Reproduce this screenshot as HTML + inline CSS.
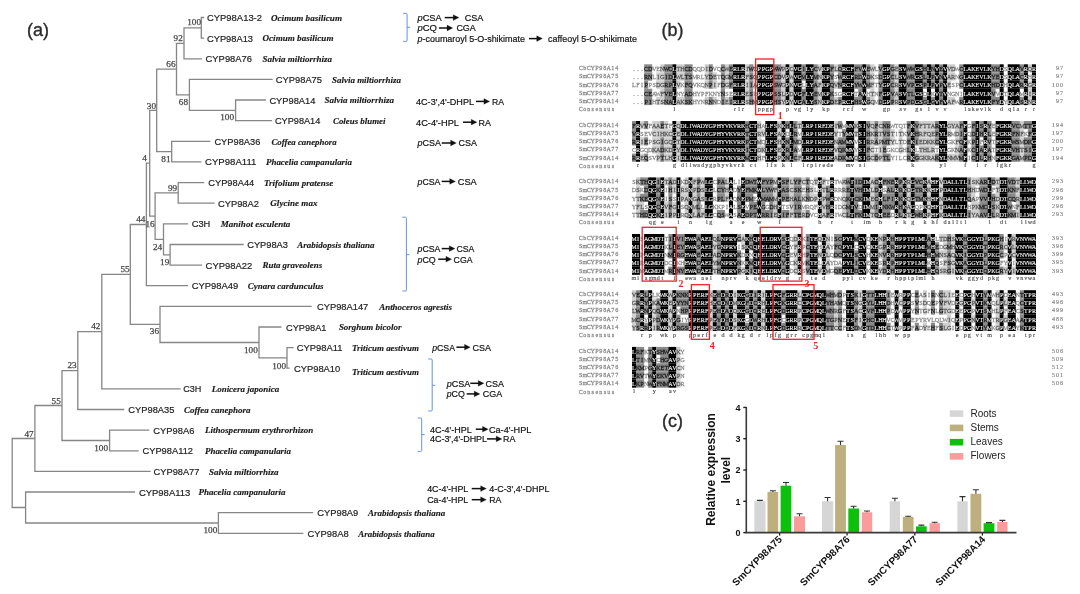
<!DOCTYPE html>
<html><head><meta charset="utf-8"><title>Figure</title>
<style>html,body{margin:0;padding:0;background:#fff;width:1080px;height:594px;overflow:hidden}
svg{display:block;font-family:"Liberation Sans",sans-serif;filter:blur(0.45px)}</style></head>
<body>
<svg width="1080" height="594" viewBox="0 0 1080 594"><g stroke="#868686" stroke-width="1.3" fill="none" stroke-linecap="square">
<path d="M201.3 17.5V38.1 M201.3 17.5H203.5 M201.3 38.1H203.5 M184.0 27.8V58.8 M184.0 27.8H201.3 M184.0 58.8H201.4 M235.6 100.0V120.7 M235.6 100.0H265.3 M235.6 120.7H271.4 M189.4 79.4V110.3 M189.4 79.4H272.0 M189.4 110.3H235.6 M176.5 43.3V94.9 M176.5 43.3H184.0 M176.5 94.9H189.4 M171.7 141.3V161.9 M171.7 141.3H209.7 M171.7 161.9H200.8 M156.7 69.1V151.6 M156.7 69.1H176.5 M156.7 151.6H171.7 M178.2 182.6V203.2 M178.2 182.6H203.6 M178.2 203.2H213.9 M170.1 244.5V265.1 M170.1 244.5H243.0 M170.1 265.1H201.4 M163.5 223.8V254.8 M163.5 223.8H187.5 M163.5 254.8H170.1 M155.1 192.9V239.3 M155.1 192.9H178.2 M155.1 239.3H163.5 M149.7 110.3V216.1 M149.7 110.3H156.7 M149.7 216.1H155.1 M146.4 163.2V285.7 M146.4 163.2H149.7 M146.4 285.7H187.5 M287.0 347.6V368.2 M287.0 347.6H293.0 M287.0 368.2H289.0 M259.0 327.0V357.9 M259.0 327.0H280.8 M259.0 357.9H287.0 M160.0 306.3V342.5 M160.0 306.3H311.0 M160.0 342.5H259.0 M130.3 224.5V324.4 M130.3 224.5H146.4 M130.3 324.4H160.0 M101.8 274.4V388.9 M101.8 274.4H130.3 M101.8 388.9H180.0 M77.8 331.7V409.5 M77.8 331.7H101.8 M77.8 409.5H123.6 M109.6 430.1V450.8 M109.6 430.1H148.6 M109.6 450.8H138.0 M62.0 370.6V440.5 M62.0 370.6H77.8 M62.0 440.5H109.6 M34.9 405.5V471.4 M34.9 405.5H62.0 M34.9 471.4H150.0 M218.4 512.7V533.3 M218.4 512.7H312.5 M218.4 533.3H302.8 M25.6 492.0V523.0 M25.6 492.0H134.4 M25.6 523.0H218.4 M12.2 438.5V507.5 M12.2 438.5H34.9 M12.2 507.5H25.6"/>
</g>
<g font-family="Liberation Serif" font-size="9.2" fill="#444" stroke="#444" stroke-width="0.25" text-anchor="end">
<text x="201.0" y="25.2">100</text>
<text x="182.8" y="40.7">92</text>
<text x="175.5" y="67.2">66</text>
<text x="188.0" y="105.0">68</text>
<text x="156.0" y="108.7">30</text>
<text x="170.5" y="161.6">81</text>
<text x="146.8" y="161.2">4</text>
<text x="177.2" y="190.7">99</text>
<text x="154.6" y="226.5">16</text>
<text x="145.4" y="222.2">44</text>
<text x="162.2" y="249.7">24</text>
<text x="169.3" y="264.8">19</text>
<text x="129.7" y="272.2">55</text>
<text x="159.0" y="334.4">36</text>
<text x="100.4" y="329.2">42</text>
<text x="76.6" y="368.2">23</text>
<text x="60.8" y="403.7">55</text>
<text x="108.0" y="450.9">100</text>
<text x="33.7" y="436.7">47</text>
<text x="217.3" y="533.2">100</text>
<text x="234.0" y="120.2">100</text>
<text x="257.8" y="353.2">100</text>
<text x="286.0" y="368.5">100</text>
</g>
<g font-family="Liberation Sans" font-size="9.9" fill="#222" stroke="#222" stroke-width="0.2">
<text x="207.0" y="21.0" textLength="55.0" lengthAdjust="spacingAndGlyphs">CYP98A13-2</text>
<text x="207.0" y="41.6" textLength="46.0" lengthAdjust="spacingAndGlyphs">CYP98A13</text>
<text x="205.6" y="62.3" textLength="46.4" lengthAdjust="spacingAndGlyphs">CYP98A76</text>
<text x="275.8" y="82.9" textLength="46.2" lengthAdjust="spacingAndGlyphs">CYP98A75</text>
<text x="269.4" y="103.5" textLength="46.0" lengthAdjust="spacingAndGlyphs">CYP98A14</text>
<text x="275.0" y="124.2" textLength="45.3" lengthAdjust="spacingAndGlyphs">CYP98A14</text>
<text x="214.4" y="144.8" textLength="45.9" lengthAdjust="spacingAndGlyphs">CYP98A36</text>
<text x="205.0" y="165.4" textLength="51.4" lengthAdjust="spacingAndGlyphs">CYP98A111</text>
<text x="208.3" y="186.1" textLength="45.9" lengthAdjust="spacingAndGlyphs">CYP98A44</text>
<text x="218.0" y="206.7" textLength="40.9" lengthAdjust="spacingAndGlyphs">CYP98A2</text>
<text x="191.7" y="227.3" textLength="18.6" lengthAdjust="spacingAndGlyphs">C3H</text>
<text x="247.2" y="248.0" textLength="40.8" lengthAdjust="spacingAndGlyphs">CYP98A3</text>
<text x="205.6" y="268.6" textLength="46.6" lengthAdjust="spacingAndGlyphs">CYP98A22</text>
<text x="191.7" y="289.2" textLength="46.6" lengthAdjust="spacingAndGlyphs">CYP98A49</text>
<text x="317.0" y="309.8" textLength="51.3" lengthAdjust="spacingAndGlyphs">CYP98A147</text>
<text x="286.0" y="330.5" textLength="40.4" lengthAdjust="spacingAndGlyphs">CYP98A1</text>
<text x="296.7" y="351.1" textLength="45.8" lengthAdjust="spacingAndGlyphs">CYP98A11</text>
<text x="293.9" y="371.7" textLength="46.4" lengthAdjust="spacingAndGlyphs">CYP98A10</text>
<text x="183.3" y="392.4" textLength="18.1" lengthAdjust="spacingAndGlyphs">C3H</text>
<text x="128.3" y="413.0" textLength="46.1" lengthAdjust="spacingAndGlyphs">CYP98A35</text>
<text x="153.3" y="433.6" textLength="41.1" lengthAdjust="spacingAndGlyphs">CYP98A6</text>
<text x="142.5" y="454.3" textLength="50.5" lengthAdjust="spacingAndGlyphs">CYP98A112</text>
<text x="153.6" y="474.9" textLength="45.8" lengthAdjust="spacingAndGlyphs">CYP98A77</text>
<text x="138.9" y="495.5" textLength="51.4" lengthAdjust="spacingAndGlyphs">CYP98A113</text>
<text x="317.2" y="516.2" textLength="41.1" lengthAdjust="spacingAndGlyphs">CYP98A9</text>
<text x="307.5" y="536.8" textLength="41.1" lengthAdjust="spacingAndGlyphs">CYP98A8</text>
</g>
<g font-family="Liberation Serif" font-size="9.2" font-weight="bold" font-style="italic" fill="#1a1a1a" stroke="#1a1a1a" stroke-width="0.15">
<text x="271.0" y="20.7" textLength="71.0" lengthAdjust="spacingAndGlyphs">Ocimum basilicum</text>
<text x="262.5" y="41.3" textLength="71.0" lengthAdjust="spacingAndGlyphs">Ocimum basilicum</text>
<text x="262.5" y="62.0" textLength="69.5" lengthAdjust="spacingAndGlyphs">Salvia miltiorrhiza</text>
<text x="332.0" y="82.6" textLength="69.0" lengthAdjust="spacingAndGlyphs">Salvia miltiorrhiza</text>
<text x="324.4" y="103.2" textLength="69.6" lengthAdjust="spacingAndGlyphs">Salvia miltiorrhiza</text>
<text x="333.0" y="123.9" textLength="52.5" lengthAdjust="spacingAndGlyphs">Coleus blumei</text>
<text x="271.4" y="144.5" textLength="65.3" lengthAdjust="spacingAndGlyphs">Coffea canephora</text>
<text x="266.0" y="165.1" textLength="86.0" lengthAdjust="spacingAndGlyphs">Phacelia campanularia</text>
<text x="263.9" y="185.8" textLength="69.4" lengthAdjust="spacingAndGlyphs">Trifolium pratense</text>
<text x="270.3" y="206.4" textLength="47.2" lengthAdjust="spacingAndGlyphs">Glycine max</text>
<text x="220.8" y="227.0" textLength="69.5" lengthAdjust="spacingAndGlyphs">Manihot esculenta</text>
<text x="297.2" y="247.7" textLength="77.2" lengthAdjust="spacingAndGlyphs">Arabidopsis thaliana</text>
<text x="262.5" y="268.3" textLength="59.7" lengthAdjust="spacingAndGlyphs">Ruta graveolens</text>
<text x="247.8" y="288.9" textLength="75.8" lengthAdjust="spacingAndGlyphs">Cynara cardunculus</text>
<text x="379.2" y="309.5" textLength="72.8" lengthAdjust="spacingAndGlyphs">Anthoceros agrestis</text>
<text x="338.9" y="330.2" textLength="62.5" lengthAdjust="spacingAndGlyphs">Sorghum bicolor</text>
<text x="352.0" y="350.8" textLength="66.9" lengthAdjust="spacingAndGlyphs">Triticum aestivum</text>
<text x="352.0" y="374.7" textLength="66.9" lengthAdjust="spacingAndGlyphs">Triticum aestivum</text>
<text x="211.7" y="392.1" textLength="67.5" lengthAdjust="spacingAndGlyphs">Lonicera japonica</text>
<text x="183.9" y="412.7" textLength="66.7" lengthAdjust="spacingAndGlyphs">Coffea canephora</text>
<text x="205.0" y="433.3" textLength="108.3" lengthAdjust="spacingAndGlyphs">Lithospermum erythrorhizon</text>
<text x="205.0" y="454.0" textLength="86.0" lengthAdjust="spacingAndGlyphs">Phacelia campanularia</text>
<text x="208.9" y="474.6" textLength="69.7" lengthAdjust="spacingAndGlyphs">Salvia miltiorrhiza</text>
<text x="198.4" y="495.2" textLength="87.2" lengthAdjust="spacingAndGlyphs">Phacelia campanularia</text>
<text x="368.0" y="515.9" textLength="77.3" lengthAdjust="spacingAndGlyphs">Arabidopsis thaliana</text>
<text x="358.3" y="536.5" textLength="76.4" lengthAdjust="spacingAndGlyphs">Arabidopsis thaliana</text>
</g>
<g font-family="Liberation Sans" font-size="9.7" fill="#151515" stroke="#151515" stroke-width="0.22">
<path d="M403.1 13.3H406.1Q407.1 13.3 407.1 14.3V40.4Q407.1 41.4 406.1 41.4H403.1M407.1 27.3H410.1" stroke="#6693da" stroke-width="1.0" fill="none"/>
<text x="417.5" y="20.8" textLength="24.2" lengthAdjust="spacingAndGlyphs"><tspan font-style="italic">p</tspan>CSA</text>
<path d="M444.7 17.6H455.0" stroke="#111" stroke-width="1.5"/>
<path d="M453.2 14.7L459.0 17.6L453.2 20.5Z" fill="#111"/>
<text x="464.7" y="20.8" textLength="18.6" lengthAdjust="spacingAndGlyphs">CSA</text>
<text x="417.5" y="31.4" textLength="19.5" lengthAdjust="spacingAndGlyphs"><tspan font-style="italic">p</tspan>CQ</text>
<path d="M439.0 28.0H448.8" stroke="#111" stroke-width="1.5"/>
<path d="M447.0 25.1L452.8 28.0L447.0 30.9Z" fill="#111"/>
<text x="456.4" y="31.4" textLength="19.4" lengthAdjust="spacingAndGlyphs">CGA</text>
<text x="417.5" y="42.0" textLength="107.5" lengthAdjust="spacingAndGlyphs"><tspan font-style="italic">p</tspan>-coumaroyl 5-O-shikimate</text>
<path d="M529.0 38.6H538.5" stroke="#111" stroke-width="1.5"/>
<path d="M536.7 35.7L542.5 38.6L536.7 41.5Z" fill="#111"/>
<text x="548.0" y="42.0" textLength="89.0" lengthAdjust="spacingAndGlyphs">caffeoyl 5-O-shikimate</text>
<text x="416.0" y="104.8" textLength="58.0" lengthAdjust="spacingAndGlyphs">4C-3',4'-DHPL</text>
<path d="M476.0 101.4H485.7" stroke="#111" stroke-width="1.5"/>
<path d="M483.9 98.5L489.7 101.4L483.9 104.3Z" fill="#111"/>
<text x="492.0" y="104.8" textLength="12.0" lengthAdjust="spacingAndGlyphs">RA</text>
<text x="416.0" y="125.6" textLength="43.0" lengthAdjust="spacingAndGlyphs">4C-4'-HPL</text>
<path d="M463.0 122.2H473.0" stroke="#111" stroke-width="1.5"/>
<path d="M471.2 119.3L477.0 122.2L471.2 125.1Z" fill="#111"/>
<text x="478.6" y="125.6" textLength="12.4" lengthAdjust="spacingAndGlyphs">RA</text>
<text x="417.5" y="146.4" textLength="23.5" lengthAdjust="spacingAndGlyphs"><tspan font-style="italic">p</tspan>CSA</text>
<path d="M441.7 143.0H452.4" stroke="#111" stroke-width="1.5"/>
<path d="M450.6 140.1L456.4 143.0L450.6 145.9Z" fill="#111"/>
<text x="458.6" y="146.4" textLength="18.4" lengthAdjust="spacingAndGlyphs">CSA</text>
<text x="417.5" y="184.8" textLength="23.0" lengthAdjust="spacingAndGlyphs"><tspan font-style="italic">p</tspan>CSA</text>
<path d="M441.7 181.4H451.5" stroke="#111" stroke-width="1.5"/>
<path d="M449.7 178.5L455.5 181.4L449.7 184.3Z" fill="#111"/>
<text x="457.8" y="184.8" textLength="18.9" lengthAdjust="spacingAndGlyphs">CSA</text>
<path d="M402.4 217.2H405.4Q406.4 217.2 406.4 218.2V290.0Q406.4 291.0 405.4 291.0H402.4M406.4 254.7H409.4" stroke="#6693da" stroke-width="1.0" fill="none"/>
<text x="417.5" y="252.0" textLength="23.0" lengthAdjust="spacingAndGlyphs"><tspan font-style="italic">p</tspan>CSA</text>
<path d="M441.7 248.6H451.0" stroke="#111" stroke-width="1.5"/>
<path d="M449.2 245.7L455.0 248.6L449.2 251.5Z" fill="#111"/>
<text x="456.4" y="252.0" textLength="18.0" lengthAdjust="spacingAndGlyphs">CSA</text>
<text x="417.5" y="262.6" textLength="18.1" lengthAdjust="spacingAndGlyphs"><tspan font-style="italic">p</tspan>CQ</text>
<path d="M438.3 259.2H447.7" stroke="#111" stroke-width="1.5"/>
<path d="M445.9 256.3L451.7 259.2L445.9 262.1Z" fill="#111"/>
<text x="453.6" y="262.6" textLength="18.9" lengthAdjust="spacingAndGlyphs">CGA</text>
<text x="432.2" y="350.6" textLength="22.8" lengthAdjust="spacingAndGlyphs"><tspan font-style="italic">p</tspan>CSA</text>
<path d="M456.4 347.2H466.3" stroke="#111" stroke-width="1.5"/>
<path d="M464.5 344.3L470.3 347.2L464.5 350.1Z" fill="#111"/>
<text x="472.5" y="350.6" textLength="18.5" lengthAdjust="spacingAndGlyphs">CSA</text>
<path d="M428.2 359.0H431.2Q432.2 359.0 432.2 360.0V410.0Q432.2 411.0 431.2 411.0H428.2M432.2 385.3H435.2" stroke="#6693da" stroke-width="1.0" fill="none"/>
<text x="446.7" y="386.7" textLength="23.6" lengthAdjust="spacingAndGlyphs"><tspan font-style="italic">p</tspan>CSA</text>
<path d="M470.3 383.3H480.0" stroke="#111" stroke-width="1.5"/>
<path d="M478.2 380.4L484.0 383.3L478.2 386.2Z" fill="#111"/>
<text x="485.6" y="386.7" textLength="18.4" lengthAdjust="spacingAndGlyphs">CSA</text>
<text x="446.7" y="397.3" textLength="18.0" lengthAdjust="spacingAndGlyphs"><tspan font-style="italic">p</tspan>CQ</text>
<path d="M466.7 393.9H476.0" stroke="#111" stroke-width="1.5"/>
<path d="M474.2 391.0L480.0 393.9L474.2 396.8Z" fill="#111"/>
<text x="482.8" y="397.3" textLength="19.4" lengthAdjust="spacingAndGlyphs">CGA</text>
<path d="M417.7 418.0H420.7Q421.7 418.0 421.7 419.0V450.4Q421.7 451.4 420.7 451.4H417.7M421.7 434.7H424.7" stroke="#6693da" stroke-width="1.0" fill="none"/>
<text x="430.0" y="432.6" textLength="41.7" lengthAdjust="spacingAndGlyphs">4C-4'-HPL</text>
<path d="M475.8 429.2H484.3" stroke="#111" stroke-width="1.5"/>
<path d="M482.5 426.3L488.3 429.2L482.5 432.1Z" fill="#111"/>
<text x="488.9" y="432.6" textLength="42.5" lengthAdjust="spacingAndGlyphs">Ca-4'-HPL</text>
<text x="430.0" y="442.3" textLength="57.0" lengthAdjust="spacingAndGlyphs">4C-3',4'-DHPL</text>
<path d="M487.0 438.9H498.0" stroke="#111" stroke-width="1.5"/>
<path d="M496.2 436.0L502.0 438.9L496.2 441.8Z" fill="#111"/>
<text x="503.0" y="442.3" textLength="12.3" lengthAdjust="spacingAndGlyphs">RA</text>
<text x="427.2" y="492.0" textLength="41.1" lengthAdjust="spacingAndGlyphs">4C-4'-HPL</text>
<path d="M471.7 488.6H482.4" stroke="#111" stroke-width="1.5"/>
<path d="M480.6 485.7L486.4 488.6L480.6 491.5Z" fill="#111"/>
<text x="489.2" y="492.0" textLength="60.2" lengthAdjust="spacingAndGlyphs">4-C-3',4'-DHPL</text>
<text x="427.2" y="503.1" textLength="41.1" lengthAdjust="spacingAndGlyphs">Ca-4'-HPL</text>
<path d="M471.7 499.7H482.4" stroke="#111" stroke-width="1.5"/>
<path d="M480.6 496.8L486.4 499.7L480.6 502.6Z" fill="#111"/>
<text x="489.2" y="503.1" textLength="12.2" lengthAdjust="spacingAndGlyphs">RA</text>
</g>
<g font-family="Liberation Sans" font-size="18" fill="#2a2a2a" stroke="#2a2a2a" stroke-width="0.35">
<text x="27" y="35.8">(a)</text>
<text x="661.5" y="35.9">(b)</text>
<text x="662" y="426.6">(c)</text>
</g>
<g font-family="Liberation Serif" font-size="7.1" text-anchor="middle">
<rect x="644.12" y="64.30" width="8.08" height="8.20" fill="#8a8a8a"/>
<rect x="660.28" y="64.30" width="4.04" height="8.20" fill="#cfcfcf"/>
<rect x="664.32" y="64.30" width="8.08" height="8.20" fill="#8a8a8a"/>
<rect x="672.40" y="64.30" width="4.04" height="8.20" fill="#000000"/>
<rect x="676.44" y="64.30" width="8.08" height="8.20" fill="#cfcfcf"/>
<rect x="684.52" y="64.30" width="8.08" height="8.20" fill="#8a8a8a"/>
<rect x="704.72" y="64.30" width="4.04" height="8.20" fill="#cfcfcf"/>
<rect x="708.76" y="64.30" width="4.04" height="8.20" fill="#8a8a8a"/>
<rect x="720.88" y="64.30" width="4.04" height="8.20" fill="#8a8a8a"/>
<rect x="724.92" y="64.30" width="4.04" height="8.20" fill="#cfcfcf"/>
<rect x="728.96" y="64.30" width="4.04" height="8.20" fill="#8a8a8a"/>
<rect x="733.00" y="64.30" width="12.12" height="8.20" fill="#000000"/>
<rect x="745.12" y="64.30" width="4.04" height="8.20" fill="#cfcfcf"/>
<rect x="749.16" y="64.30" width="4.04" height="8.20" fill="#8a8a8a"/>
<rect x="753.20" y="64.30" width="4.04" height="8.20" fill="#cfcfcf"/>
<rect x="757.24" y="64.30" width="16.16" height="8.20" fill="#000000"/>
<rect x="773.40" y="64.30" width="8.08" height="8.20" fill="#8a8a8a"/>
<rect x="781.48" y="64.30" width="4.04" height="8.20" fill="#cfcfcf"/>
<rect x="785.52" y="64.30" width="4.04" height="8.20" fill="#000000"/>
<rect x="789.56" y="64.30" width="4.04" height="8.20" fill="#cfcfcf"/>
<rect x="793.60" y="64.30" width="8.08" height="8.20" fill="#000000"/>
<rect x="801.68" y="64.30" width="4.04" height="8.20" fill="#8a8a8a"/>
<rect x="805.72" y="64.30" width="8.08" height="8.20" fill="#000000"/>
<rect x="813.80" y="64.30" width="4.04" height="8.20" fill="#8a8a8a"/>
<rect x="817.84" y="64.30" width="4.04" height="8.20" fill="#cfcfcf"/>
<rect x="821.88" y="64.30" width="8.08" height="8.20" fill="#000000"/>
<rect x="829.96" y="64.30" width="4.04" height="8.20" fill="#8a8a8a"/>
<rect x="834.00" y="64.30" width="4.04" height="8.20" fill="#cfcfcf"/>
<rect x="838.04" y="64.30" width="4.04" height="8.20" fill="#8a8a8a"/>
<rect x="842.08" y="64.30" width="12.12" height="8.20" fill="#000000"/>
<rect x="854.20" y="64.30" width="8.08" height="8.20" fill="#8a8a8a"/>
<rect x="862.28" y="64.30" width="4.04" height="8.20" fill="#000000"/>
<rect x="866.32" y="64.30" width="4.04" height="8.20" fill="#8a8a8a"/>
<rect x="870.36" y="64.30" width="4.04" height="8.20" fill="#cfcfcf"/>
<rect x="878.44" y="64.30" width="4.04" height="8.20" fill="#8a8a8a"/>
<rect x="882.48" y="64.30" width="8.08" height="8.20" fill="#000000"/>
<rect x="890.56" y="64.30" width="4.04" height="8.20" fill="#8a8a8a"/>
<rect x="894.60" y="64.30" width="4.04" height="8.20" fill="#cfcfcf"/>
<rect x="898.64" y="64.30" width="8.08" height="8.20" fill="#000000"/>
<rect x="906.72" y="64.30" width="8.08" height="8.20" fill="#8a8a8a"/>
<rect x="914.80" y="64.30" width="8.08" height="8.20" fill="#000000"/>
<rect x="922.88" y="64.30" width="4.04" height="8.20" fill="#8a8a8a"/>
<rect x="926.92" y="64.30" width="4.04" height="8.20" fill="#000000"/>
<rect x="930.96" y="64.30" width="4.04" height="8.20" fill="#8a8a8a"/>
<rect x="935.00" y="64.30" width="4.04" height="8.20" fill="#000000"/>
<rect x="939.04" y="64.30" width="4.04" height="8.20" fill="#8a8a8a"/>
<rect x="943.08" y="64.30" width="4.04" height="8.20" fill="#000000"/>
<rect x="947.12" y="64.30" width="8.08" height="8.20" fill="#cfcfcf"/>
<rect x="959.24" y="64.30" width="4.04" height="8.20" fill="#8a8a8a"/>
<rect x="963.28" y="64.30" width="28.28" height="8.20" fill="#000000"/>
<rect x="991.56" y="64.30" width="8.08" height="8.20" fill="#8a8a8a"/>
<rect x="999.64" y="64.30" width="4.04" height="8.20" fill="#000000"/>
<rect x="1007.72" y="64.30" width="12.12" height="8.20" fill="#000000"/>
<rect x="1019.84" y="64.30" width="4.04" height="8.20" fill="#8a8a8a"/>
<rect x="1023.88" y="64.30" width="4.04" height="8.20" fill="#000000"/>
<rect x="1027.92" y="64.30" width="4.04" height="8.20" fill="#cfcfcf"/>
<rect x="1031.96" y="64.30" width="4.04" height="8.20" fill="#000000"/>
<rect x="644.12" y="72.45" width="8.08" height="8.20" fill="#8a8a8a"/>
<rect x="656.24" y="72.45" width="8.08" height="8.20" fill="#cfcfcf"/>
<rect x="664.32" y="72.45" width="8.08" height="8.20" fill="#8a8a8a"/>
<rect x="672.40" y="72.45" width="4.04" height="8.20" fill="#000000"/>
<rect x="676.44" y="72.45" width="8.08" height="8.20" fill="#cfcfcf"/>
<rect x="684.52" y="72.45" width="8.08" height="8.20" fill="#8a8a8a"/>
<rect x="704.72" y="72.45" width="4.04" height="8.20" fill="#cfcfcf"/>
<rect x="708.76" y="72.45" width="4.04" height="8.20" fill="#8a8a8a"/>
<rect x="712.80" y="72.45" width="4.04" height="8.20" fill="#cfcfcf"/>
<rect x="720.88" y="72.45" width="4.04" height="8.20" fill="#8a8a8a"/>
<rect x="724.92" y="72.45" width="4.04" height="8.20" fill="#cfcfcf"/>
<rect x="728.96" y="72.45" width="4.04" height="8.20" fill="#8a8a8a"/>
<rect x="733.00" y="72.45" width="12.12" height="8.20" fill="#000000"/>
<rect x="745.12" y="72.45" width="4.04" height="8.20" fill="#cfcfcf"/>
<rect x="749.16" y="72.45" width="4.04" height="8.20" fill="#8a8a8a"/>
<rect x="753.20" y="72.45" width="4.04" height="8.20" fill="#cfcfcf"/>
<rect x="757.24" y="72.45" width="16.16" height="8.20" fill="#000000"/>
<rect x="773.40" y="72.45" width="8.08" height="8.20" fill="#8a8a8a"/>
<rect x="781.48" y="72.45" width="4.04" height="8.20" fill="#cfcfcf"/>
<rect x="785.52" y="72.45" width="4.04" height="8.20" fill="#000000"/>
<rect x="789.56" y="72.45" width="4.04" height="8.20" fill="#cfcfcf"/>
<rect x="793.60" y="72.45" width="8.08" height="8.20" fill="#000000"/>
<rect x="801.68" y="72.45" width="4.04" height="8.20" fill="#8a8a8a"/>
<rect x="805.72" y="72.45" width="8.08" height="8.20" fill="#000000"/>
<rect x="813.80" y="72.45" width="4.04" height="8.20" fill="#8a8a8a"/>
<rect x="817.84" y="72.45" width="4.04" height="8.20" fill="#cfcfcf"/>
<rect x="821.88" y="72.45" width="8.08" height="8.20" fill="#000000"/>
<rect x="829.96" y="72.45" width="4.04" height="8.20" fill="#8a8a8a"/>
<rect x="838.04" y="72.45" width="4.04" height="8.20" fill="#8a8a8a"/>
<rect x="842.08" y="72.45" width="12.12" height="8.20" fill="#000000"/>
<rect x="854.20" y="72.45" width="8.08" height="8.20" fill="#8a8a8a"/>
<rect x="862.28" y="72.45" width="4.04" height="8.20" fill="#000000"/>
<rect x="866.32" y="72.45" width="4.04" height="8.20" fill="#8a8a8a"/>
<rect x="870.36" y="72.45" width="4.04" height="8.20" fill="#cfcfcf"/>
<rect x="878.44" y="72.45" width="4.04" height="8.20" fill="#8a8a8a"/>
<rect x="882.48" y="72.45" width="8.08" height="8.20" fill="#000000"/>
<rect x="890.56" y="72.45" width="4.04" height="8.20" fill="#8a8a8a"/>
<rect x="894.60" y="72.45" width="4.04" height="8.20" fill="#cfcfcf"/>
<rect x="898.64" y="72.45" width="8.08" height="8.20" fill="#000000"/>
<rect x="906.72" y="72.45" width="8.08" height="8.20" fill="#8a8a8a"/>
<rect x="914.80" y="72.45" width="8.08" height="8.20" fill="#000000"/>
<rect x="922.88" y="72.45" width="4.04" height="8.20" fill="#8a8a8a"/>
<rect x="926.92" y="72.45" width="4.04" height="8.20" fill="#000000"/>
<rect x="930.96" y="72.45" width="4.04" height="8.20" fill="#8a8a8a"/>
<rect x="935.00" y="72.45" width="4.04" height="8.20" fill="#000000"/>
<rect x="939.04" y="72.45" width="4.04" height="8.20" fill="#8a8a8a"/>
<rect x="943.08" y="72.45" width="4.04" height="8.20" fill="#000000"/>
<rect x="947.12" y="72.45" width="8.08" height="8.20" fill="#cfcfcf"/>
<rect x="959.24" y="72.45" width="4.04" height="8.20" fill="#8a8a8a"/>
<rect x="963.28" y="72.45" width="28.28" height="8.20" fill="#000000"/>
<rect x="991.56" y="72.45" width="8.08" height="8.20" fill="#8a8a8a"/>
<rect x="999.64" y="72.45" width="4.04" height="8.20" fill="#000000"/>
<rect x="1007.72" y="72.45" width="12.12" height="8.20" fill="#000000"/>
<rect x="1019.84" y="72.45" width="4.04" height="8.20" fill="#8a8a8a"/>
<rect x="1023.88" y="72.45" width="4.04" height="8.20" fill="#000000"/>
<rect x="1031.96" y="72.45" width="4.04" height="8.20" fill="#000000"/>
<rect x="644.12" y="80.60" width="4.04" height="8.20" fill="#8a8a8a"/>
<rect x="656.24" y="80.60" width="8.08" height="8.20" fill="#cfcfcf"/>
<rect x="664.32" y="80.60" width="8.08" height="8.20" fill="#8a8a8a"/>
<rect x="672.40" y="80.60" width="4.04" height="8.20" fill="#000000"/>
<rect x="676.44" y="80.60" width="4.04" height="8.20" fill="#cfcfcf"/>
<rect x="684.52" y="80.60" width="8.08" height="8.20" fill="#8a8a8a"/>
<rect x="704.72" y="80.60" width="4.04" height="8.20" fill="#cfcfcf"/>
<rect x="708.76" y="80.60" width="4.04" height="8.20" fill="#8a8a8a"/>
<rect x="712.80" y="80.60" width="4.04" height="8.20" fill="#cfcfcf"/>
<rect x="720.88" y="80.60" width="4.04" height="8.20" fill="#8a8a8a"/>
<rect x="724.92" y="80.60" width="4.04" height="8.20" fill="#cfcfcf"/>
<rect x="728.96" y="80.60" width="4.04" height="8.20" fill="#8a8a8a"/>
<rect x="733.00" y="80.60" width="12.12" height="8.20" fill="#000000"/>
<rect x="745.12" y="80.60" width="4.04" height="8.20" fill="#cfcfcf"/>
<rect x="749.16" y="80.60" width="4.04" height="8.20" fill="#8a8a8a"/>
<rect x="753.20" y="80.60" width="4.04" height="8.20" fill="#cfcfcf"/>
<rect x="757.24" y="80.60" width="16.16" height="8.20" fill="#000000"/>
<rect x="773.40" y="80.60" width="8.08" height="8.20" fill="#8a8a8a"/>
<rect x="781.48" y="80.60" width="4.04" height="8.20" fill="#cfcfcf"/>
<rect x="785.52" y="80.60" width="4.04" height="8.20" fill="#000000"/>
<rect x="789.56" y="80.60" width="4.04" height="8.20" fill="#cfcfcf"/>
<rect x="793.60" y="80.60" width="8.08" height="8.20" fill="#000000"/>
<rect x="805.72" y="80.60" width="8.08" height="8.20" fill="#000000"/>
<rect x="813.80" y="80.60" width="4.04" height="8.20" fill="#8a8a8a"/>
<rect x="817.84" y="80.60" width="4.04" height="8.20" fill="#cfcfcf"/>
<rect x="821.88" y="80.60" width="8.08" height="8.20" fill="#000000"/>
<rect x="829.96" y="80.60" width="4.04" height="8.20" fill="#8a8a8a"/>
<rect x="834.00" y="80.60" width="4.04" height="8.20" fill="#cfcfcf"/>
<rect x="838.04" y="80.60" width="4.04" height="8.20" fill="#8a8a8a"/>
<rect x="842.08" y="80.60" width="12.12" height="8.20" fill="#000000"/>
<rect x="854.20" y="80.60" width="8.08" height="8.20" fill="#8a8a8a"/>
<rect x="862.28" y="80.60" width="4.04" height="8.20" fill="#000000"/>
<rect x="866.32" y="80.60" width="4.04" height="8.20" fill="#8a8a8a"/>
<rect x="870.36" y="80.60" width="4.04" height="8.20" fill="#cfcfcf"/>
<rect x="878.44" y="80.60" width="4.04" height="8.20" fill="#8a8a8a"/>
<rect x="882.48" y="80.60" width="8.08" height="8.20" fill="#000000"/>
<rect x="890.56" y="80.60" width="4.04" height="8.20" fill="#8a8a8a"/>
<rect x="894.60" y="80.60" width="4.04" height="8.20" fill="#cfcfcf"/>
<rect x="898.64" y="80.60" width="8.08" height="8.20" fill="#000000"/>
<rect x="906.72" y="80.60" width="8.08" height="8.20" fill="#8a8a8a"/>
<rect x="914.80" y="80.60" width="8.08" height="8.20" fill="#000000"/>
<rect x="922.88" y="80.60" width="4.04" height="8.20" fill="#8a8a8a"/>
<rect x="926.92" y="80.60" width="4.04" height="8.20" fill="#000000"/>
<rect x="930.96" y="80.60" width="4.04" height="8.20" fill="#8a8a8a"/>
<rect x="935.00" y="80.60" width="4.04" height="8.20" fill="#000000"/>
<rect x="939.04" y="80.60" width="4.04" height="8.20" fill="#8a8a8a"/>
<rect x="943.08" y="80.60" width="4.04" height="8.20" fill="#000000"/>
<rect x="947.12" y="80.60" width="4.04" height="8.20" fill="#cfcfcf"/>
<rect x="959.24" y="80.60" width="4.04" height="8.20" fill="#8a8a8a"/>
<rect x="963.28" y="80.60" width="28.28" height="8.20" fill="#000000"/>
<rect x="991.56" y="80.60" width="8.08" height="8.20" fill="#8a8a8a"/>
<rect x="999.64" y="80.60" width="4.04" height="8.20" fill="#000000"/>
<rect x="1007.72" y="80.60" width="12.12" height="8.20" fill="#000000"/>
<rect x="1019.84" y="80.60" width="4.04" height="8.20" fill="#8a8a8a"/>
<rect x="1023.88" y="80.60" width="4.04" height="8.20" fill="#000000"/>
<rect x="1027.92" y="80.60" width="4.04" height="8.20" fill="#cfcfcf"/>
<rect x="1031.96" y="80.60" width="4.04" height="8.20" fill="#000000"/>
<rect x="644.12" y="88.75" width="8.08" height="8.20" fill="#8a8a8a"/>
<rect x="660.28" y="88.75" width="4.04" height="8.20" fill="#cfcfcf"/>
<rect x="664.32" y="88.75" width="8.08" height="8.20" fill="#8a8a8a"/>
<rect x="672.40" y="88.75" width="4.04" height="8.20" fill="#000000"/>
<rect x="684.52" y="88.75" width="8.08" height="8.20" fill="#8a8a8a"/>
<rect x="720.88" y="88.75" width="4.04" height="8.20" fill="#8a8a8a"/>
<rect x="733.00" y="88.75" width="12.12" height="8.20" fill="#000000"/>
<rect x="745.12" y="88.75" width="4.04" height="8.20" fill="#cfcfcf"/>
<rect x="749.16" y="88.75" width="4.04" height="8.20" fill="#8a8a8a"/>
<rect x="757.24" y="88.75" width="16.16" height="8.20" fill="#000000"/>
<rect x="773.40" y="88.75" width="8.08" height="8.20" fill="#8a8a8a"/>
<rect x="781.48" y="88.75" width="4.04" height="8.20" fill="#cfcfcf"/>
<rect x="785.52" y="88.75" width="4.04" height="8.20" fill="#000000"/>
<rect x="789.56" y="88.75" width="4.04" height="8.20" fill="#cfcfcf"/>
<rect x="793.60" y="88.75" width="8.08" height="8.20" fill="#000000"/>
<rect x="801.68" y="88.75" width="4.04" height="8.20" fill="#8a8a8a"/>
<rect x="805.72" y="88.75" width="8.08" height="8.20" fill="#000000"/>
<rect x="813.80" y="88.75" width="4.04" height="8.20" fill="#8a8a8a"/>
<rect x="817.84" y="88.75" width="4.04" height="8.20" fill="#cfcfcf"/>
<rect x="821.88" y="88.75" width="8.08" height="8.20" fill="#000000"/>
<rect x="829.96" y="88.75" width="4.04" height="8.20" fill="#8a8a8a"/>
<rect x="842.08" y="88.75" width="12.12" height="8.20" fill="#000000"/>
<rect x="858.24" y="88.75" width="4.04" height="8.20" fill="#8a8a8a"/>
<rect x="862.28" y="88.75" width="4.04" height="8.20" fill="#000000"/>
<rect x="870.36" y="88.75" width="4.04" height="8.20" fill="#cfcfcf"/>
<rect x="878.44" y="88.75" width="4.04" height="8.20" fill="#8a8a8a"/>
<rect x="882.48" y="88.75" width="8.08" height="8.20" fill="#000000"/>
<rect x="890.56" y="88.75" width="4.04" height="8.20" fill="#8a8a8a"/>
<rect x="894.60" y="88.75" width="4.04" height="8.20" fill="#cfcfcf"/>
<rect x="898.64" y="88.75" width="8.08" height="8.20" fill="#000000"/>
<rect x="906.72" y="88.75" width="8.08" height="8.20" fill="#8a8a8a"/>
<rect x="914.80" y="88.75" width="8.08" height="8.20" fill="#000000"/>
<rect x="926.92" y="88.75" width="4.04" height="8.20" fill="#000000"/>
<rect x="935.00" y="88.75" width="4.04" height="8.20" fill="#000000"/>
<rect x="939.04" y="88.75" width="4.04" height="8.20" fill="#8a8a8a"/>
<rect x="943.08" y="88.75" width="4.04" height="8.20" fill="#000000"/>
<rect x="963.28" y="88.75" width="28.28" height="8.20" fill="#000000"/>
<rect x="991.56" y="88.75" width="4.04" height="8.20" fill="#8a8a8a"/>
<rect x="999.64" y="88.75" width="4.04" height="8.20" fill="#000000"/>
<rect x="1007.72" y="88.75" width="12.12" height="8.20" fill="#000000"/>
<rect x="1023.88" y="88.75" width="4.04" height="8.20" fill="#000000"/>
<rect x="1027.92" y="88.75" width="4.04" height="8.20" fill="#cfcfcf"/>
<rect x="1031.96" y="88.75" width="4.04" height="8.20" fill="#000000"/>
<rect x="644.12" y="96.90" width="8.08" height="8.20" fill="#8a8a8a"/>
<rect x="656.24" y="96.90" width="8.08" height="8.20" fill="#cfcfcf"/>
<rect x="664.32" y="96.90" width="8.08" height="8.20" fill="#8a8a8a"/>
<rect x="672.40" y="96.90" width="4.04" height="8.20" fill="#000000"/>
<rect x="676.44" y="96.90" width="8.08" height="8.20" fill="#cfcfcf"/>
<rect x="684.52" y="96.90" width="8.08" height="8.20" fill="#8a8a8a"/>
<rect x="704.72" y="96.90" width="4.04" height="8.20" fill="#cfcfcf"/>
<rect x="708.76" y="96.90" width="4.04" height="8.20" fill="#8a8a8a"/>
<rect x="712.80" y="96.90" width="4.04" height="8.20" fill="#cfcfcf"/>
<rect x="720.88" y="96.90" width="4.04" height="8.20" fill="#8a8a8a"/>
<rect x="724.92" y="96.90" width="4.04" height="8.20" fill="#cfcfcf"/>
<rect x="728.96" y="96.90" width="4.04" height="8.20" fill="#8a8a8a"/>
<rect x="733.00" y="96.90" width="12.12" height="8.20" fill="#000000"/>
<rect x="745.12" y="96.90" width="4.04" height="8.20" fill="#cfcfcf"/>
<rect x="749.16" y="96.90" width="4.04" height="8.20" fill="#8a8a8a"/>
<rect x="753.20" y="96.90" width="4.04" height="8.20" fill="#cfcfcf"/>
<rect x="757.24" y="96.90" width="16.16" height="8.20" fill="#000000"/>
<rect x="773.40" y="96.90" width="8.08" height="8.20" fill="#8a8a8a"/>
<rect x="781.48" y="96.90" width="4.04" height="8.20" fill="#cfcfcf"/>
<rect x="785.52" y="96.90" width="4.04" height="8.20" fill="#000000"/>
<rect x="789.56" y="96.90" width="4.04" height="8.20" fill="#cfcfcf"/>
<rect x="793.60" y="96.90" width="8.08" height="8.20" fill="#000000"/>
<rect x="801.68" y="96.90" width="4.04" height="8.20" fill="#8a8a8a"/>
<rect x="805.72" y="96.90" width="8.08" height="8.20" fill="#000000"/>
<rect x="813.80" y="96.90" width="4.04" height="8.20" fill="#8a8a8a"/>
<rect x="817.84" y="96.90" width="4.04" height="8.20" fill="#cfcfcf"/>
<rect x="821.88" y="96.90" width="8.08" height="8.20" fill="#000000"/>
<rect x="829.96" y="96.90" width="4.04" height="8.20" fill="#8a8a8a"/>
<rect x="834.00" y="96.90" width="4.04" height="8.20" fill="#cfcfcf"/>
<rect x="838.04" y="96.90" width="4.04" height="8.20" fill="#8a8a8a"/>
<rect x="842.08" y="96.90" width="12.12" height="8.20" fill="#000000"/>
<rect x="854.20" y="96.90" width="8.08" height="8.20" fill="#8a8a8a"/>
<rect x="862.28" y="96.90" width="4.04" height="8.20" fill="#000000"/>
<rect x="866.32" y="96.90" width="4.04" height="8.20" fill="#8a8a8a"/>
<rect x="870.36" y="96.90" width="4.04" height="8.20" fill="#cfcfcf"/>
<rect x="878.44" y="96.90" width="4.04" height="8.20" fill="#8a8a8a"/>
<rect x="882.48" y="96.90" width="8.08" height="8.20" fill="#000000"/>
<rect x="890.56" y="96.90" width="4.04" height="8.20" fill="#8a8a8a"/>
<rect x="894.60" y="96.90" width="4.04" height="8.20" fill="#cfcfcf"/>
<rect x="898.64" y="96.90" width="8.08" height="8.20" fill="#000000"/>
<rect x="906.72" y="96.90" width="8.08" height="8.20" fill="#8a8a8a"/>
<rect x="914.80" y="96.90" width="8.08" height="8.20" fill="#000000"/>
<rect x="922.88" y="96.90" width="4.04" height="8.20" fill="#8a8a8a"/>
<rect x="926.92" y="96.90" width="4.04" height="8.20" fill="#000000"/>
<rect x="930.96" y="96.90" width="4.04" height="8.20" fill="#8a8a8a"/>
<rect x="935.00" y="96.90" width="4.04" height="8.20" fill="#000000"/>
<rect x="939.04" y="96.90" width="4.04" height="8.20" fill="#8a8a8a"/>
<rect x="943.08" y="96.90" width="4.04" height="8.20" fill="#000000"/>
<rect x="947.12" y="96.90" width="8.08" height="8.20" fill="#cfcfcf"/>
<rect x="959.24" y="96.90" width="4.04" height="8.20" fill="#8a8a8a"/>
<rect x="963.28" y="96.90" width="28.28" height="8.20" fill="#000000"/>
<rect x="991.56" y="96.90" width="8.08" height="8.20" fill="#8a8a8a"/>
<rect x="999.64" y="96.90" width="4.04" height="8.20" fill="#000000"/>
<rect x="1007.72" y="96.90" width="12.12" height="8.20" fill="#000000"/>
<rect x="1019.84" y="96.90" width="4.04" height="8.20" fill="#8a8a8a"/>
<rect x="1023.88" y="96.90" width="4.04" height="8.20" fill="#000000"/>
<rect x="1027.92" y="96.90" width="4.04" height="8.20" fill="#cfcfcf"/>
<rect x="1031.96" y="96.90" width="4.04" height="8.20" fill="#000000"/>
<text transform="scale(0.860,1)" x="675.3 680.0 684.7 689.3 694.0 698.6 703.3 707.9 712.6 717.2" y="70.30" fill="#888" stroke="#888" stroke-width="0.25">CbCYP98A14</text>
<text transform="scale(0.860,1)" x="675.3 680.0 684.7 689.3 694.0 698.6 703.3 707.9 712.6 717.2" y="78.45" fill="#888" stroke="#888" stroke-width="0.25">SmCYP98A75</text>
<text transform="scale(0.860,1)" x="675.3 680.0 684.7 689.3 694.0 698.6 703.3 707.9 712.6 717.2" y="86.60" fill="#888" stroke="#888" stroke-width="0.25">SmCYP98A76</text>
<text transform="scale(0.860,1)" x="675.3 680.0 684.7 689.3 694.0 698.6 703.3 707.9 712.6 717.2" y="94.75" fill="#888" stroke="#888" stroke-width="0.25">SmCYP98A77</text>
<text transform="scale(0.860,1)" x="675.3 680.0 684.7 689.3 694.0 698.6 703.3 707.9 712.6 717.2" y="102.90" fill="#888" stroke="#888" stroke-width="0.25">SmCYP98A14</text>
<text transform="scale(0.860,1)" x="675.3 680.0 684.7 689.3 694.0 698.6 703.3 707.9 712.6" y="111.05" fill="#888" stroke="#888" stroke-width="0.25">Consensus</text>
<text transform="scale(0.860,1)" x="784.2 854.7 859.4 864.1 882.9 887.6 892.3 897.0 915.7 925.1 929.8 939.2 943.9 958.0 962.7 981.5 986.2 990.9 1005.0 1028.5 1033.2 1047.3 1052.0 1066.1 1070.8 1080.2 1089.6 1099.0 1122.4 1127.1 1131.8 1136.5 1141.2 1145.9 1150.6 1164.7 1174.1 1178.8 1183.5 1192.9 1202.3" y="71.20" fill="#f0f0f0" stroke="#f0f0f0" stroke-width="0.15">LRLRPPGPPVGLYKPRCFWGPSVGSLVVLAKEVLKDQLARR</text>
<text transform="scale(0.860,1)" x="751.3 756.0 774.8 779.5 798.3 803.0 826.5 840.6 850.0 873.5 901.7 906.3 934.5 948.6 967.4 976.8 995.6 1000.3 1009.7 1023.8 1037.9 1056.7 1061.4 1075.5 1084.9 1094.3 1117.7 1155.3 1160.0 1188.2" y="71.20" fill="#1a1a1a" stroke="#1a1a1a" stroke-width="0.25">CDWCCDDCEWWWICFQFVEVGWWHNECYHV</text>
<text transform="scale(0.860,1)" x="770.1 788.9 793.6 821.8 845.3 868.8 878.2 911.0 920.4 953.3 972.1 1014.4 1042.6 1103.7 1108.3 1197.6" y="71.20" fill="#555555" stroke="#555555" stroke-width="0.25">NTHIWICPCVLWEVDQ</text>
<text transform="scale(0.860,1)" x="737.2 741.9 746.6 760.7 765.4 807.7 812.4 817.1 831.2 835.9 1019.1 1113.0 1169.4" y="71.20" fill="#888888" stroke="#888888" stroke-width="0.25">...VEQQDVQLWS</text>
<text transform="scale(0.860,1)" x="784.2 854.7 859.4 864.1 882.9 887.6 892.3 897.0 915.7 925.1 929.8 939.2 943.9 958.0 962.7 981.5 986.2 990.9 1005.0 1028.5 1033.2 1047.3 1052.0 1066.1 1070.8 1080.2 1089.6 1099.0 1122.4 1127.1 1131.8 1136.5 1141.2 1145.9 1150.6 1164.7 1174.1 1178.8 1183.5 1192.9 1202.3" y="79.35" fill="#f0f0f0" stroke="#f0f0f0" stroke-width="0.15">LRLRPPGPPVGLYKPRCFWGPSVGSLVVLAKEVLKDQLARR</text>
<text transform="scale(0.860,1)" x="751.3 756.0 774.8 779.5 798.3 803.0 826.5 840.6 850.0 873.5 901.7 906.3 934.5 948.6 967.4 976.8 995.6 1000.3 1009.7 1023.8 1037.9 1056.7 1061.4 1075.5 1084.9 1094.3 1117.7 1155.3 1160.0 1188.2" y="79.35" fill="#1a1a1a" stroke="#1a1a1a" stroke-width="0.25">RNIDTSDQMSCDMMYWRDDDCWRLPNGYEC</text>
<text transform="scale(0.860,1)" x="765.4 770.1 788.9 793.6 821.8 831.2 845.3 868.8 878.2 911.0 920.4 953.3 1014.4 1042.6 1103.7 1108.3" y="79.35" fill="#555555" stroke="#555555" stroke-width="0.25">IGWLYEGFQVWNKLAR</text>
<text transform="scale(0.860,1)" x="737.2 741.9 746.6 760.7 807.7 812.4 817.1 835.9 972.1 1019.1 1113.0 1169.4 1197.6" y="79.35" fill="#888888" stroke="#888888" stroke-width="0.25">...LMRLTSSNSH</text>
<text transform="scale(0.860,1)" x="784.2 854.7 859.4 864.1 882.9 887.6 892.3 897.0 915.7 925.1 929.8 939.2 943.9 958.0 962.7 981.5 986.2 990.9 1005.0 1028.5 1033.2 1047.3 1052.0 1066.1 1070.8 1080.2 1089.6 1099.0 1122.4 1127.1 1131.8 1136.5 1141.2 1145.9 1150.6 1164.7 1174.1 1178.8 1183.5 1192.9 1202.3" y="87.50" fill="#f0f0f0" stroke="#f0f0f0" stroke-width="0.15">LRLRPPGPPVGLYKPRCFWGPSVGSLVVLAKEVLKDQLARR</text>
<text transform="scale(0.860,1)" x="751.3 774.8 779.5 798.3 803.0 826.5 840.6 850.0 873.5 901.7 906.3 948.6 967.4 976.8 995.6 1000.3 1009.7 1023.8 1037.9 1056.7 1061.4 1075.5 1084.9 1094.3 1117.7 1155.3 1160.0 1188.2" y="87.50" fill="#1a1a1a" stroke="#1a1a1a" stroke-width="0.25">PRPFQPDFISWAQNYWMYCVPPPPCHDR</text>
<text transform="scale(0.860,1)" x="765.4 770.1 788.9 821.8 831.2 845.3 868.8 878.2 911.0 920.4 953.3 972.1 1014.4 1042.6 1103.7 1197.6" y="87.50" fill="#555555" stroke="#555555" stroke-width="0.25">DGVNIGIAGKFVFREG</text>
<text transform="scale(0.860,1)" x="737.2 741.9 746.6 756.0 760.7 793.6 807.7 812.4 817.1 835.9 934.5 1019.1 1108.3 1113.0 1169.4" y="87.50" fill="#888888" stroke="#888888" stroke-width="0.25">LFIPSKVKQFLTSPH</text>
<text transform="scale(0.860,1)" x="784.2 854.7 859.4 864.1 882.9 887.6 892.3 897.0 915.7 925.1 929.8 939.2 943.9 958.0 962.7 981.5 986.2 990.9 1005.0 1028.5 1033.2 1047.3 1052.0 1066.1 1070.8 1080.2 1089.6 1099.0 1122.4 1127.1 1131.8 1136.5 1141.2 1145.9 1150.6 1164.7 1174.1 1178.8 1183.5 1192.9 1202.3" y="95.65" fill="#f0f0f0" stroke="#f0f0f0" stroke-width="0.15">LRLRPPGPPVGLYKPRCFWGPSVGSLVVLAKEVLKDQLARR</text>
<text transform="scale(0.860,1)" x="751.3 756.0 774.8 779.5 798.3 803.0 840.6 873.5 901.7 906.3 934.5 948.6 967.4 1000.3 1023.8 1037.9 1056.7 1061.4 1094.3 1155.3" y="95.65" fill="#1a1a1a" stroke="#1a1a1a" stroke-width="0.25">CEVEADNSSSFEKAFVTLTV</text>
<text transform="scale(0.860,1)" x="770.1 868.8 911.0 920.4 953.3 1014.4 1042.6 1197.6" y="95.65" fill="#555555" stroke="#555555" stroke-width="0.25">FELDMTAI</text>
<text transform="scale(0.860,1)" x="737.2 741.9 746.6 760.7 765.4 788.9 793.6 807.7 812.4 817.1 821.8 826.5 831.2 835.9 845.3 850.0 878.2 972.1 976.8 995.6 1009.7 1019.1 1075.5 1084.9 1103.7 1108.3 1113.0 1117.7 1160.0 1169.4 1188.2" y="95.65" fill="#888888" stroke="#888888" stroke-width="0.25">...AWNYHYPFKNYSERSGTHNDKNGNIVTM</text>
<text transform="scale(0.860,1)" x="784.2 854.7 859.4 864.1 882.9 887.6 892.3 897.0 915.7 925.1 929.8 939.2 943.9 958.0 962.7 981.5 986.2 990.9 1005.0 1028.5 1033.2 1047.3 1052.0 1066.1 1070.8 1080.2 1089.6 1099.0 1122.4 1127.1 1131.8 1136.5 1141.2 1145.9 1150.6 1164.7 1174.1 1178.8 1183.5 1192.9 1202.3" y="103.80" fill="#f0f0f0" stroke="#f0f0f0" stroke-width="0.15">LRLRPPGPPVGLYKPRCFWGPSVGSLVVLAKEVLKDQLARR</text>
<text transform="scale(0.860,1)" x="751.3 756.0 774.8 779.5 798.3 803.0 826.5 840.6 850.0 873.5 901.7 906.3 934.5 948.6 967.4 976.8 995.6 1000.3 1009.7 1023.8 1037.9 1056.7 1061.4 1075.5 1084.9 1094.3 1117.7 1155.3 1160.0 1188.2" y="103.80" fill="#1a1a1a" stroke="#1a1a1a" stroke-width="0.25">PINASKNIIHHSASDPHSGDPPDGGFRFYS</text>
<text transform="scale(0.860,1)" x="765.4 770.1 788.9 793.6 821.8 831.2 845.3 868.8 878.2 911.0 920.4 953.3 972.1 1014.4 1042.6 1103.7 1108.3 1197.6" y="103.80" fill="#555555" stroke="#555555" stroke-width="0.25">TSAKRNESMYYNEQRAFN</text>
<text transform="scale(0.860,1)" x="737.2 741.9 746.6 760.7 807.7 812.4 817.1 835.9 1019.1 1113.0 1169.4" y="103.80" fill="#888888" stroke="#888888" stroke-width="0.25">...HHYNDMWY</text>
<text transform="scale(0.860,1)" x="784.2 854.7 859.4 864.1 882.9 887.6 892.3 897.0 915.7 925.1 929.8 939.2 943.9 958.0 962.7 981.5 986.2 990.9 1005.0 1028.5 1033.2 1047.3 1052.0 1066.1 1070.8 1080.2 1089.6 1099.0 1122.4 1127.1 1131.8 1136.5 1141.2 1145.9 1150.6 1164.7 1174.1 1178.8 1183.5 1192.9 1202.3" y="110.65" fill="#555" stroke="#555" stroke-width="0.20">lrlrppgppvglykprcfwgpsvgslvvlakevlkdqlarr</text>
<text transform="scale(0.860,1)" x="1229.7 1234.3" y="70.30" fill="#888" stroke="#888" stroke-width="0.20">97</text>
<text transform="scale(0.860,1)" x="1229.7 1234.3" y="78.45" fill="#888" stroke="#888" stroke-width="0.20">97</text>
<text transform="scale(0.860,1)" x="1225.0 1229.7 1234.3" y="86.60" fill="#888" stroke="#888" stroke-width="0.20">100</text>
<text transform="scale(0.860,1)" x="1229.7 1234.3" y="94.75" fill="#888" stroke="#888" stroke-width="0.20">97</text>
<text transform="scale(0.860,1)" x="1229.7 1234.3" y="102.90" fill="#888" stroke="#888" stroke-width="0.20">97</text>
<rect x="632.00" y="121.00" width="4.04" height="8.20" fill="#8a8a8a"/>
<rect x="636.04" y="121.00" width="4.04" height="8.20" fill="#000000"/>
<rect x="640.08" y="121.00" width="4.04" height="8.20" fill="#cfcfcf"/>
<rect x="644.12" y="121.00" width="4.04" height="8.20" fill="#8a8a8a"/>
<rect x="652.20" y="121.00" width="8.08" height="8.20" fill="#cfcfcf"/>
<rect x="660.28" y="121.00" width="4.04" height="8.20" fill="#8a8a8a"/>
<rect x="664.32" y="121.00" width="4.04" height="8.20" fill="#cfcfcf"/>
<rect x="672.40" y="121.00" width="4.04" height="8.20" fill="#000000"/>
<rect x="676.44" y="121.00" width="4.04" height="8.20" fill="#cfcfcf"/>
<rect x="680.48" y="121.00" width="64.64" height="8.20" fill="#000000"/>
<rect x="745.12" y="121.00" width="4.04" height="8.20" fill="#8a8a8a"/>
<rect x="749.16" y="121.00" width="8.08" height="8.20" fill="#000000"/>
<rect x="757.24" y="121.00" width="4.04" height="8.20" fill="#cfcfcf"/>
<rect x="765.32" y="121.00" width="12.12" height="8.20" fill="#000000"/>
<rect x="777.44" y="121.00" width="4.04" height="8.20" fill="#cfcfcf"/>
<rect x="781.48" y="121.00" width="4.04" height="8.20" fill="#000000"/>
<rect x="785.52" y="121.00" width="4.04" height="8.20" fill="#8a8a8a"/>
<rect x="789.56" y="121.00" width="4.04" height="8.20" fill="#000000"/>
<rect x="793.60" y="121.00" width="4.04" height="8.20" fill="#8a8a8a"/>
<rect x="797.64" y="121.00" width="4.04" height="8.20" fill="#cfcfcf"/>
<rect x="801.68" y="121.00" width="32.32" height="8.20" fill="#000000"/>
<rect x="834.00" y="121.00" width="4.04" height="8.20" fill="#cfcfcf"/>
<rect x="838.04" y="121.00" width="4.04" height="8.20" fill="#8a8a8a"/>
<rect x="846.12" y="121.00" width="8.08" height="8.20" fill="#000000"/>
<rect x="854.20" y="121.00" width="4.04" height="8.20" fill="#cfcfcf"/>
<rect x="858.24" y="121.00" width="8.08" height="8.20" fill="#000000"/>
<rect x="866.32" y="121.00" width="4.04" height="8.20" fill="#8a8a8a"/>
<rect x="870.36" y="121.00" width="4.04" height="8.20" fill="#cfcfcf"/>
<rect x="874.40" y="121.00" width="4.04" height="8.20" fill="#8a8a8a"/>
<rect x="878.44" y="121.00" width="4.04" height="8.20" fill="#cfcfcf"/>
<rect x="882.48" y="121.00" width="8.08" height="8.20" fill="#8a8a8a"/>
<rect x="906.72" y="121.00" width="4.04" height="8.20" fill="#8a8a8a"/>
<rect x="910.76" y="121.00" width="4.04" height="8.20" fill="#000000"/>
<rect x="914.80" y="121.00" width="4.04" height="8.20" fill="#8a8a8a"/>
<rect x="918.84" y="121.00" width="16.16" height="8.20" fill="#cfcfcf"/>
<rect x="935.00" y="121.00" width="4.04" height="8.20" fill="#8a8a8a"/>
<rect x="939.04" y="121.00" width="8.08" height="8.20" fill="#000000"/>
<rect x="947.12" y="121.00" width="12.12" height="8.20" fill="#cfcfcf"/>
<rect x="959.24" y="121.00" width="4.04" height="8.20" fill="#8a8a8a"/>
<rect x="963.28" y="121.00" width="4.04" height="8.20" fill="#000000"/>
<rect x="971.36" y="121.00" width="4.04" height="8.20" fill="#8a8a8a"/>
<rect x="975.40" y="121.00" width="4.04" height="8.20" fill="#000000"/>
<rect x="979.44" y="121.00" width="4.04" height="8.20" fill="#8a8a8a"/>
<rect x="983.48" y="121.00" width="4.04" height="8.20" fill="#000000"/>
<rect x="987.52" y="121.00" width="4.04" height="8.20" fill="#8a8a8a"/>
<rect x="995.60" y="121.00" width="16.16" height="8.20" fill="#000000"/>
<rect x="1011.76" y="121.00" width="8.08" height="8.20" fill="#8a8a8a"/>
<rect x="1019.84" y="121.00" width="4.04" height="8.20" fill="#cfcfcf"/>
<rect x="1023.88" y="121.00" width="8.08" height="8.20" fill="#8a8a8a"/>
<rect x="1031.96" y="121.00" width="4.04" height="8.20" fill="#000000"/>
<rect x="632.00" y="129.15" width="4.04" height="8.20" fill="#8a8a8a"/>
<rect x="636.04" y="129.15" width="4.04" height="8.20" fill="#000000"/>
<rect x="652.20" y="129.15" width="20.20" height="8.20" fill="#cfcfcf"/>
<rect x="672.40" y="129.15" width="4.04" height="8.20" fill="#000000"/>
<rect x="676.44" y="129.15" width="4.04" height="8.20" fill="#cfcfcf"/>
<rect x="680.48" y="129.15" width="64.64" height="8.20" fill="#000000"/>
<rect x="745.12" y="129.15" width="4.04" height="8.20" fill="#8a8a8a"/>
<rect x="749.16" y="129.15" width="8.08" height="8.20" fill="#000000"/>
<rect x="757.24" y="129.15" width="8.08" height="8.20" fill="#cfcfcf"/>
<rect x="765.32" y="129.15" width="12.12" height="8.20" fill="#000000"/>
<rect x="777.44" y="129.15" width="4.04" height="8.20" fill="#cfcfcf"/>
<rect x="781.48" y="129.15" width="4.04" height="8.20" fill="#000000"/>
<rect x="789.56" y="129.15" width="4.04" height="8.20" fill="#000000"/>
<rect x="793.60" y="129.15" width="4.04" height="8.20" fill="#8a8a8a"/>
<rect x="801.68" y="129.15" width="32.32" height="8.20" fill="#000000"/>
<rect x="834.00" y="129.15" width="4.04" height="8.20" fill="#cfcfcf"/>
<rect x="842.08" y="129.15" width="4.04" height="8.20" fill="#8a8a8a"/>
<rect x="846.12" y="129.15" width="8.08" height="8.20" fill="#000000"/>
<rect x="854.20" y="129.15" width="4.04" height="8.20" fill="#cfcfcf"/>
<rect x="858.24" y="129.15" width="8.08" height="8.20" fill="#000000"/>
<rect x="866.32" y="129.15" width="4.04" height="8.20" fill="#8a8a8a"/>
<rect x="870.36" y="129.15" width="4.04" height="8.20" fill="#cfcfcf"/>
<rect x="874.40" y="129.15" width="4.04" height="8.20" fill="#8a8a8a"/>
<rect x="878.44" y="129.15" width="4.04" height="8.20" fill="#cfcfcf"/>
<rect x="882.48" y="129.15" width="8.08" height="8.20" fill="#8a8a8a"/>
<rect x="890.56" y="129.15" width="4.04" height="8.20" fill="#cfcfcf"/>
<rect x="898.64" y="129.15" width="4.04" height="8.20" fill="#cfcfcf"/>
<rect x="906.72" y="129.15" width="4.04" height="8.20" fill="#8a8a8a"/>
<rect x="910.76" y="129.15" width="4.04" height="8.20" fill="#000000"/>
<rect x="914.80" y="129.15" width="4.04" height="8.20" fill="#8a8a8a"/>
<rect x="918.84" y="129.15" width="16.16" height="8.20" fill="#cfcfcf"/>
<rect x="935.00" y="129.15" width="4.04" height="8.20" fill="#8a8a8a"/>
<rect x="939.04" y="129.15" width="8.08" height="8.20" fill="#000000"/>
<rect x="947.12" y="129.15" width="4.04" height="8.20" fill="#cfcfcf"/>
<rect x="955.20" y="129.15" width="4.04" height="8.20" fill="#cfcfcf"/>
<rect x="959.24" y="129.15" width="4.04" height="8.20" fill="#8a8a8a"/>
<rect x="963.28" y="129.15" width="4.04" height="8.20" fill="#000000"/>
<rect x="971.36" y="129.15" width="4.04" height="8.20" fill="#8a8a8a"/>
<rect x="975.40" y="129.15" width="4.04" height="8.20" fill="#000000"/>
<rect x="979.44" y="129.15" width="4.04" height="8.20" fill="#8a8a8a"/>
<rect x="983.48" y="129.15" width="4.04" height="8.20" fill="#000000"/>
<rect x="987.52" y="129.15" width="4.04" height="8.20" fill="#8a8a8a"/>
<rect x="995.60" y="129.15" width="16.16" height="8.20" fill="#000000"/>
<rect x="1011.76" y="129.15" width="8.08" height="8.20" fill="#8a8a8a"/>
<rect x="1019.84" y="129.15" width="4.04" height="8.20" fill="#cfcfcf"/>
<rect x="1027.92" y="129.15" width="4.04" height="8.20" fill="#8a8a8a"/>
<rect x="1031.96" y="129.15" width="4.04" height="8.20" fill="#000000"/>
<rect x="632.00" y="137.30" width="4.04" height="8.20" fill="#8a8a8a"/>
<rect x="636.04" y="137.30" width="4.04" height="8.20" fill="#000000"/>
<rect x="640.08" y="137.30" width="4.04" height="8.20" fill="#cfcfcf"/>
<rect x="644.12" y="137.30" width="4.04" height="8.20" fill="#8a8a8a"/>
<rect x="652.20" y="137.30" width="8.08" height="8.20" fill="#cfcfcf"/>
<rect x="660.28" y="137.30" width="4.04" height="8.20" fill="#8a8a8a"/>
<rect x="664.32" y="137.30" width="8.08" height="8.20" fill="#cfcfcf"/>
<rect x="672.40" y="137.30" width="4.04" height="8.20" fill="#000000"/>
<rect x="676.44" y="137.30" width="4.04" height="8.20" fill="#cfcfcf"/>
<rect x="680.48" y="137.30" width="64.64" height="8.20" fill="#000000"/>
<rect x="745.12" y="137.30" width="4.04" height="8.20" fill="#8a8a8a"/>
<rect x="749.16" y="137.30" width="8.08" height="8.20" fill="#000000"/>
<rect x="757.24" y="137.30" width="4.04" height="8.20" fill="#cfcfcf"/>
<rect x="765.32" y="137.30" width="12.12" height="8.20" fill="#000000"/>
<rect x="777.44" y="137.30" width="4.04" height="8.20" fill="#cfcfcf"/>
<rect x="781.48" y="137.30" width="4.04" height="8.20" fill="#000000"/>
<rect x="785.52" y="137.30" width="4.04" height="8.20" fill="#8a8a8a"/>
<rect x="789.56" y="137.30" width="4.04" height="8.20" fill="#000000"/>
<rect x="793.60" y="137.30" width="4.04" height="8.20" fill="#8a8a8a"/>
<rect x="797.64" y="137.30" width="4.04" height="8.20" fill="#cfcfcf"/>
<rect x="801.68" y="137.30" width="32.32" height="8.20" fill="#000000"/>
<rect x="834.00" y="137.30" width="4.04" height="8.20" fill="#cfcfcf"/>
<rect x="838.04" y="137.30" width="8.08" height="8.20" fill="#8a8a8a"/>
<rect x="846.12" y="137.30" width="8.08" height="8.20" fill="#000000"/>
<rect x="858.24" y="137.30" width="8.08" height="8.20" fill="#000000"/>
<rect x="866.32" y="137.30" width="4.04" height="8.20" fill="#8a8a8a"/>
<rect x="870.36" y="137.30" width="4.04" height="8.20" fill="#cfcfcf"/>
<rect x="874.40" y="137.30" width="4.04" height="8.20" fill="#8a8a8a"/>
<rect x="878.44" y="137.30" width="4.04" height="8.20" fill="#cfcfcf"/>
<rect x="882.48" y="137.30" width="8.08" height="8.20" fill="#8a8a8a"/>
<rect x="890.56" y="137.30" width="4.04" height="8.20" fill="#cfcfcf"/>
<rect x="898.64" y="137.30" width="4.04" height="8.20" fill="#cfcfcf"/>
<rect x="906.72" y="137.30" width="4.04" height="8.20" fill="#8a8a8a"/>
<rect x="910.76" y="137.30" width="4.04" height="8.20" fill="#000000"/>
<rect x="914.80" y="137.30" width="4.04" height="8.20" fill="#8a8a8a"/>
<rect x="918.84" y="137.30" width="16.16" height="8.20" fill="#cfcfcf"/>
<rect x="935.00" y="137.30" width="4.04" height="8.20" fill="#8a8a8a"/>
<rect x="939.04" y="137.30" width="8.08" height="8.20" fill="#000000"/>
<rect x="955.20" y="137.30" width="4.04" height="8.20" fill="#cfcfcf"/>
<rect x="959.24" y="137.30" width="4.04" height="8.20" fill="#8a8a8a"/>
<rect x="963.28" y="137.30" width="4.04" height="8.20" fill="#000000"/>
<rect x="971.36" y="137.30" width="4.04" height="8.20" fill="#8a8a8a"/>
<rect x="975.40" y="137.30" width="4.04" height="8.20" fill="#000000"/>
<rect x="983.48" y="137.30" width="4.04" height="8.20" fill="#000000"/>
<rect x="987.52" y="137.30" width="4.04" height="8.20" fill="#8a8a8a"/>
<rect x="995.60" y="137.30" width="16.16" height="8.20" fill="#000000"/>
<rect x="1011.76" y="137.30" width="8.08" height="8.20" fill="#8a8a8a"/>
<rect x="1019.84" y="137.30" width="4.04" height="8.20" fill="#cfcfcf"/>
<rect x="1023.88" y="137.30" width="8.08" height="8.20" fill="#8a8a8a"/>
<rect x="1031.96" y="137.30" width="4.04" height="8.20" fill="#000000"/>
<rect x="636.04" y="145.45" width="4.04" height="8.20" fill="#000000"/>
<rect x="652.20" y="145.45" width="8.08" height="8.20" fill="#cfcfcf"/>
<rect x="660.28" y="145.45" width="4.04" height="8.20" fill="#8a8a8a"/>
<rect x="664.32" y="145.45" width="8.08" height="8.20" fill="#cfcfcf"/>
<rect x="672.40" y="145.45" width="4.04" height="8.20" fill="#000000"/>
<rect x="676.44" y="145.45" width="4.04" height="8.20" fill="#cfcfcf"/>
<rect x="680.48" y="145.45" width="64.64" height="8.20" fill="#000000"/>
<rect x="745.12" y="145.45" width="4.04" height="8.20" fill="#8a8a8a"/>
<rect x="749.16" y="145.45" width="8.08" height="8.20" fill="#000000"/>
<rect x="757.24" y="145.45" width="8.08" height="8.20" fill="#cfcfcf"/>
<rect x="765.32" y="145.45" width="12.12" height="8.20" fill="#000000"/>
<rect x="777.44" y="145.45" width="4.04" height="8.20" fill="#cfcfcf"/>
<rect x="781.48" y="145.45" width="4.04" height="8.20" fill="#000000"/>
<rect x="785.52" y="145.45" width="4.04" height="8.20" fill="#8a8a8a"/>
<rect x="789.56" y="145.45" width="4.04" height="8.20" fill="#000000"/>
<rect x="793.60" y="145.45" width="4.04" height="8.20" fill="#8a8a8a"/>
<rect x="801.68" y="145.45" width="32.32" height="8.20" fill="#000000"/>
<rect x="834.00" y="145.45" width="4.04" height="8.20" fill="#cfcfcf"/>
<rect x="838.04" y="145.45" width="8.08" height="8.20" fill="#8a8a8a"/>
<rect x="846.12" y="145.45" width="8.08" height="8.20" fill="#000000"/>
<rect x="858.24" y="145.45" width="8.08" height="8.20" fill="#000000"/>
<rect x="866.32" y="145.45" width="4.04" height="8.20" fill="#8a8a8a"/>
<rect x="870.36" y="145.45" width="4.04" height="8.20" fill="#cfcfcf"/>
<rect x="878.44" y="145.45" width="4.04" height="8.20" fill="#cfcfcf"/>
<rect x="882.48" y="145.45" width="4.04" height="8.20" fill="#8a8a8a"/>
<rect x="898.64" y="145.45" width="4.04" height="8.20" fill="#cfcfcf"/>
<rect x="906.72" y="145.45" width="4.04" height="8.20" fill="#8a8a8a"/>
<rect x="910.76" y="145.45" width="4.04" height="8.20" fill="#000000"/>
<rect x="918.84" y="145.45" width="16.16" height="8.20" fill="#cfcfcf"/>
<rect x="939.04" y="145.45" width="8.08" height="8.20" fill="#000000"/>
<rect x="955.20" y="145.45" width="4.04" height="8.20" fill="#cfcfcf"/>
<rect x="959.24" y="145.45" width="4.04" height="8.20" fill="#8a8a8a"/>
<rect x="963.28" y="145.45" width="4.04" height="8.20" fill="#000000"/>
<rect x="971.36" y="145.45" width="4.04" height="8.20" fill="#8a8a8a"/>
<rect x="975.40" y="145.45" width="4.04" height="8.20" fill="#000000"/>
<rect x="979.44" y="145.45" width="4.04" height="8.20" fill="#8a8a8a"/>
<rect x="983.48" y="145.45" width="4.04" height="8.20" fill="#000000"/>
<rect x="987.52" y="145.45" width="4.04" height="8.20" fill="#8a8a8a"/>
<rect x="995.60" y="145.45" width="16.16" height="8.20" fill="#000000"/>
<rect x="1011.76" y="145.45" width="8.08" height="8.20" fill="#8a8a8a"/>
<rect x="1019.84" y="145.45" width="4.04" height="8.20" fill="#cfcfcf"/>
<rect x="1023.88" y="145.45" width="8.08" height="8.20" fill="#8a8a8a"/>
<rect x="1031.96" y="145.45" width="4.04" height="8.20" fill="#000000"/>
<rect x="632.00" y="153.60" width="4.04" height="8.20" fill="#8a8a8a"/>
<rect x="636.04" y="153.60" width="4.04" height="8.20" fill="#000000"/>
<rect x="640.08" y="153.60" width="4.04" height="8.20" fill="#cfcfcf"/>
<rect x="644.12" y="153.60" width="4.04" height="8.20" fill="#8a8a8a"/>
<rect x="656.24" y="153.60" width="4.04" height="8.20" fill="#cfcfcf"/>
<rect x="660.28" y="153.60" width="4.04" height="8.20" fill="#8a8a8a"/>
<rect x="664.32" y="153.60" width="8.08" height="8.20" fill="#cfcfcf"/>
<rect x="672.40" y="153.60" width="4.04" height="8.20" fill="#000000"/>
<rect x="676.44" y="153.60" width="4.04" height="8.20" fill="#cfcfcf"/>
<rect x="680.48" y="153.60" width="64.64" height="8.20" fill="#000000"/>
<rect x="745.12" y="153.60" width="4.04" height="8.20" fill="#8a8a8a"/>
<rect x="749.16" y="153.60" width="8.08" height="8.20" fill="#000000"/>
<rect x="757.24" y="153.60" width="4.04" height="8.20" fill="#cfcfcf"/>
<rect x="765.32" y="153.60" width="12.12" height="8.20" fill="#000000"/>
<rect x="777.44" y="153.60" width="4.04" height="8.20" fill="#cfcfcf"/>
<rect x="781.48" y="153.60" width="4.04" height="8.20" fill="#000000"/>
<rect x="785.52" y="153.60" width="4.04" height="8.20" fill="#8a8a8a"/>
<rect x="789.56" y="153.60" width="4.04" height="8.20" fill="#000000"/>
<rect x="793.60" y="153.60" width="4.04" height="8.20" fill="#8a8a8a"/>
<rect x="797.64" y="153.60" width="4.04" height="8.20" fill="#cfcfcf"/>
<rect x="801.68" y="153.60" width="32.32" height="8.20" fill="#000000"/>
<rect x="834.00" y="153.60" width="4.04" height="8.20" fill="#cfcfcf"/>
<rect x="838.04" y="153.60" width="8.08" height="8.20" fill="#8a8a8a"/>
<rect x="846.12" y="153.60" width="8.08" height="8.20" fill="#000000"/>
<rect x="854.20" y="153.60" width="4.04" height="8.20" fill="#cfcfcf"/>
<rect x="858.24" y="153.60" width="8.08" height="8.20" fill="#000000"/>
<rect x="866.32" y="153.60" width="4.04" height="8.20" fill="#8a8a8a"/>
<rect x="870.36" y="153.60" width="4.04" height="8.20" fill="#cfcfcf"/>
<rect x="874.40" y="153.60" width="4.04" height="8.20" fill="#8a8a8a"/>
<rect x="878.44" y="153.60" width="4.04" height="8.20" fill="#cfcfcf"/>
<rect x="882.48" y="153.60" width="8.08" height="8.20" fill="#8a8a8a"/>
<rect x="906.72" y="153.60" width="4.04" height="8.20" fill="#8a8a8a"/>
<rect x="910.76" y="153.60" width="4.04" height="8.20" fill="#000000"/>
<rect x="914.80" y="153.60" width="4.04" height="8.20" fill="#8a8a8a"/>
<rect x="918.84" y="153.60" width="16.16" height="8.20" fill="#cfcfcf"/>
<rect x="935.00" y="153.60" width="4.04" height="8.20" fill="#8a8a8a"/>
<rect x="939.04" y="153.60" width="8.08" height="8.20" fill="#000000"/>
<rect x="947.12" y="153.60" width="12.12" height="8.20" fill="#cfcfcf"/>
<rect x="959.24" y="153.60" width="4.04" height="8.20" fill="#8a8a8a"/>
<rect x="963.28" y="153.60" width="4.04" height="8.20" fill="#000000"/>
<rect x="971.36" y="153.60" width="4.04" height="8.20" fill="#8a8a8a"/>
<rect x="975.40" y="153.60" width="4.04" height="8.20" fill="#000000"/>
<rect x="979.44" y="153.60" width="4.04" height="8.20" fill="#8a8a8a"/>
<rect x="983.48" y="153.60" width="4.04" height="8.20" fill="#000000"/>
<rect x="987.52" y="153.60" width="4.04" height="8.20" fill="#8a8a8a"/>
<rect x="995.60" y="153.60" width="16.16" height="8.20" fill="#000000"/>
<rect x="1011.76" y="153.60" width="8.08" height="8.20" fill="#8a8a8a"/>
<rect x="1019.84" y="153.60" width="4.04" height="8.20" fill="#cfcfcf"/>
<rect x="1023.88" y="153.60" width="8.08" height="8.20" fill="#8a8a8a"/>
<rect x="1031.96" y="153.60" width="4.04" height="8.20" fill="#000000"/>
<text transform="scale(0.860,1)" x="675.3 680.0 684.7 689.3 694.0 698.6 703.3 707.9 712.6 717.2" y="127.00" fill="#888" stroke="#888" stroke-width="0.25">CbCYP98A14</text>
<text transform="scale(0.860,1)" x="675.3 680.0 684.7 689.3 694.0 698.6 703.3 707.9 712.6 717.2" y="135.15" fill="#888" stroke="#888" stroke-width="0.25">SmCYP98A75</text>
<text transform="scale(0.860,1)" x="675.3 680.0 684.7 689.3 694.0 698.6 703.3 707.9 712.6 717.2" y="143.30" fill="#888" stroke="#888" stroke-width="0.25">SmCYP98A76</text>
<text transform="scale(0.860,1)" x="675.3 680.0 684.7 689.3 694.0 698.6 703.3 707.9 712.6 717.2" y="151.45" fill="#888" stroke="#888" stroke-width="0.25">SmCYP98A77</text>
<text transform="scale(0.860,1)" x="675.3 680.0 684.7 689.3 694.0 698.6 703.3 707.9 712.6 717.2" y="159.60" fill="#888" stroke="#888" stroke-width="0.25">SmCYP98A14</text>
<text transform="scale(0.860,1)" x="675.3 680.0 684.7 689.3 694.0 698.6 703.3 707.9 712.6" y="167.75" fill="#888" stroke="#888" stroke-width="0.25">Consensus</text>
<text transform="scale(0.860,1)" x="741.9 784.2 793.6 798.3 803.0 807.7 812.4 817.1 821.8 826.5 831.2 835.9 840.6 845.3 850.0 854.7 859.4 864.1 873.5 878.2 892.3 897.0 901.7 911.0 920.4 934.5 939.2 943.9 948.6 953.3 958.0 962.7 967.4 986.2 990.9 1000.3 1005.0 1061.4 1094.3 1099.0 1122.4 1136.5 1145.9 1160.0 1164.7 1169.4 1174.1 1202.3" y="127.90" fill="#f0f0f0" stroke="#f0f0f0" stroke-width="0.15">RGDLIWADYGPHYVKVRKCTLFSKLLRPIREDEMVSIKYLFIRFGKRG</text>
<text transform="scale(0.860,1)" x="737.2 751.3 770.1 868.8 915.7 925.1 976.8 1009.7 1019.1 1028.5 1033.2 1056.7 1066.1 1089.6 1117.7 1131.8 1141.2 1150.6 1178.8 1183.5 1192.9 1197.6" y="127.90" fill="#1a1a1a" stroke="#1a1a1a" stroke-width="0.25">FVEHHLWVFNRFVRFFSYVCTT</text>
<text transform="scale(0.860,1)" x="746.6 760.7 765.4 774.8 788.9 882.9 906.3 929.8 972.1 995.6 1014.4 1023.8 1070.8 1075.5 1080.2 1084.9 1103.7 1108.3 1113.0 1188.2" y="127.90" fill="#555555" stroke="#555555" stroke-width="0.25">VAATQHKTIKQCFTTAGYAM</text>
<text transform="scale(0.860,1)" x="756.0 779.5 887.6 981.5 1037.9 1042.6 1047.3 1052.0 1127.1 1155.3" y="127.90" fill="#888888" stroke="#888888" stroke-width="0.25">FFAMWTQTGE</text>
<text transform="scale(0.860,1)" x="741.9 784.2 793.6 798.3 803.0 807.7 812.4 817.1 821.8 826.5 831.2 835.9 840.6 845.3 850.0 854.7 859.4 864.1 873.5 878.2 892.3 897.0 901.7 911.0 920.4 934.5 939.2 943.9 948.6 953.3 958.0 962.7 967.4 986.2 990.9 1000.3 1005.0 1061.4 1094.3 1099.0 1122.4 1136.5 1145.9 1160.0 1164.7 1169.4 1174.1 1202.3" y="136.05" fill="#f0f0f0" stroke="#f0f0f0" stroke-width="0.15">RGDLIWADYGPHYVKVRKCTLFSKLLRPIREDEMVSIKYLFIRFGKRG</text>
<text transform="scale(0.860,1)" x="737.2 868.8 925.1 981.5 1009.7 1019.1 1028.5 1033.2 1056.7 1066.1 1089.6 1117.7 1131.8 1141.2 1150.6 1178.8 1183.5 1197.6" y="136.05" fill="#1a1a1a" stroke="#1a1a1a" stroke-width="0.25">VTRYHRVSVHPIDHLFNF</text>
<text transform="scale(0.860,1)" x="760.7 765.4 770.1 774.8 779.5 788.9 882.9 887.6 906.3 972.1 995.6 1014.4 1023.8 1037.9 1047.3 1070.8 1075.5 1080.2 1084.9 1103.7 1113.0 1188.2" y="136.05" fill="#555555" stroke="#555555" stroke-width="0.25">CIHKCERVAYTKTTTRFQERDF</text>
<text transform="scale(0.860,1)" x="746.6 751.3 756.0 915.7 929.8 976.8 1042.6 1052.0 1108.3 1127.1 1155.3 1192.9" y="136.05" fill="#888888" stroke="#888888" stroke-width="0.25">SEVDMTIKMQEK</text>
<text transform="scale(0.860,1)" x="741.9 784.2 793.6 798.3 803.0 807.7 812.4 817.1 821.8 826.5 831.2 835.9 840.6 845.3 850.0 854.7 859.4 864.1 873.5 878.2 892.3 897.0 901.7 911.0 920.4 934.5 939.2 943.9 948.6 953.3 958.0 962.7 967.4 986.2 990.9 1000.3 1005.0 1061.4 1094.3 1099.0 1122.4 1136.5 1145.9 1160.0 1164.7 1169.4 1174.1 1202.3" y="144.20" fill="#f0f0f0" stroke="#f0f0f0" stroke-width="0.15">RGDLIWADYGPHYVKVRKCTLFSKLLRPIREDEMVSIKYLFIRFGKRG</text>
<text transform="scale(0.860,1)" x="737.2 751.3 770.1 868.8 915.7 925.1 976.8 981.5 1009.7 1019.1 1028.5 1033.2 1056.7 1066.1 1089.6 1117.7 1131.8 1150.6 1178.8 1183.5 1192.9 1197.6" y="144.20" fill="#1a1a1a" stroke="#1a1a1a" stroke-width="0.25">REIPNMAMRAMTEICQPVWSDK</text>
<text transform="scale(0.860,1)" x="746.6 760.7 765.4 774.8 779.5 788.9 882.9 906.3 929.8 972.1 1014.4 1023.8 1037.9 1047.3 1070.8 1075.5 1080.2 1084.9 1113.0 1188.2" y="144.20" fill="#555555" stroke="#555555" stroke-width="0.25">ISGGQTMHDNRPYTEDKKFM</text>
<text transform="scale(0.860,1)" x="756.0 887.6 995.6 1042.6 1052.0 1103.7 1108.3 1127.1 1141.2 1155.3" y="144.20" fill="#888888" stroke="#888888" stroke-width="0.25">PQVLDGKKFT</text>
<text transform="scale(0.860,1)" x="741.9 784.2 793.6 798.3 803.0 807.7 812.4 817.1 821.8 826.5 831.2 835.9 840.6 845.3 850.0 854.7 859.4 864.1 873.5 878.2 892.3 897.0 901.7 911.0 920.4 934.5 939.2 943.9 948.6 953.3 958.0 962.7 967.4 986.2 990.9 1000.3 1005.0 1061.4 1094.3 1099.0 1122.4 1136.5 1145.9 1160.0 1164.7 1169.4 1174.1 1202.3" y="152.35" fill="#f0f0f0" stroke="#f0f0f0" stroke-width="0.15">RGDLIWADYGPHYVKVRKCTLFSKLLRPIREDEMVSIKYLFIRFGKRG</text>
<text transform="scale(0.860,1)" x="770.1 868.8 915.7 925.1 976.8 981.5 1009.7 1028.5 1056.7 1117.7 1131.8 1141.2 1150.6 1178.8 1183.5 1192.9 1197.6" y="152.35" fill="#1a1a1a" stroke="#1a1a1a" stroke-width="0.25">DIRAQKFELACAAVHSI</text>
<text transform="scale(0.860,1)" x="760.7 765.4 774.8 779.5 788.9 882.9 887.6 906.3 972.1 1014.4 1023.8 1047.3 1070.8 1075.5 1080.2 1084.9 1113.0 1188.2" y="152.35" fill="#555555" stroke="#555555" stroke-width="0.25">KAKDYDKEVCIGTHLRNT</text>
<text transform="scale(0.860,1)" x="737.2 746.6 751.3 756.0 929.8 995.6 1019.1 1033.2 1037.9 1042.6 1052.0 1066.1 1089.6 1103.7 1108.3 1127.1 1155.3" y="152.35" fill="#888888" stroke="#888888" stroke-width="0.25">CGQDMYTGKCHLTGKKT</text>
<text transform="scale(0.860,1)" x="741.9 784.2 793.6 798.3 803.0 807.7 812.4 817.1 821.8 826.5 831.2 835.9 840.6 845.3 850.0 854.7 859.4 864.1 873.5 878.2 892.3 897.0 901.7 911.0 920.4 934.5 939.2 943.9 948.6 953.3 958.0 962.7 967.4 986.2 990.9 1000.3 1005.0 1061.4 1094.3 1099.0 1122.4 1136.5 1145.9 1160.0 1164.7 1169.4 1174.1 1202.3" y="160.50" fill="#f0f0f0" stroke="#f0f0f0" stroke-width="0.15">RGDLIWADYGPHYVKVRKCTLFSKLLRPIREDEMVSIKYLFIRFGKRG</text>
<text transform="scale(0.860,1)" x="737.2 751.3 770.1 868.8 915.7 925.1 976.8 981.5 1009.7 1019.1 1028.5 1033.2 1056.7 1066.1 1089.6 1117.7 1131.8 1141.2 1150.6 1178.8 1183.5 1192.9 1197.6" y="160.50" fill="#1a1a1a" stroke="#1a1a1a" stroke-width="0.25">RQTMNCDKGDTLRGKMCLHGAPD</text>
<text transform="scale(0.860,1)" x="746.6 765.4 774.8 779.5 788.9 882.9 906.3 929.8 972.1 995.6 1014.4 1023.8 1070.8 1075.5 1080.2 1084.9 1103.7 1108.3 1113.0 1188.2" y="160.50" fill="#555555" stroke="#555555" stroke-width="0.25">EPLHIHPFAQCPGKRANMVM</text>
<text transform="scale(0.860,1)" x="756.0 760.7 887.6 1037.9 1042.6 1047.3 1052.0 1127.1 1155.3" y="160.50" fill="#888888" stroke="#888888" stroke-width="0.25">SVFYILCIN</text>
<text transform="scale(0.860,1)" x="741.9 784.2 793.6 798.3 803.0 807.7 812.4 817.1 821.8 826.5 831.2 835.9 840.6 845.3 850.0 854.7 859.4 864.1 873.5 878.2 892.3 897.0 901.7 911.0 920.4 934.5 939.2 943.9 948.6 953.3 958.0 962.7 967.4 986.2 990.9 1000.3 1005.0 1061.4 1094.3 1099.0 1122.4 1136.5 1145.9 1160.0 1164.7 1169.4 1174.1 1202.3" y="167.35" fill="#555" stroke="#555" stroke-width="0.20">rgdliwadygphyvkvrkctlfskllrpiredemvsikylfirfgkrg</text>
<text transform="scale(0.860,1)" x="1225.0 1229.7 1234.3" y="127.00" fill="#888" stroke="#888" stroke-width="0.20">194</text>
<text transform="scale(0.860,1)" x="1225.0 1229.7 1234.3" y="135.15" fill="#888" stroke="#888" stroke-width="0.20">197</text>
<text transform="scale(0.860,1)" x="1225.0 1229.7 1234.3" y="143.30" fill="#888" stroke="#888" stroke-width="0.20">200</text>
<text transform="scale(0.860,1)" x="1225.0 1229.7 1234.3" y="151.45" fill="#888" stroke="#888" stroke-width="0.20">197</text>
<text transform="scale(0.860,1)" x="1225.0 1229.7 1234.3" y="159.60" fill="#888" stroke="#888" stroke-width="0.20">194</text>
<rect x="636.04" y="177.40" width="4.04" height="8.20" fill="#cfcfcf"/>
<rect x="640.08" y="177.40" width="8.08" height="8.20" fill="#8a8a8a"/>
<rect x="648.16" y="177.40" width="8.08" height="8.20" fill="#000000"/>
<rect x="656.24" y="177.40" width="4.04" height="8.20" fill="#8a8a8a"/>
<rect x="660.28" y="177.40" width="4.04" height="8.20" fill="#000000"/>
<rect x="664.32" y="177.40" width="4.04" height="8.20" fill="#cfcfcf"/>
<rect x="668.36" y="177.40" width="4.04" height="8.20" fill="#8a8a8a"/>
<rect x="672.40" y="177.40" width="4.04" height="8.20" fill="#cfcfcf"/>
<rect x="676.44" y="177.40" width="4.04" height="8.20" fill="#000000"/>
<rect x="684.52" y="177.40" width="4.04" height="8.20" fill="#cfcfcf"/>
<rect x="688.56" y="177.40" width="4.04" height="8.20" fill="#000000"/>
<rect x="692.60" y="177.40" width="4.04" height="8.20" fill="#cfcfcf"/>
<rect x="696.64" y="177.40" width="4.04" height="8.20" fill="#8a8a8a"/>
<rect x="700.68" y="177.40" width="4.04" height="8.20" fill="#cfcfcf"/>
<rect x="704.72" y="177.40" width="8.08" height="8.20" fill="#000000"/>
<rect x="716.84" y="177.40" width="8.08" height="8.20" fill="#8a8a8a"/>
<rect x="724.92" y="177.40" width="4.04" height="8.20" fill="#cfcfcf"/>
<rect x="728.96" y="177.40" width="4.04" height="8.20" fill="#000000"/>
<rect x="741.08" y="177.40" width="4.04" height="8.20" fill="#000000"/>
<rect x="745.12" y="177.40" width="12.12" height="8.20" fill="#8a8a8a"/>
<rect x="757.24" y="177.40" width="4.04" height="8.20" fill="#000000"/>
<rect x="761.28" y="177.40" width="12.12" height="8.20" fill="#8a8a8a"/>
<rect x="773.40" y="177.40" width="4.04" height="8.20" fill="#cfcfcf"/>
<rect x="777.44" y="177.40" width="4.04" height="8.20" fill="#000000"/>
<rect x="781.48" y="177.40" width="8.08" height="8.20" fill="#8a8a8a"/>
<rect x="789.56" y="177.40" width="4.04" height="8.20" fill="#cfcfcf"/>
<rect x="793.60" y="177.40" width="8.08" height="8.20" fill="#8a8a8a"/>
<rect x="801.68" y="177.40" width="4.04" height="8.20" fill="#cfcfcf"/>
<rect x="805.72" y="177.40" width="4.04" height="8.20" fill="#8a8a8a"/>
<rect x="813.80" y="177.40" width="4.04" height="8.20" fill="#cfcfcf"/>
<rect x="817.84" y="177.40" width="4.04" height="8.20" fill="#000000"/>
<rect x="821.88" y="177.40" width="4.04" height="8.20" fill="#cfcfcf"/>
<rect x="829.96" y="177.40" width="4.04" height="8.20" fill="#000000"/>
<rect x="842.08" y="177.40" width="4.04" height="8.20" fill="#cfcfcf"/>
<rect x="846.12" y="177.40" width="4.04" height="8.20" fill="#8a8a8a"/>
<rect x="850.16" y="177.40" width="4.04" height="8.20" fill="#000000"/>
<rect x="854.20" y="177.40" width="8.08" height="8.20" fill="#8a8a8a"/>
<rect x="862.28" y="177.40" width="8.08" height="8.20" fill="#000000"/>
<rect x="870.36" y="177.40" width="4.04" height="8.20" fill="#cfcfcf"/>
<rect x="874.40" y="177.40" width="4.04" height="8.20" fill="#8a8a8a"/>
<rect x="878.44" y="177.40" width="4.04" height="8.20" fill="#000000"/>
<rect x="882.48" y="177.40" width="12.12" height="8.20" fill="#8a8a8a"/>
<rect x="894.60" y="177.40" width="4.04" height="8.20" fill="#000000"/>
<rect x="898.64" y="177.40" width="4.04" height="8.20" fill="#8a8a8a"/>
<rect x="902.68" y="177.40" width="4.04" height="8.20" fill="#000000"/>
<rect x="906.72" y="177.40" width="4.04" height="8.20" fill="#cfcfcf"/>
<rect x="910.76" y="177.40" width="4.04" height="8.20" fill="#000000"/>
<rect x="914.80" y="177.40" width="8.08" height="8.20" fill="#8a8a8a"/>
<rect x="922.88" y="177.40" width="4.04" height="8.20" fill="#000000"/>
<rect x="926.92" y="177.40" width="4.04" height="8.20" fill="#cfcfcf"/>
<rect x="930.96" y="177.40" width="8.08" height="8.20" fill="#000000"/>
<rect x="939.04" y="177.40" width="4.04" height="8.20" fill="#cfcfcf"/>
<rect x="943.08" y="177.40" width="24.24" height="8.20" fill="#000000"/>
<rect x="967.32" y="177.40" width="4.04" height="8.20" fill="#8a8a8a"/>
<rect x="971.36" y="177.40" width="8.08" height="8.20" fill="#cfcfcf"/>
<rect x="979.44" y="177.40" width="8.08" height="8.20" fill="#8a8a8a"/>
<rect x="987.52" y="177.40" width="4.04" height="8.20" fill="#000000"/>
<rect x="991.56" y="177.40" width="4.04" height="8.20" fill="#8a8a8a"/>
<rect x="995.60" y="177.40" width="4.04" height="8.20" fill="#cfcfcf"/>
<rect x="999.64" y="177.40" width="8.08" height="8.20" fill="#000000"/>
<rect x="1007.72" y="177.40" width="8.08" height="8.20" fill="#8a8a8a"/>
<rect x="1015.80" y="177.40" width="4.04" height="8.20" fill="#cfcfcf"/>
<rect x="1019.84" y="177.40" width="16.16" height="8.20" fill="#000000"/>
<rect x="636.04" y="185.55" width="4.04" height="8.20" fill="#cfcfcf"/>
<rect x="644.12" y="185.55" width="4.04" height="8.20" fill="#8a8a8a"/>
<rect x="648.16" y="185.55" width="8.08" height="8.20" fill="#000000"/>
<rect x="656.24" y="185.55" width="4.04" height="8.20" fill="#8a8a8a"/>
<rect x="660.28" y="185.55" width="4.04" height="8.20" fill="#000000"/>
<rect x="668.36" y="185.55" width="4.04" height="8.20" fill="#8a8a8a"/>
<rect x="672.40" y="185.55" width="4.04" height="8.20" fill="#cfcfcf"/>
<rect x="676.44" y="185.55" width="4.04" height="8.20" fill="#000000"/>
<rect x="680.48" y="185.55" width="8.08" height="8.20" fill="#cfcfcf"/>
<rect x="688.56" y="185.55" width="4.04" height="8.20" fill="#000000"/>
<rect x="692.60" y="185.55" width="4.04" height="8.20" fill="#cfcfcf"/>
<rect x="696.64" y="185.55" width="4.04" height="8.20" fill="#8a8a8a"/>
<rect x="700.68" y="185.55" width="4.04" height="8.20" fill="#cfcfcf"/>
<rect x="704.72" y="185.55" width="8.08" height="8.20" fill="#000000"/>
<rect x="716.84" y="185.55" width="8.08" height="8.20" fill="#8a8a8a"/>
<rect x="724.92" y="185.55" width="4.04" height="8.20" fill="#cfcfcf"/>
<rect x="728.96" y="185.55" width="4.04" height="8.20" fill="#000000"/>
<rect x="737.04" y="185.55" width="4.04" height="8.20" fill="#8a8a8a"/>
<rect x="741.08" y="185.55" width="4.04" height="8.20" fill="#000000"/>
<rect x="745.12" y="185.55" width="12.12" height="8.20" fill="#8a8a8a"/>
<rect x="757.24" y="185.55" width="4.04" height="8.20" fill="#000000"/>
<rect x="761.28" y="185.55" width="12.12" height="8.20" fill="#8a8a8a"/>
<rect x="773.40" y="185.55" width="4.04" height="8.20" fill="#cfcfcf"/>
<rect x="777.44" y="185.55" width="4.04" height="8.20" fill="#000000"/>
<rect x="781.48" y="185.55" width="8.08" height="8.20" fill="#8a8a8a"/>
<rect x="789.56" y="185.55" width="4.04" height="8.20" fill="#cfcfcf"/>
<rect x="793.60" y="185.55" width="8.08" height="8.20" fill="#8a8a8a"/>
<rect x="805.72" y="185.55" width="4.04" height="8.20" fill="#8a8a8a"/>
<rect x="809.76" y="185.55" width="4.04" height="8.20" fill="#cfcfcf"/>
<rect x="817.84" y="185.55" width="4.04" height="8.20" fill="#000000"/>
<rect x="821.88" y="185.55" width="4.04" height="8.20" fill="#cfcfcf"/>
<rect x="825.92" y="185.55" width="4.04" height="8.20" fill="#8a8a8a"/>
<rect x="829.96" y="185.55" width="4.04" height="8.20" fill="#000000"/>
<rect x="842.08" y="185.55" width="4.04" height="8.20" fill="#cfcfcf"/>
<rect x="846.12" y="185.55" width="4.04" height="8.20" fill="#8a8a8a"/>
<rect x="850.16" y="185.55" width="4.04" height="8.20" fill="#000000"/>
<rect x="854.20" y="185.55" width="8.08" height="8.20" fill="#8a8a8a"/>
<rect x="862.28" y="185.55" width="8.08" height="8.20" fill="#000000"/>
<rect x="870.36" y="185.55" width="4.04" height="8.20" fill="#cfcfcf"/>
<rect x="874.40" y="185.55" width="4.04" height="8.20" fill="#8a8a8a"/>
<rect x="878.44" y="185.55" width="4.04" height="8.20" fill="#000000"/>
<rect x="886.52" y="185.55" width="8.08" height="8.20" fill="#8a8a8a"/>
<rect x="894.60" y="185.55" width="4.04" height="8.20" fill="#000000"/>
<rect x="898.64" y="185.55" width="4.04" height="8.20" fill="#8a8a8a"/>
<rect x="902.68" y="185.55" width="4.04" height="8.20" fill="#000000"/>
<rect x="906.72" y="185.55" width="4.04" height="8.20" fill="#cfcfcf"/>
<rect x="910.76" y="185.55" width="4.04" height="8.20" fill="#000000"/>
<rect x="914.80" y="185.55" width="8.08" height="8.20" fill="#8a8a8a"/>
<rect x="922.88" y="185.55" width="4.04" height="8.20" fill="#000000"/>
<rect x="926.92" y="185.55" width="4.04" height="8.20" fill="#cfcfcf"/>
<rect x="930.96" y="185.55" width="8.08" height="8.20" fill="#000000"/>
<rect x="939.04" y="185.55" width="4.04" height="8.20" fill="#cfcfcf"/>
<rect x="943.08" y="185.55" width="24.24" height="8.20" fill="#000000"/>
<rect x="967.32" y="185.55" width="4.04" height="8.20" fill="#8a8a8a"/>
<rect x="971.36" y="185.55" width="4.04" height="8.20" fill="#cfcfcf"/>
<rect x="979.44" y="185.55" width="8.08" height="8.20" fill="#8a8a8a"/>
<rect x="987.52" y="185.55" width="4.04" height="8.20" fill="#000000"/>
<rect x="995.60" y="185.55" width="4.04" height="8.20" fill="#cfcfcf"/>
<rect x="999.64" y="185.55" width="8.08" height="8.20" fill="#000000"/>
<rect x="1007.72" y="185.55" width="8.08" height="8.20" fill="#8a8a8a"/>
<rect x="1015.80" y="185.55" width="4.04" height="8.20" fill="#cfcfcf"/>
<rect x="1019.84" y="185.55" width="16.16" height="8.20" fill="#000000"/>
<rect x="636.04" y="193.70" width="4.04" height="8.20" fill="#cfcfcf"/>
<rect x="640.08" y="193.70" width="8.08" height="8.20" fill="#8a8a8a"/>
<rect x="648.16" y="193.70" width="8.08" height="8.20" fill="#000000"/>
<rect x="656.24" y="193.70" width="4.04" height="8.20" fill="#8a8a8a"/>
<rect x="660.28" y="193.70" width="4.04" height="8.20" fill="#000000"/>
<rect x="668.36" y="193.70" width="4.04" height="8.20" fill="#8a8a8a"/>
<rect x="676.44" y="193.70" width="4.04" height="8.20" fill="#000000"/>
<rect x="680.48" y="193.70" width="8.08" height="8.20" fill="#cfcfcf"/>
<rect x="688.56" y="193.70" width="4.04" height="8.20" fill="#000000"/>
<rect x="692.60" y="193.70" width="4.04" height="8.20" fill="#cfcfcf"/>
<rect x="696.64" y="193.70" width="4.04" height="8.20" fill="#8a8a8a"/>
<rect x="700.68" y="193.70" width="4.04" height="8.20" fill="#cfcfcf"/>
<rect x="704.72" y="193.70" width="8.08" height="8.20" fill="#000000"/>
<rect x="716.84" y="193.70" width="8.08" height="8.20" fill="#8a8a8a"/>
<rect x="724.92" y="193.70" width="4.04" height="8.20" fill="#cfcfcf"/>
<rect x="728.96" y="193.70" width="4.04" height="8.20" fill="#000000"/>
<rect x="737.04" y="193.70" width="4.04" height="8.20" fill="#8a8a8a"/>
<rect x="741.08" y="193.70" width="4.04" height="8.20" fill="#000000"/>
<rect x="745.12" y="193.70" width="8.08" height="8.20" fill="#8a8a8a"/>
<rect x="757.24" y="193.70" width="4.04" height="8.20" fill="#000000"/>
<rect x="761.28" y="193.70" width="12.12" height="8.20" fill="#8a8a8a"/>
<rect x="773.40" y="193.70" width="4.04" height="8.20" fill="#cfcfcf"/>
<rect x="777.44" y="193.70" width="4.04" height="8.20" fill="#000000"/>
<rect x="781.48" y="193.70" width="8.08" height="8.20" fill="#8a8a8a"/>
<rect x="789.56" y="193.70" width="4.04" height="8.20" fill="#cfcfcf"/>
<rect x="793.60" y="193.70" width="8.08" height="8.20" fill="#8a8a8a"/>
<rect x="801.68" y="193.70" width="4.04" height="8.20" fill="#cfcfcf"/>
<rect x="805.72" y="193.70" width="4.04" height="8.20" fill="#8a8a8a"/>
<rect x="809.76" y="193.70" width="8.08" height="8.20" fill="#cfcfcf"/>
<rect x="817.84" y="193.70" width="4.04" height="8.20" fill="#000000"/>
<rect x="821.88" y="193.70" width="4.04" height="8.20" fill="#cfcfcf"/>
<rect x="825.92" y="193.70" width="4.04" height="8.20" fill="#8a8a8a"/>
<rect x="829.96" y="193.70" width="4.04" height="8.20" fill="#000000"/>
<rect x="842.08" y="193.70" width="4.04" height="8.20" fill="#cfcfcf"/>
<rect x="846.12" y="193.70" width="4.04" height="8.20" fill="#8a8a8a"/>
<rect x="850.16" y="193.70" width="4.04" height="8.20" fill="#000000"/>
<rect x="854.20" y="193.70" width="8.08" height="8.20" fill="#8a8a8a"/>
<rect x="862.28" y="193.70" width="8.08" height="8.20" fill="#000000"/>
<rect x="870.36" y="193.70" width="4.04" height="8.20" fill="#cfcfcf"/>
<rect x="874.40" y="193.70" width="4.04" height="8.20" fill="#8a8a8a"/>
<rect x="878.44" y="193.70" width="4.04" height="8.20" fill="#000000"/>
<rect x="882.48" y="193.70" width="12.12" height="8.20" fill="#8a8a8a"/>
<rect x="894.60" y="193.70" width="4.04" height="8.20" fill="#000000"/>
<rect x="898.64" y="193.70" width="4.04" height="8.20" fill="#8a8a8a"/>
<rect x="902.68" y="193.70" width="4.04" height="8.20" fill="#000000"/>
<rect x="906.72" y="193.70" width="4.04" height="8.20" fill="#cfcfcf"/>
<rect x="910.76" y="193.70" width="4.04" height="8.20" fill="#000000"/>
<rect x="914.80" y="193.70" width="8.08" height="8.20" fill="#8a8a8a"/>
<rect x="922.88" y="193.70" width="4.04" height="8.20" fill="#000000"/>
<rect x="926.92" y="193.70" width="4.04" height="8.20" fill="#cfcfcf"/>
<rect x="930.96" y="193.70" width="8.08" height="8.20" fill="#000000"/>
<rect x="939.04" y="193.70" width="4.04" height="8.20" fill="#cfcfcf"/>
<rect x="943.08" y="193.70" width="24.24" height="8.20" fill="#000000"/>
<rect x="967.32" y="193.70" width="4.04" height="8.20" fill="#8a8a8a"/>
<rect x="971.36" y="193.70" width="4.04" height="8.20" fill="#cfcfcf"/>
<rect x="979.44" y="193.70" width="8.08" height="8.20" fill="#8a8a8a"/>
<rect x="987.52" y="193.70" width="4.04" height="8.20" fill="#000000"/>
<rect x="991.56" y="193.70" width="4.04" height="8.20" fill="#8a8a8a"/>
<rect x="995.60" y="193.70" width="4.04" height="8.20" fill="#cfcfcf"/>
<rect x="999.64" y="193.70" width="8.08" height="8.20" fill="#000000"/>
<rect x="1007.72" y="193.70" width="8.08" height="8.20" fill="#8a8a8a"/>
<rect x="1015.80" y="193.70" width="4.04" height="8.20" fill="#cfcfcf"/>
<rect x="1019.84" y="193.70" width="16.16" height="8.20" fill="#000000"/>
<rect x="636.04" y="201.85" width="8.08" height="8.20" fill="#cfcfcf"/>
<rect x="648.16" y="201.85" width="8.08" height="8.20" fill="#000000"/>
<rect x="656.24" y="201.85" width="4.04" height="8.20" fill="#8a8a8a"/>
<rect x="660.28" y="201.85" width="4.04" height="8.20" fill="#000000"/>
<rect x="664.32" y="201.85" width="4.04" height="8.20" fill="#cfcfcf"/>
<rect x="668.36" y="201.85" width="4.04" height="8.20" fill="#8a8a8a"/>
<rect x="672.40" y="201.85" width="4.04" height="8.20" fill="#cfcfcf"/>
<rect x="676.44" y="201.85" width="4.04" height="8.20" fill="#000000"/>
<rect x="684.52" y="201.85" width="4.04" height="8.20" fill="#cfcfcf"/>
<rect x="688.56" y="201.85" width="4.04" height="8.20" fill="#000000"/>
<rect x="692.60" y="201.85" width="4.04" height="8.20" fill="#cfcfcf"/>
<rect x="696.64" y="201.85" width="4.04" height="8.20" fill="#8a8a8a"/>
<rect x="704.72" y="201.85" width="8.08" height="8.20" fill="#000000"/>
<rect x="728.96" y="201.85" width="4.04" height="8.20" fill="#000000"/>
<rect x="737.04" y="201.85" width="4.04" height="8.20" fill="#8a8a8a"/>
<rect x="741.08" y="201.85" width="4.04" height="8.20" fill="#000000"/>
<rect x="749.16" y="201.85" width="8.08" height="8.20" fill="#8a8a8a"/>
<rect x="757.24" y="201.85" width="4.04" height="8.20" fill="#000000"/>
<rect x="761.28" y="201.85" width="4.04" height="8.20" fill="#8a8a8a"/>
<rect x="769.36" y="201.85" width="4.04" height="8.20" fill="#8a8a8a"/>
<rect x="773.40" y="201.85" width="4.04" height="8.20" fill="#cfcfcf"/>
<rect x="777.44" y="201.85" width="4.04" height="8.20" fill="#000000"/>
<rect x="789.56" y="201.85" width="4.04" height="8.20" fill="#cfcfcf"/>
<rect x="793.60" y="201.85" width="8.08" height="8.20" fill="#8a8a8a"/>
<rect x="817.84" y="201.85" width="4.04" height="8.20" fill="#000000"/>
<rect x="821.88" y="201.85" width="4.04" height="8.20" fill="#cfcfcf"/>
<rect x="825.92" y="201.85" width="4.04" height="8.20" fill="#8a8a8a"/>
<rect x="829.96" y="201.85" width="4.04" height="8.20" fill="#000000"/>
<rect x="842.08" y="201.85" width="4.04" height="8.20" fill="#cfcfcf"/>
<rect x="846.12" y="201.85" width="4.04" height="8.20" fill="#8a8a8a"/>
<rect x="850.16" y="201.85" width="4.04" height="8.20" fill="#000000"/>
<rect x="854.20" y="201.85" width="4.04" height="8.20" fill="#8a8a8a"/>
<rect x="862.28" y="201.85" width="8.08" height="8.20" fill="#000000"/>
<rect x="870.36" y="201.85" width="4.04" height="8.20" fill="#cfcfcf"/>
<rect x="874.40" y="201.85" width="4.04" height="8.20" fill="#8a8a8a"/>
<rect x="878.44" y="201.85" width="4.04" height="8.20" fill="#000000"/>
<rect x="882.48" y="201.85" width="12.12" height="8.20" fill="#8a8a8a"/>
<rect x="894.60" y="201.85" width="4.04" height="8.20" fill="#000000"/>
<rect x="898.64" y="201.85" width="4.04" height="8.20" fill="#8a8a8a"/>
<rect x="902.68" y="201.85" width="4.04" height="8.20" fill="#000000"/>
<rect x="906.72" y="201.85" width="4.04" height="8.20" fill="#cfcfcf"/>
<rect x="910.76" y="201.85" width="4.04" height="8.20" fill="#000000"/>
<rect x="922.88" y="201.85" width="4.04" height="8.20" fill="#000000"/>
<rect x="926.92" y="201.85" width="4.04" height="8.20" fill="#cfcfcf"/>
<rect x="930.96" y="201.85" width="8.08" height="8.20" fill="#000000"/>
<rect x="939.04" y="201.85" width="4.04" height="8.20" fill="#cfcfcf"/>
<rect x="943.08" y="201.85" width="24.24" height="8.20" fill="#000000"/>
<rect x="971.36" y="201.85" width="8.08" height="8.20" fill="#cfcfcf"/>
<rect x="979.44" y="201.85" width="8.08" height="8.20" fill="#8a8a8a"/>
<rect x="987.52" y="201.85" width="4.04" height="8.20" fill="#000000"/>
<rect x="991.56" y="201.85" width="4.04" height="8.20" fill="#8a8a8a"/>
<rect x="995.60" y="201.85" width="4.04" height="8.20" fill="#cfcfcf"/>
<rect x="999.64" y="201.85" width="8.08" height="8.20" fill="#000000"/>
<rect x="1007.72" y="201.85" width="4.04" height="8.20" fill="#8a8a8a"/>
<rect x="1015.80" y="201.85" width="4.04" height="8.20" fill="#cfcfcf"/>
<rect x="1019.84" y="201.85" width="16.16" height="8.20" fill="#000000"/>
<rect x="636.04" y="210.00" width="4.04" height="8.20" fill="#cfcfcf"/>
<rect x="640.08" y="210.00" width="8.08" height="8.20" fill="#8a8a8a"/>
<rect x="648.16" y="210.00" width="8.08" height="8.20" fill="#000000"/>
<rect x="656.24" y="210.00" width="4.04" height="8.20" fill="#8a8a8a"/>
<rect x="660.28" y="210.00" width="4.04" height="8.20" fill="#000000"/>
<rect x="664.32" y="210.00" width="4.04" height="8.20" fill="#cfcfcf"/>
<rect x="668.36" y="210.00" width="4.04" height="8.20" fill="#8a8a8a"/>
<rect x="672.40" y="210.00" width="4.04" height="8.20" fill="#cfcfcf"/>
<rect x="676.44" y="210.00" width="4.04" height="8.20" fill="#000000"/>
<rect x="684.52" y="210.00" width="4.04" height="8.20" fill="#cfcfcf"/>
<rect x="688.56" y="210.00" width="4.04" height="8.20" fill="#000000"/>
<rect x="692.60" y="210.00" width="4.04" height="8.20" fill="#cfcfcf"/>
<rect x="696.64" y="210.00" width="4.04" height="8.20" fill="#8a8a8a"/>
<rect x="700.68" y="210.00" width="4.04" height="8.20" fill="#cfcfcf"/>
<rect x="704.72" y="210.00" width="8.08" height="8.20" fill="#000000"/>
<rect x="716.84" y="210.00" width="8.08" height="8.20" fill="#8a8a8a"/>
<rect x="728.96" y="210.00" width="4.04" height="8.20" fill="#000000"/>
<rect x="737.04" y="210.00" width="4.04" height="8.20" fill="#8a8a8a"/>
<rect x="741.08" y="210.00" width="4.04" height="8.20" fill="#000000"/>
<rect x="745.12" y="210.00" width="12.12" height="8.20" fill="#8a8a8a"/>
<rect x="757.24" y="210.00" width="4.04" height="8.20" fill="#000000"/>
<rect x="761.28" y="210.00" width="12.12" height="8.20" fill="#8a8a8a"/>
<rect x="773.40" y="210.00" width="4.04" height="8.20" fill="#cfcfcf"/>
<rect x="777.44" y="210.00" width="4.04" height="8.20" fill="#000000"/>
<rect x="781.48" y="210.00" width="8.08" height="8.20" fill="#8a8a8a"/>
<rect x="789.56" y="210.00" width="4.04" height="8.20" fill="#cfcfcf"/>
<rect x="793.60" y="210.00" width="8.08" height="8.20" fill="#8a8a8a"/>
<rect x="801.68" y="210.00" width="4.04" height="8.20" fill="#cfcfcf"/>
<rect x="805.72" y="210.00" width="4.04" height="8.20" fill="#8a8a8a"/>
<rect x="817.84" y="210.00" width="4.04" height="8.20" fill="#000000"/>
<rect x="821.88" y="210.00" width="4.04" height="8.20" fill="#cfcfcf"/>
<rect x="825.92" y="210.00" width="4.04" height="8.20" fill="#8a8a8a"/>
<rect x="829.96" y="210.00" width="4.04" height="8.20" fill="#000000"/>
<rect x="842.08" y="210.00" width="4.04" height="8.20" fill="#cfcfcf"/>
<rect x="846.12" y="210.00" width="4.04" height="8.20" fill="#8a8a8a"/>
<rect x="850.16" y="210.00" width="4.04" height="8.20" fill="#000000"/>
<rect x="854.20" y="210.00" width="8.08" height="8.20" fill="#8a8a8a"/>
<rect x="862.28" y="210.00" width="8.08" height="8.20" fill="#000000"/>
<rect x="870.36" y="210.00" width="4.04" height="8.20" fill="#cfcfcf"/>
<rect x="874.40" y="210.00" width="4.04" height="8.20" fill="#8a8a8a"/>
<rect x="878.44" y="210.00" width="4.04" height="8.20" fill="#000000"/>
<rect x="882.48" y="210.00" width="8.08" height="8.20" fill="#8a8a8a"/>
<rect x="894.60" y="210.00" width="4.04" height="8.20" fill="#000000"/>
<rect x="898.64" y="210.00" width="4.04" height="8.20" fill="#8a8a8a"/>
<rect x="902.68" y="210.00" width="4.04" height="8.20" fill="#000000"/>
<rect x="906.72" y="210.00" width="4.04" height="8.20" fill="#cfcfcf"/>
<rect x="910.76" y="210.00" width="4.04" height="8.20" fill="#000000"/>
<rect x="914.80" y="210.00" width="8.08" height="8.20" fill="#8a8a8a"/>
<rect x="922.88" y="210.00" width="4.04" height="8.20" fill="#000000"/>
<rect x="926.92" y="210.00" width="4.04" height="8.20" fill="#cfcfcf"/>
<rect x="930.96" y="210.00" width="8.08" height="8.20" fill="#000000"/>
<rect x="939.04" y="210.00" width="4.04" height="8.20" fill="#cfcfcf"/>
<rect x="943.08" y="210.00" width="24.24" height="8.20" fill="#000000"/>
<rect x="967.32" y="210.00" width="4.04" height="8.20" fill="#8a8a8a"/>
<rect x="971.36" y="210.00" width="8.08" height="8.20" fill="#cfcfcf"/>
<rect x="979.44" y="210.00" width="8.08" height="8.20" fill="#8a8a8a"/>
<rect x="987.52" y="210.00" width="4.04" height="8.20" fill="#000000"/>
<rect x="991.56" y="210.00" width="4.04" height="8.20" fill="#8a8a8a"/>
<rect x="995.60" y="210.00" width="4.04" height="8.20" fill="#cfcfcf"/>
<rect x="999.64" y="210.00" width="8.08" height="8.20" fill="#000000"/>
<rect x="1007.72" y="210.00" width="8.08" height="8.20" fill="#8a8a8a"/>
<rect x="1015.80" y="210.00" width="4.04" height="8.20" fill="#cfcfcf"/>
<rect x="1019.84" y="210.00" width="16.16" height="8.20" fill="#000000"/>
<text transform="scale(0.860,1)" x="675.3 680.0 684.7 689.3 694.0 698.6 703.3 707.9 712.6 717.2" y="183.40" fill="#888" stroke="#888" stroke-width="0.25">CbCYP98A14</text>
<text transform="scale(0.860,1)" x="675.3 680.0 684.7 689.3 694.0 698.6 703.3 707.9 712.6 717.2" y="191.55" fill="#888" stroke="#888" stroke-width="0.25">SmCYP98A75</text>
<text transform="scale(0.860,1)" x="675.3 680.0 684.7 689.3 694.0 698.6 703.3 707.9 712.6 717.2" y="199.70" fill="#888" stroke="#888" stroke-width="0.25">SmCYP98A76</text>
<text transform="scale(0.860,1)" x="675.3 680.0 684.7 689.3 694.0 698.6 703.3 707.9 712.6 717.2" y="207.85" fill="#888" stroke="#888" stroke-width="0.25">SmCYP98A77</text>
<text transform="scale(0.860,1)" x="675.3 680.0 684.7 689.3 694.0 698.6 703.3 707.9 712.6 717.2" y="216.00" fill="#888" stroke="#888" stroke-width="0.25">SmCYP98A14</text>
<text transform="scale(0.860,1)" x="675.3 680.0 684.7 689.3 694.0 698.6 703.3 707.9 712.6" y="224.15" fill="#888" stroke="#888" stroke-width="0.25">Consensus</text>
<text transform="scale(0.860,1)" x="756.0 760.7 770.1 788.9 803.0 821.8 826.5 850.0 864.1 882.9 906.3 953.3 967.4 990.9 1005.0 1009.7 1023.8 1042.6 1052.0 1061.4 1075.5 1084.9 1089.6 1099.0 1103.7 1108.3 1113.0 1117.7 1122.4 1150.6 1164.7 1169.4 1188.2 1192.9 1197.6 1202.3" y="184.30" fill="#f0f0f0" stroke="#f0f0f0" stroke-width="0.15">QGEINLGAEWFHRTIMHRKGKHFDALLTLLDTLLWD</text>
<text transform="scale(0.860,1)" x="746.6 751.3 765.4 779.5 812.4 835.9 840.6 868.8 873.5 878.2 887.6 892.3 897.0 911.0 915.7 925.1 929.8 939.2 986.2 995.6 1000.3 1019.1 1028.5 1033.2 1037.9 1047.3 1066.1 1070.8 1127.1 1141.2 1145.9 1155.3 1174.1 1178.8" y="184.30" fill="#1a1a1a" stroke="#1a1a1a" stroke-width="0.25">THIAPPADWTFYPSFYFTWIDCFNEPVCIARDVD</text>
<text transform="scale(0.860,1)" x="741.9 774.8 784.2 798.3 807.7 817.1 845.3 901.7 920.4 934.5 948.6 958.0 981.5 1014.4 1056.7 1080.2 1094.3 1131.8 1136.5 1160.0 1183.5" y="184.30" fill="#555555" stroke="#555555" stroke-width="0.25">KTDDFWLMLCTFAARAVSKTT</text>
<text transform="scale(0.860,1)" x="737.2 793.6 831.2 854.7 859.4 943.9 962.7 972.1 976.8" y="184.30" fill="#888888" stroke="#888888" stroke-width="0.25">SKCLIQTTW</text>
<text transform="scale(0.860,1)" x="756.0 760.7 770.1 788.9 803.0 821.8 826.5 850.0 864.1 882.9 906.3 953.3 967.4 990.9 1005.0 1009.7 1023.8 1042.6 1052.0 1061.4 1075.5 1084.9 1089.6 1099.0 1103.7 1108.3 1113.0 1117.7 1122.4 1150.6 1164.7 1169.4 1188.2 1192.9 1197.6 1202.3" y="192.45" fill="#f0f0f0" stroke="#f0f0f0" stroke-width="0.15">QGEINLGAEWFHRTIMHRKGKHFDALLTLLDTLLWD</text>
<text transform="scale(0.860,1)" x="751.3 765.4 779.5 812.4 835.9 840.6 859.4 868.8 873.5 878.2 887.6 892.3 897.0 911.0 915.7 925.1 929.8 939.2 962.7 986.2 995.6 1000.3 1019.1 1033.2 1037.9 1047.3 1066.1 1070.8 1127.1 1141.2 1145.9 1174.1 1178.8" y="192.45" fill="#1a1a1a" stroke="#1a1a1a" stroke-width="0.25">DKHDCYYFMKLYWASSKHLEVHDALRTRHWDKN</text>
<text transform="scale(0.860,1)" x="741.9 784.2 793.6 798.3 807.7 817.1 845.3 901.7 920.4 943.9 958.0 981.5 1014.4 1056.7 1080.2 1094.3 1131.8 1160.0 1183.5" y="192.45" fill="#555555" stroke="#555555" stroke-width="0.25">SIRSPSHFCSTRLDKPHTF</text>
<text transform="scale(0.860,1)" x="737.2 746.6 774.8 831.2 854.7 934.5 948.6 972.1 976.8 1028.5 1136.5 1155.3" y="192.45" fill="#888888" stroke="#888888" stroke-width="0.25">DKILDELRRSDF</text>
<text transform="scale(0.860,1)" x="756.0 760.7 770.1 788.9 803.0 821.8 826.5 850.0 864.1 882.9 906.3 953.3 967.4 990.9 1005.0 1009.7 1023.8 1042.6 1052.0 1061.4 1075.5 1084.9 1089.6 1099.0 1103.7 1108.3 1113.0 1117.7 1122.4 1150.6 1164.7 1169.4 1188.2 1192.9 1197.6 1202.3" y="200.60" fill="#f0f0f0" stroke="#f0f0f0" stroke-width="0.15">QGEINLGAEWFHRTIMHRKGKHFDALLTLLDTLLWD</text>
<text transform="scale(0.860,1)" x="746.6 751.3 765.4 779.5 812.4 835.9 840.6 859.4 868.8 873.5 887.6 892.3 897.0 911.0 915.7 925.1 929.8 939.2 962.7 986.2 995.6 1000.3 1019.1 1028.5 1033.2 1037.9 1047.3 1066.1 1070.8 1127.1 1141.2 1145.9 1155.3 1174.1 1178.8" y="200.60" fill="#1a1a1a" stroke="#1a1a1a" stroke-width="0.25">KENSAPLNPMMAMPEALNWKCKCLFIKTMQVVHCQ</text>
<text transform="scale(0.860,1)" x="741.9 793.6 798.3 807.7 817.1 845.3 901.7 920.4 934.5 943.9 948.6 958.0 981.5 1014.4 1056.7 1080.2 1094.3 1131.8 1160.0 1183.5" y="200.60" fill="#555555" stroke="#555555" stroke-width="0.25">TPAGSFMHKDPPQEQHNADR</text>
<text transform="scale(0.860,1)" x="737.2 774.8 784.2 831.2 854.7 878.2 972.1 976.8 1136.5" y="200.60" fill="#888888" stroke="#888888" stroke-width="0.25">YISRQEDNP</text>
<text transform="scale(0.860,1)" x="756.0 760.7 770.1 788.9 803.0 821.8 826.5 850.0 864.1 882.9 906.3 953.3 967.4 990.9 1005.0 1009.7 1023.8 1042.6 1052.0 1061.4 1075.5 1084.9 1089.6 1099.0 1103.7 1108.3 1113.0 1117.7 1122.4 1150.6 1164.7 1169.4 1188.2 1192.9 1197.6 1202.3" y="208.75" fill="#f0f0f0" stroke="#f0f0f0" stroke-width="0.15">QGEINLGAEWFHRTIMHRKGKHFDALLTLLDTLLWD</text>
<text transform="scale(0.860,1)" x="765.4 779.5 812.4 859.4 873.5 878.2 887.6 897.0 925.1 929.8 962.7 986.2 995.6 1019.1 1028.5 1033.2 1037.9 1047.3 1141.2 1145.9 1155.3 1174.1" y="208.75" fill="#1a1a1a" stroke="#1a1a1a" stroke-width="0.25">CFLSPEGDIRHMVINKWHMCSW</text>
<text transform="scale(0.860,1)" x="741.9 746.6 774.8 784.2 798.3 807.7 901.7 920.4 958.0 981.5 1014.4 1056.7 1080.2 1094.3 1131.8 1136.5 1160.0 1183.5" y="208.75" fill="#555555" stroke="#555555" stroke-width="0.25">FLVGQMHVVGMAQTPKKF</text>
<text transform="scale(0.860,1)" x="737.2 751.3 793.6 817.1 831.2 835.9 840.6 845.3 854.7 868.8 892.3 911.0 915.7 934.5 939.2 943.9 948.6 972.1 976.8 1000.3 1066.1 1070.8 1127.1 1178.8" y="208.75" fill="#888888" stroke="#888888" stroke-width="0.25">YSSLKKPILVGTSMRQFIDDQPHN</text>
<text transform="scale(0.860,1)" x="756.0 760.7 770.1 788.9 803.0 821.8 826.5 850.0 864.1 882.9 906.3 953.3 967.4 990.9 1005.0 1009.7 1023.8 1042.6 1052.0 1061.4 1075.5 1084.9 1089.6 1099.0 1103.7 1108.3 1113.0 1117.7 1122.4 1150.6 1164.7 1169.4 1188.2 1192.9 1197.6 1202.3" y="216.90" fill="#f0f0f0" stroke="#f0f0f0" stroke-width="0.15">QGEINLGAEWFHRTIMHRKGKHFDALLTLLDTLLWD</text>
<text transform="scale(0.860,1)" x="746.6 751.3 765.4 779.5 812.4 835.9 840.6 859.4 868.8 873.5 878.2 887.6 892.3 897.0 911.0 915.7 925.1 929.8 939.2 962.7 986.2 995.6 1000.3 1019.1 1028.5 1033.2 1047.3 1066.1 1070.8 1127.1 1141.2 1145.9 1155.3 1174.1 1178.8" y="216.90" fill="#1a1a1a" stroke="#1a1a1a" stroke-width="0.25">HDKPAQSADPTRRIIFTEDFLFKQEELWHIAVLKM</text>
<text transform="scale(0.860,1)" x="741.9 774.8 784.2 798.3 807.7 817.1 901.7 920.4 934.5 958.0 981.5 1014.4 1056.7 1080.2 1094.3 1131.8 1136.5 1160.0 1183.5" y="216.90" fill="#555555" stroke="#555555" stroke-width="0.25">TIPQLFEFRACTTPKYARI</text>
<text transform="scale(0.860,1)" x="737.2 793.6 831.2 845.3 854.7 943.9 948.6 972.1 976.8 1037.9" y="216.90" fill="#888888" stroke="#888888" stroke-width="0.25">TRCWSVCIWD</text>
<text transform="scale(0.860,1)" x="756.0 760.7 770.1 788.9 803.0 821.8 826.5 850.0 864.1 882.9 906.3 953.3 967.4 990.9 1005.0 1009.7 1023.8 1042.6 1052.0 1061.4 1075.5 1084.9 1089.6 1099.0 1103.7 1108.3 1113.0 1117.7 1122.4 1150.6 1164.7 1169.4 1188.2 1192.9 1197.6 1202.3" y="223.75" fill="#555" stroke="#555" stroke-width="0.20">qgeinlgaewfhrtimhrkgkhfdalltlldtllwd</text>
<text transform="scale(0.860,1)" x="1225.0 1229.7 1234.3" y="183.40" fill="#888" stroke="#888" stroke-width="0.20">293</text>
<text transform="scale(0.860,1)" x="1225.0 1229.7 1234.3" y="191.55" fill="#888" stroke="#888" stroke-width="0.20">296</text>
<text transform="scale(0.860,1)" x="1225.0 1229.7 1234.3" y="199.70" fill="#888" stroke="#888" stroke-width="0.20">299</text>
<text transform="scale(0.860,1)" x="1225.0 1229.7 1234.3" y="207.85" fill="#888" stroke="#888" stroke-width="0.20">296</text>
<text transform="scale(0.860,1)" x="1225.0 1229.7 1234.3" y="216.00" fill="#888" stroke="#888" stroke-width="0.20">293</text>
<rect x="632.00" y="234.00" width="8.08" height="8.20" fill="#000000"/>
<rect x="644.12" y="234.00" width="20.20" height="8.20" fill="#000000"/>
<rect x="668.36" y="234.00" width="4.04" height="8.20" fill="#8a8a8a"/>
<rect x="672.40" y="234.00" width="4.04" height="8.20" fill="#000000"/>
<rect x="676.44" y="234.00" width="8.08" height="8.20" fill="#8a8a8a"/>
<rect x="684.52" y="234.00" width="12.12" height="8.20" fill="#000000"/>
<rect x="696.64" y="234.00" width="4.04" height="8.20" fill="#8a8a8a"/>
<rect x="700.68" y="234.00" width="12.12" height="8.20" fill="#000000"/>
<rect x="712.80" y="234.00" width="4.04" height="8.20" fill="#cfcfcf"/>
<rect x="716.84" y="234.00" width="4.04" height="8.20" fill="#8a8a8a"/>
<rect x="720.88" y="234.00" width="16.16" height="8.20" fill="#000000"/>
<rect x="737.04" y="234.00" width="4.04" height="8.20" fill="#8a8a8a"/>
<rect x="741.08" y="234.00" width="4.04" height="8.20" fill="#cfcfcf"/>
<rect x="745.12" y="234.00" width="4.04" height="8.20" fill="#000000"/>
<rect x="749.16" y="234.00" width="4.04" height="8.20" fill="#8a8a8a"/>
<rect x="753.20" y="234.00" width="28.28" height="8.20" fill="#000000"/>
<rect x="781.48" y="234.00" width="4.04" height="8.20" fill="#8a8a8a"/>
<rect x="785.52" y="234.00" width="4.04" height="8.20" fill="#000000"/>
<rect x="793.60" y="234.00" width="4.04" height="8.20" fill="#cfcfcf"/>
<rect x="797.64" y="234.00" width="4.04" height="8.20" fill="#000000"/>
<rect x="805.72" y="234.00" width="4.04" height="8.20" fill="#8a8a8a"/>
<rect x="809.76" y="234.00" width="8.08" height="8.20" fill="#000000"/>
<rect x="817.84" y="234.00" width="4.04" height="8.20" fill="#cfcfcf"/>
<rect x="821.88" y="234.00" width="4.04" height="8.20" fill="#000000"/>
<rect x="825.92" y="234.00" width="4.04" height="8.20" fill="#cfcfcf"/>
<rect x="834.00" y="234.00" width="8.08" height="8.20" fill="#8a8a8a"/>
<rect x="842.08" y="234.00" width="12.12" height="8.20" fill="#000000"/>
<rect x="854.20" y="234.00" width="4.04" height="8.20" fill="#8a8a8a"/>
<rect x="858.24" y="234.00" width="8.08" height="8.20" fill="#000000"/>
<rect x="870.36" y="234.00" width="8.08" height="8.20" fill="#000000"/>
<rect x="878.44" y="234.00" width="4.04" height="8.20" fill="#cfcfcf"/>
<rect x="882.48" y="234.00" width="4.04" height="8.20" fill="#8a8a8a"/>
<rect x="886.52" y="234.00" width="4.04" height="8.20" fill="#000000"/>
<rect x="890.56" y="234.00" width="4.04" height="8.20" fill="#8a8a8a"/>
<rect x="894.60" y="234.00" width="32.32" height="8.20" fill="#000000"/>
<rect x="926.92" y="234.00" width="4.04" height="8.20" fill="#8a8a8a"/>
<rect x="930.96" y="234.00" width="4.04" height="8.20" fill="#000000"/>
<rect x="939.04" y="234.00" width="8.08" height="8.20" fill="#cfcfcf"/>
<rect x="947.12" y="234.00" width="4.04" height="8.20" fill="#8a8a8a"/>
<rect x="951.16" y="234.00" width="4.04" height="8.20" fill="#cfcfcf"/>
<rect x="955.20" y="234.00" width="8.08" height="8.20" fill="#000000"/>
<rect x="963.28" y="234.00" width="4.04" height="8.20" fill="#8a8a8a"/>
<rect x="967.32" y="234.00" width="16.16" height="8.20" fill="#000000"/>
<rect x="983.48" y="234.00" width="4.04" height="8.20" fill="#8a8a8a"/>
<rect x="987.52" y="234.00" width="12.12" height="8.20" fill="#000000"/>
<rect x="999.64" y="234.00" width="4.04" height="8.20" fill="#8a8a8a"/>
<rect x="1007.72" y="234.00" width="4.04" height="8.20" fill="#000000"/>
<rect x="1011.76" y="234.00" width="4.04" height="8.20" fill="#cfcfcf"/>
<rect x="1015.80" y="234.00" width="20.20" height="8.20" fill="#000000"/>
<rect x="632.00" y="242.15" width="8.08" height="8.20" fill="#000000"/>
<rect x="644.12" y="242.15" width="20.20" height="8.20" fill="#000000"/>
<rect x="668.36" y="242.15" width="4.04" height="8.20" fill="#8a8a8a"/>
<rect x="672.40" y="242.15" width="4.04" height="8.20" fill="#000000"/>
<rect x="676.44" y="242.15" width="8.08" height="8.20" fill="#8a8a8a"/>
<rect x="684.52" y="242.15" width="12.12" height="8.20" fill="#000000"/>
<rect x="696.64" y="242.15" width="4.04" height="8.20" fill="#8a8a8a"/>
<rect x="700.68" y="242.15" width="12.12" height="8.20" fill="#000000"/>
<rect x="712.80" y="242.15" width="4.04" height="8.20" fill="#cfcfcf"/>
<rect x="716.84" y="242.15" width="4.04" height="8.20" fill="#8a8a8a"/>
<rect x="720.88" y="242.15" width="16.16" height="8.20" fill="#000000"/>
<rect x="741.08" y="242.15" width="4.04" height="8.20" fill="#cfcfcf"/>
<rect x="745.12" y="242.15" width="4.04" height="8.20" fill="#000000"/>
<rect x="749.16" y="242.15" width="4.04" height="8.20" fill="#8a8a8a"/>
<rect x="753.20" y="242.15" width="28.28" height="8.20" fill="#000000"/>
<rect x="781.48" y="242.15" width="4.04" height="8.20" fill="#8a8a8a"/>
<rect x="785.52" y="242.15" width="4.04" height="8.20" fill="#000000"/>
<rect x="793.60" y="242.15" width="4.04" height="8.20" fill="#cfcfcf"/>
<rect x="797.64" y="242.15" width="4.04" height="8.20" fill="#000000"/>
<rect x="805.72" y="242.15" width="4.04" height="8.20" fill="#8a8a8a"/>
<rect x="809.76" y="242.15" width="8.08" height="8.20" fill="#000000"/>
<rect x="821.88" y="242.15" width="4.04" height="8.20" fill="#000000"/>
<rect x="825.92" y="242.15" width="4.04" height="8.20" fill="#cfcfcf"/>
<rect x="834.00" y="242.15" width="8.08" height="8.20" fill="#8a8a8a"/>
<rect x="842.08" y="242.15" width="12.12" height="8.20" fill="#000000"/>
<rect x="858.24" y="242.15" width="8.08" height="8.20" fill="#000000"/>
<rect x="870.36" y="242.15" width="8.08" height="8.20" fill="#000000"/>
<rect x="878.44" y="242.15" width="4.04" height="8.20" fill="#cfcfcf"/>
<rect x="882.48" y="242.15" width="4.04" height="8.20" fill="#8a8a8a"/>
<rect x="886.52" y="242.15" width="4.04" height="8.20" fill="#000000"/>
<rect x="890.56" y="242.15" width="4.04" height="8.20" fill="#8a8a8a"/>
<rect x="894.60" y="242.15" width="32.32" height="8.20" fill="#000000"/>
<rect x="926.92" y="242.15" width="4.04" height="8.20" fill="#8a8a8a"/>
<rect x="930.96" y="242.15" width="4.04" height="8.20" fill="#000000"/>
<rect x="935.00" y="242.15" width="4.04" height="8.20" fill="#8a8a8a"/>
<rect x="943.08" y="242.15" width="4.04" height="8.20" fill="#cfcfcf"/>
<rect x="947.12" y="242.15" width="4.04" height="8.20" fill="#8a8a8a"/>
<rect x="951.16" y="242.15" width="4.04" height="8.20" fill="#cfcfcf"/>
<rect x="955.20" y="242.15" width="8.08" height="8.20" fill="#000000"/>
<rect x="963.28" y="242.15" width="4.04" height="8.20" fill="#8a8a8a"/>
<rect x="967.32" y="242.15" width="16.16" height="8.20" fill="#000000"/>
<rect x="983.48" y="242.15" width="4.04" height="8.20" fill="#8a8a8a"/>
<rect x="987.52" y="242.15" width="12.12" height="8.20" fill="#000000"/>
<rect x="999.64" y="242.15" width="4.04" height="8.20" fill="#8a8a8a"/>
<rect x="1003.68" y="242.15" width="4.04" height="8.20" fill="#cfcfcf"/>
<rect x="1007.72" y="242.15" width="4.04" height="8.20" fill="#000000"/>
<rect x="1011.76" y="242.15" width="4.04" height="8.20" fill="#cfcfcf"/>
<rect x="1015.80" y="242.15" width="20.20" height="8.20" fill="#000000"/>
<rect x="632.00" y="250.30" width="8.08" height="8.20" fill="#000000"/>
<rect x="644.12" y="250.30" width="20.20" height="8.20" fill="#000000"/>
<rect x="668.36" y="250.30" width="4.04" height="8.20" fill="#8a8a8a"/>
<rect x="672.40" y="250.30" width="4.04" height="8.20" fill="#000000"/>
<rect x="676.44" y="250.30" width="8.08" height="8.20" fill="#8a8a8a"/>
<rect x="684.52" y="250.30" width="12.12" height="8.20" fill="#000000"/>
<rect x="696.64" y="250.30" width="4.04" height="8.20" fill="#8a8a8a"/>
<rect x="700.68" y="250.30" width="12.12" height="8.20" fill="#000000"/>
<rect x="712.80" y="250.30" width="4.04" height="8.20" fill="#cfcfcf"/>
<rect x="716.84" y="250.30" width="4.04" height="8.20" fill="#8a8a8a"/>
<rect x="720.88" y="250.30" width="16.16" height="8.20" fill="#000000"/>
<rect x="737.04" y="250.30" width="4.04" height="8.20" fill="#8a8a8a"/>
<rect x="745.12" y="250.30" width="4.04" height="8.20" fill="#000000"/>
<rect x="753.20" y="250.30" width="28.28" height="8.20" fill="#000000"/>
<rect x="781.48" y="250.30" width="4.04" height="8.20" fill="#8a8a8a"/>
<rect x="785.52" y="250.30" width="4.04" height="8.20" fill="#000000"/>
<rect x="793.60" y="250.30" width="4.04" height="8.20" fill="#cfcfcf"/>
<rect x="797.64" y="250.30" width="4.04" height="8.20" fill="#000000"/>
<rect x="805.72" y="250.30" width="4.04" height="8.20" fill="#8a8a8a"/>
<rect x="809.76" y="250.30" width="8.08" height="8.20" fill="#000000"/>
<rect x="817.84" y="250.30" width="4.04" height="8.20" fill="#cfcfcf"/>
<rect x="821.88" y="250.30" width="4.04" height="8.20" fill="#000000"/>
<rect x="825.92" y="250.30" width="4.04" height="8.20" fill="#cfcfcf"/>
<rect x="834.00" y="250.30" width="8.08" height="8.20" fill="#8a8a8a"/>
<rect x="842.08" y="250.30" width="12.12" height="8.20" fill="#000000"/>
<rect x="854.20" y="250.30" width="4.04" height="8.20" fill="#8a8a8a"/>
<rect x="858.24" y="250.30" width="8.08" height="8.20" fill="#000000"/>
<rect x="870.36" y="250.30" width="8.08" height="8.20" fill="#000000"/>
<rect x="878.44" y="250.30" width="4.04" height="8.20" fill="#cfcfcf"/>
<rect x="882.48" y="250.30" width="4.04" height="8.20" fill="#8a8a8a"/>
<rect x="886.52" y="250.30" width="4.04" height="8.20" fill="#000000"/>
<rect x="890.56" y="250.30" width="4.04" height="8.20" fill="#8a8a8a"/>
<rect x="894.60" y="250.30" width="32.32" height="8.20" fill="#000000"/>
<rect x="926.92" y="250.30" width="4.04" height="8.20" fill="#8a8a8a"/>
<rect x="930.96" y="250.30" width="4.04" height="8.20" fill="#000000"/>
<rect x="935.00" y="250.30" width="4.04" height="8.20" fill="#8a8a8a"/>
<rect x="939.04" y="250.30" width="8.08" height="8.20" fill="#cfcfcf"/>
<rect x="947.12" y="250.30" width="4.04" height="8.20" fill="#8a8a8a"/>
<rect x="951.16" y="250.30" width="4.04" height="8.20" fill="#cfcfcf"/>
<rect x="955.20" y="250.30" width="8.08" height="8.20" fill="#000000"/>
<rect x="963.28" y="250.30" width="4.04" height="8.20" fill="#8a8a8a"/>
<rect x="967.32" y="250.30" width="16.16" height="8.20" fill="#000000"/>
<rect x="983.48" y="250.30" width="4.04" height="8.20" fill="#8a8a8a"/>
<rect x="987.52" y="250.30" width="12.12" height="8.20" fill="#000000"/>
<rect x="999.64" y="250.30" width="4.04" height="8.20" fill="#8a8a8a"/>
<rect x="1007.72" y="250.30" width="4.04" height="8.20" fill="#000000"/>
<rect x="1011.76" y="250.30" width="4.04" height="8.20" fill="#cfcfcf"/>
<rect x="1015.80" y="250.30" width="20.20" height="8.20" fill="#000000"/>
<rect x="632.00" y="258.45" width="8.08" height="8.20" fill="#000000"/>
<rect x="644.12" y="258.45" width="20.20" height="8.20" fill="#000000"/>
<rect x="672.40" y="258.45" width="4.04" height="8.20" fill="#000000"/>
<rect x="684.52" y="258.45" width="12.12" height="8.20" fill="#000000"/>
<rect x="696.64" y="258.45" width="4.04" height="8.20" fill="#8a8a8a"/>
<rect x="700.68" y="258.45" width="12.12" height="8.20" fill="#000000"/>
<rect x="712.80" y="258.45" width="4.04" height="8.20" fill="#cfcfcf"/>
<rect x="716.84" y="258.45" width="4.04" height="8.20" fill="#8a8a8a"/>
<rect x="720.88" y="258.45" width="16.16" height="8.20" fill="#000000"/>
<rect x="737.04" y="258.45" width="4.04" height="8.20" fill="#8a8a8a"/>
<rect x="745.12" y="258.45" width="4.04" height="8.20" fill="#000000"/>
<rect x="749.16" y="258.45" width="4.04" height="8.20" fill="#8a8a8a"/>
<rect x="753.20" y="258.45" width="28.28" height="8.20" fill="#000000"/>
<rect x="781.48" y="258.45" width="4.04" height="8.20" fill="#8a8a8a"/>
<rect x="785.52" y="258.45" width="4.04" height="8.20" fill="#000000"/>
<rect x="793.60" y="258.45" width="4.04" height="8.20" fill="#cfcfcf"/>
<rect x="797.64" y="258.45" width="4.04" height="8.20" fill="#000000"/>
<rect x="805.72" y="258.45" width="4.04" height="8.20" fill="#8a8a8a"/>
<rect x="809.76" y="258.45" width="8.08" height="8.20" fill="#000000"/>
<rect x="821.88" y="258.45" width="4.04" height="8.20" fill="#000000"/>
<rect x="825.92" y="258.45" width="4.04" height="8.20" fill="#cfcfcf"/>
<rect x="842.08" y="258.45" width="12.12" height="8.20" fill="#000000"/>
<rect x="854.20" y="258.45" width="4.04" height="8.20" fill="#8a8a8a"/>
<rect x="858.24" y="258.45" width="8.08" height="8.20" fill="#000000"/>
<rect x="870.36" y="258.45" width="8.08" height="8.20" fill="#000000"/>
<rect x="882.48" y="258.45" width="4.04" height="8.20" fill="#8a8a8a"/>
<rect x="886.52" y="258.45" width="4.04" height="8.20" fill="#000000"/>
<rect x="890.56" y="258.45" width="4.04" height="8.20" fill="#8a8a8a"/>
<rect x="894.60" y="258.45" width="32.32" height="8.20" fill="#000000"/>
<rect x="930.96" y="258.45" width="4.04" height="8.20" fill="#000000"/>
<rect x="935.00" y="258.45" width="4.04" height="8.20" fill="#8a8a8a"/>
<rect x="943.08" y="258.45" width="4.04" height="8.20" fill="#cfcfcf"/>
<rect x="947.12" y="258.45" width="4.04" height="8.20" fill="#8a8a8a"/>
<rect x="951.16" y="258.45" width="4.04" height="8.20" fill="#cfcfcf"/>
<rect x="955.20" y="258.45" width="8.08" height="8.20" fill="#000000"/>
<rect x="963.28" y="258.45" width="4.04" height="8.20" fill="#8a8a8a"/>
<rect x="967.32" y="258.45" width="16.16" height="8.20" fill="#000000"/>
<rect x="983.48" y="258.45" width="4.04" height="8.20" fill="#8a8a8a"/>
<rect x="987.52" y="258.45" width="12.12" height="8.20" fill="#000000"/>
<rect x="1007.72" y="258.45" width="4.04" height="8.20" fill="#000000"/>
<rect x="1015.80" y="258.45" width="20.20" height="8.20" fill="#000000"/>
<rect x="632.00" y="266.60" width="8.08" height="8.20" fill="#000000"/>
<rect x="644.12" y="266.60" width="20.20" height="8.20" fill="#000000"/>
<rect x="668.36" y="266.60" width="4.04" height="8.20" fill="#8a8a8a"/>
<rect x="672.40" y="266.60" width="4.04" height="8.20" fill="#000000"/>
<rect x="676.44" y="266.60" width="8.08" height="8.20" fill="#8a8a8a"/>
<rect x="684.52" y="266.60" width="12.12" height="8.20" fill="#000000"/>
<rect x="696.64" y="266.60" width="4.04" height="8.20" fill="#8a8a8a"/>
<rect x="700.68" y="266.60" width="12.12" height="8.20" fill="#000000"/>
<rect x="712.80" y="266.60" width="4.04" height="8.20" fill="#cfcfcf"/>
<rect x="716.84" y="266.60" width="4.04" height="8.20" fill="#8a8a8a"/>
<rect x="720.88" y="266.60" width="16.16" height="8.20" fill="#000000"/>
<rect x="737.04" y="266.60" width="4.04" height="8.20" fill="#8a8a8a"/>
<rect x="741.08" y="266.60" width="4.04" height="8.20" fill="#cfcfcf"/>
<rect x="745.12" y="266.60" width="4.04" height="8.20" fill="#000000"/>
<rect x="749.16" y="266.60" width="4.04" height="8.20" fill="#8a8a8a"/>
<rect x="753.20" y="266.60" width="28.28" height="8.20" fill="#000000"/>
<rect x="781.48" y="266.60" width="4.04" height="8.20" fill="#8a8a8a"/>
<rect x="785.52" y="266.60" width="4.04" height="8.20" fill="#000000"/>
<rect x="793.60" y="266.60" width="4.04" height="8.20" fill="#cfcfcf"/>
<rect x="797.64" y="266.60" width="4.04" height="8.20" fill="#000000"/>
<rect x="805.72" y="266.60" width="4.04" height="8.20" fill="#8a8a8a"/>
<rect x="809.76" y="266.60" width="8.08" height="8.20" fill="#000000"/>
<rect x="817.84" y="266.60" width="4.04" height="8.20" fill="#cfcfcf"/>
<rect x="821.88" y="266.60" width="4.04" height="8.20" fill="#000000"/>
<rect x="825.92" y="266.60" width="4.04" height="8.20" fill="#cfcfcf"/>
<rect x="834.00" y="266.60" width="8.08" height="8.20" fill="#8a8a8a"/>
<rect x="842.08" y="266.60" width="12.12" height="8.20" fill="#000000"/>
<rect x="854.20" y="266.60" width="4.04" height="8.20" fill="#8a8a8a"/>
<rect x="858.24" y="266.60" width="8.08" height="8.20" fill="#000000"/>
<rect x="870.36" y="266.60" width="8.08" height="8.20" fill="#000000"/>
<rect x="878.44" y="266.60" width="4.04" height="8.20" fill="#cfcfcf"/>
<rect x="882.48" y="266.60" width="4.04" height="8.20" fill="#8a8a8a"/>
<rect x="886.52" y="266.60" width="4.04" height="8.20" fill="#000000"/>
<rect x="890.56" y="266.60" width="4.04" height="8.20" fill="#8a8a8a"/>
<rect x="894.60" y="266.60" width="32.32" height="8.20" fill="#000000"/>
<rect x="926.92" y="266.60" width="4.04" height="8.20" fill="#8a8a8a"/>
<rect x="930.96" y="266.60" width="4.04" height="8.20" fill="#000000"/>
<rect x="935.00" y="266.60" width="4.04" height="8.20" fill="#8a8a8a"/>
<rect x="939.04" y="266.60" width="8.08" height="8.20" fill="#cfcfcf"/>
<rect x="947.12" y="266.60" width="4.04" height="8.20" fill="#8a8a8a"/>
<rect x="951.16" y="266.60" width="4.04" height="8.20" fill="#cfcfcf"/>
<rect x="955.20" y="266.60" width="8.08" height="8.20" fill="#000000"/>
<rect x="963.28" y="266.60" width="4.04" height="8.20" fill="#8a8a8a"/>
<rect x="967.32" y="266.60" width="16.16" height="8.20" fill="#000000"/>
<rect x="983.48" y="266.60" width="4.04" height="8.20" fill="#8a8a8a"/>
<rect x="987.52" y="266.60" width="12.12" height="8.20" fill="#000000"/>
<rect x="999.64" y="266.60" width="4.04" height="8.20" fill="#8a8a8a"/>
<rect x="1003.68" y="266.60" width="4.04" height="8.20" fill="#cfcfcf"/>
<rect x="1007.72" y="266.60" width="4.04" height="8.20" fill="#000000"/>
<rect x="1011.76" y="266.60" width="4.04" height="8.20" fill="#cfcfcf"/>
<rect x="1015.80" y="266.60" width="20.20" height="8.20" fill="#000000"/>
<text transform="scale(0.860,1)" x="675.3 680.0 684.7 689.3 694.0 698.6 703.3 707.9 712.6 717.2" y="240.00" fill="#888" stroke="#888" stroke-width="0.25">CbCYP98A14</text>
<text transform="scale(0.860,1)" x="675.3 680.0 684.7 689.3 694.0 698.6 703.3 707.9 712.6 717.2" y="248.15" fill="#888" stroke="#888" stroke-width="0.25">SmCYP98A75</text>
<text transform="scale(0.860,1)" x="675.3 680.0 684.7 689.3 694.0 698.6 703.3 707.9 712.6 717.2" y="256.30" fill="#888" stroke="#888" stroke-width="0.25">SmCYP98A76</text>
<text transform="scale(0.860,1)" x="675.3 680.0 684.7 689.3 694.0 698.6 703.3 707.9 712.6 717.2" y="264.45" fill="#888" stroke="#888" stroke-width="0.25">SmCYP98A77</text>
<text transform="scale(0.860,1)" x="675.3 680.0 684.7 689.3 694.0 698.6 703.3 707.9 712.6 717.2" y="272.60" fill="#888" stroke="#888" stroke-width="0.25">SmCYP98A14</text>
<text transform="scale(0.860,1)" x="675.3 680.0 684.7 689.3 694.0 698.6 703.3 707.9 712.6" y="280.75" fill="#888" stroke="#888" stroke-width="0.25">Consensus</text>
<text transform="scale(0.860,1)" x="737.2 741.9 751.3 756.0 760.7 765.4 770.1 784.2 798.3 803.0 807.7 817.1 821.8 826.5 840.6 845.3 850.0 854.7 868.8 878.2 882.9 887.6 892.3 897.0 901.7 906.3 915.7 929.8 943.9 948.6 958.0 981.5 986.2 990.9 1000.3 1005.0 1014.4 1019.1 1033.2 1042.6 1047.3 1052.0 1056.7 1061.4 1066.1 1070.8 1075.5 1084.9 1113.0 1117.7 1127.1 1131.8 1136.5 1141.2 1150.6 1155.3 1160.0 1174.1 1183.5 1188.2 1192.9 1197.6 1202.3" y="240.90" fill="#f0f0f0" stroke="#f0f0f0" stroke-width="0.15">MIAGMDTIEWAAELNPRVKQEELDRVGRTEDPYLCVKERHPPTPLMLHVKGGYDPKGVVNVWA</text>
<text transform="scale(0.860,1)" x="779.5 788.9 793.6 812.4 835.9 859.4 873.5 911.0 939.2 972.1 976.8 995.6 1028.5 1037.9 1080.2 1103.7 1122.4 1145.9 1164.7" y="240.90" fill="#1a1a1a" stroke="#1a1a1a" stroke-width="0.25">IVIALCHSISCMPHAHHLH</text>
<text transform="scale(0.860,1)" x="831.2 864.1 925.1 953.3 962.7 1023.8 1094.3 1099.0 1108.3 1178.8" y="240.90" fill="#555555" stroke="#555555" stroke-width="0.25">QADQNNTDSR</text>
<text transform="scale(0.860,1)" x="746.6 774.8 920.4 934.5 967.4 1009.7 1089.6 1169.4" y="240.90" fill="#888888" stroke="#888888" stroke-width="0.25">STQKIQLI</text>
<text transform="scale(0.860,1)" x="737.2 741.9 751.3 756.0 760.7 765.4 770.1 784.2 798.3 803.0 807.7 817.1 821.8 826.5 840.6 845.3 850.0 854.7 868.8 878.2 882.9 887.6 892.3 897.0 901.7 906.3 915.7 929.8 943.9 948.6 958.0 981.5 986.2 990.9 1000.3 1005.0 1014.4 1019.1 1033.2 1042.6 1047.3 1052.0 1056.7 1061.4 1066.1 1070.8 1075.5 1084.9 1113.0 1117.7 1127.1 1131.8 1136.5 1141.2 1150.6 1155.3 1160.0 1174.1 1183.5 1188.2 1192.9 1197.6 1202.3" y="249.05" fill="#f0f0f0" stroke="#f0f0f0" stroke-width="0.15">MIAGMDTIEWAAELNPRVKQEELDRVGRTEDPYLCVKERHPPTPLMLHVKGGYDPKGVVNVWA</text>
<text transform="scale(0.860,1)" x="779.5 788.9 793.6 812.4 835.9 873.5 911.0 939.2 972.1 976.8 1028.5 1037.9 1080.2 1089.6 1103.7 1122.4 1145.9 1164.7" y="249.05" fill="#1a1a1a" stroke="#1a1a1a" stroke-width="0.25">LEYSGQCCFQPRMEMGTR</text>
<text transform="scale(0.860,1)" x="831.2 864.1 925.1 962.7 1023.8 1099.0 1108.3 1169.4 1178.8" y="249.05" fill="#555555" stroke="#555555" stroke-width="0.25">YSFAGGHCL</text>
<text transform="scale(0.860,1)" x="746.6 774.8 859.4 920.4 934.5 953.3 967.4 995.6 1009.7 1094.3" y="249.05" fill="#888888" stroke="#888888" stroke-width="0.25">IKIYPHYCCD</text>
<text transform="scale(0.860,1)" x="737.2 741.9 751.3 756.0 760.7 765.4 770.1 784.2 798.3 803.0 807.7 817.1 821.8 826.5 840.6 845.3 850.0 854.7 868.8 878.2 882.9 887.6 892.3 897.0 901.7 906.3 915.7 929.8 943.9 948.6 958.0 981.5 986.2 990.9 1000.3 1005.0 1014.4 1019.1 1033.2 1042.6 1047.3 1052.0 1056.7 1061.4 1066.1 1070.8 1075.5 1084.9 1113.0 1117.7 1127.1 1131.8 1136.5 1141.2 1150.6 1155.3 1160.0 1174.1 1183.5 1188.2 1192.9 1197.6 1202.3" y="257.20" fill="#f0f0f0" stroke="#f0f0f0" stroke-width="0.15">MIAGMDTIEWAAELNPRVKQEELDRVGRTEDPYLCVKERHPPTPLMLHVKGGYDPKGVVNVWA</text>
<text transform="scale(0.860,1)" x="779.5 788.9 793.6 812.4 835.9 859.4 911.0 939.2 972.1 976.8 995.6 1028.5 1037.9 1080.2 1089.6 1103.7 1122.4 1145.9 1164.7" y="257.20" fill="#1a1a1a" stroke="#1a1a1a" stroke-width="0.25">MRGEDKQPDCSVRHMAIPC</text>
<text transform="scale(0.860,1)" x="831.2 925.1 953.3 962.7 1023.8 1094.3 1099.0 1108.3 1178.8" y="257.20" fill="#555555" stroke="#555555" stroke-width="0.25">AVNLNNSQC</text>
<text transform="scale(0.860,1)" x="746.6 774.8 864.1 873.5 920.4 934.5 967.4 1009.7 1169.4" y="257.20" fill="#888888" stroke="#888888" stroke-width="0.25">PNDNEHQHP</text>
<text transform="scale(0.860,1)" x="737.2 741.9 751.3 756.0 760.7 765.4 770.1 784.2 798.3 803.0 807.7 817.1 821.8 826.5 840.6 845.3 850.0 854.7 868.8 878.2 882.9 887.6 892.3 897.0 901.7 906.3 915.7 929.8 943.9 948.6 958.0 981.5 986.2 990.9 1000.3 1005.0 1014.4 1019.1 1033.2 1042.6 1047.3 1052.0 1056.7 1061.4 1066.1 1070.8 1075.5 1084.9 1113.0 1117.7 1127.1 1131.8 1136.5 1141.2 1150.6 1155.3 1160.0 1174.1 1183.5 1188.2 1192.9 1197.6 1202.3" y="265.35" fill="#f0f0f0" stroke="#f0f0f0" stroke-width="0.15">MIAGMDTIEWAAELNPRVKQEELDRVGRTEDPYLCVKERHPPTPLMLHVKGGYDPKGVVNVWA</text>
<text transform="scale(0.860,1)" x="812.4 835.9 859.4 873.5 911.0 939.2 995.6 1028.5 1037.9 1089.6 1103.7 1122.4 1145.9" y="265.35" fill="#1a1a1a" stroke="#1a1a1a" stroke-width="0.25">DMNMYKIRPQSAL</text>
<text transform="scale(0.860,1)" x="831.2 925.1 962.7 1099.0 1108.3" y="265.35" fill="#555555" stroke="#555555" stroke-width="0.25">YKAFG</text>
<text transform="scale(0.860,1)" x="746.6 774.8 779.5 788.9 793.6 864.1 920.4 934.5 953.3 967.4 972.1 976.8 1009.7 1023.8 1080.2 1094.3 1164.7 1169.4 1178.8" y="265.35" fill="#888888" stroke="#888888" stroke-width="0.25">RDCKHKCMLYDAESKSFYI</text>
<text transform="scale(0.860,1)" x="737.2 741.9 751.3 756.0 760.7 765.4 770.1 784.2 798.3 803.0 807.7 817.1 821.8 826.5 840.6 845.3 850.0 854.7 868.8 878.2 882.9 887.6 892.3 897.0 901.7 906.3 915.7 929.8 943.9 948.6 958.0 981.5 986.2 990.9 1000.3 1005.0 1014.4 1019.1 1033.2 1042.6 1047.3 1052.0 1056.7 1061.4 1066.1 1070.8 1075.5 1084.9 1113.0 1117.7 1127.1 1131.8 1136.5 1141.2 1150.6 1155.3 1160.0 1174.1 1183.5 1188.2 1192.9 1197.6 1202.3" y="273.50" fill="#f0f0f0" stroke="#f0f0f0" stroke-width="0.15">MIAGMDTIEWAAELNPRVKQEELDRVGRTEDPYLCVKERHPPTPLMLHVKGGYDPKGVVNVWA</text>
<text transform="scale(0.860,1)" x="779.5 788.9 793.6 812.4 835.9 859.4 873.5 911.0 939.2 972.1 976.8 995.6 1028.5 1037.9 1080.2 1089.6 1103.7 1122.4 1145.9 1164.7" y="273.50" fill="#1a1a1a" stroke="#1a1a1a" stroke-width="0.25">RNYDHPIQVQEDDHEQGFQR</text>
<text transform="scale(0.860,1)" x="831.2 864.1 925.1 953.3 962.7 1023.8 1094.3 1099.0 1108.3 1169.4 1178.8" y="273.50" fill="#555555" stroke="#555555" stroke-width="0.25">TGCVMYSRIYI</text>
<text transform="scale(0.860,1)" x="746.6 774.8 920.4 934.5 967.4 1009.7" y="273.50" fill="#888888" stroke="#888888" stroke-width="0.25">MMDSGK</text>
<text transform="scale(0.860,1)" x="737.2 741.9 751.3 756.0 760.7 765.4 770.1 784.2 798.3 803.0 807.7 817.1 821.8 826.5 840.6 845.3 850.0 854.7 868.8 878.2 882.9 887.6 892.3 897.0 901.7 906.3 915.7 929.8 943.9 948.6 958.0 981.5 986.2 990.9 1000.3 1005.0 1014.4 1019.1 1033.2 1042.6 1047.3 1052.0 1056.7 1061.4 1066.1 1070.8 1075.5 1084.9 1113.0 1117.7 1127.1 1131.8 1136.5 1141.2 1150.6 1155.3 1160.0 1174.1 1183.5 1188.2 1192.9 1197.6 1202.3" y="280.35" fill="#555" stroke="#555" stroke-width="0.20">miagmdtiewaaelnprvkqeeldrvgrtedpylcvkerhpptplmlhvkggydpkgvvnvwa</text>
<text transform="scale(0.860,1)" x="1225.0 1229.7 1234.3" y="240.00" fill="#888" stroke="#888" stroke-width="0.20">393</text>
<text transform="scale(0.860,1)" x="1225.0 1229.7 1234.3" y="248.15" fill="#888" stroke="#888" stroke-width="0.20">396</text>
<text transform="scale(0.860,1)" x="1225.0 1229.7 1234.3" y="256.30" fill="#888" stroke="#888" stroke-width="0.20">399</text>
<text transform="scale(0.860,1)" x="1225.0 1229.7 1234.3" y="264.45" fill="#888" stroke="#888" stroke-width="0.20">395</text>
<text transform="scale(0.860,1)" x="1225.0 1229.7 1234.3" y="272.60" fill="#888" stroke="#888" stroke-width="0.20">393</text>
<rect x="632.00" y="290.20" width="4.04" height="8.20" fill="#cfcfcf"/>
<rect x="636.04" y="290.20" width="4.04" height="8.20" fill="#8a8a8a"/>
<rect x="640.08" y="290.20" width="4.04" height="8.20" fill="#000000"/>
<rect x="644.12" y="290.20" width="4.04" height="8.20" fill="#8a8a8a"/>
<rect x="648.16" y="290.20" width="4.04" height="8.20" fill="#000000"/>
<rect x="660.28" y="290.20" width="8.08" height="8.20" fill="#000000"/>
<rect x="668.36" y="290.20" width="4.04" height="8.20" fill="#cfcfcf"/>
<rect x="672.40" y="290.20" width="4.04" height="8.20" fill="#000000"/>
<rect x="676.44" y="290.20" width="12.12" height="8.20" fill="#8a8a8a"/>
<rect x="688.56" y="290.20" width="20.20" height="8.20" fill="#000000"/>
<rect x="708.76" y="290.20" width="4.04" height="8.20" fill="#cfcfcf"/>
<rect x="712.80" y="290.20" width="4.04" height="8.20" fill="#000000"/>
<rect x="716.84" y="290.20" width="4.04" height="8.20" fill="#8a8a8a"/>
<rect x="720.88" y="290.20" width="4.04" height="8.20" fill="#000000"/>
<rect x="724.92" y="290.20" width="4.04" height="8.20" fill="#8a8a8a"/>
<rect x="728.96" y="290.20" width="4.04" height="8.20" fill="#000000"/>
<rect x="733.00" y="290.20" width="4.04" height="8.20" fill="#cfcfcf"/>
<rect x="737.04" y="290.20" width="8.08" height="8.20" fill="#000000"/>
<rect x="745.12" y="290.20" width="4.04" height="8.20" fill="#8a8a8a"/>
<rect x="749.16" y="290.20" width="4.04" height="8.20" fill="#000000"/>
<rect x="753.20" y="290.20" width="4.04" height="8.20" fill="#8a8a8a"/>
<rect x="757.24" y="290.20" width="4.04" height="8.20" fill="#000000"/>
<rect x="761.28" y="290.20" width="4.04" height="8.20" fill="#cfcfcf"/>
<rect x="765.32" y="290.20" width="16.16" height="8.20" fill="#000000"/>
<rect x="781.48" y="290.20" width="4.04" height="8.20" fill="#8a8a8a"/>
<rect x="785.52" y="290.20" width="12.12" height="8.20" fill="#000000"/>
<rect x="797.64" y="290.20" width="4.04" height="8.20" fill="#cfcfcf"/>
<rect x="801.68" y="290.20" width="24.24" height="8.20" fill="#000000"/>
<rect x="825.92" y="290.20" width="8.08" height="8.20" fill="#8a8a8a"/>
<rect x="834.00" y="290.20" width="4.04" height="8.20" fill="#cfcfcf"/>
<rect x="838.04" y="290.20" width="4.04" height="8.20" fill="#8a8a8a"/>
<rect x="846.12" y="290.20" width="8.08" height="8.20" fill="#000000"/>
<rect x="854.20" y="290.20" width="4.04" height="8.20" fill="#8a8a8a"/>
<rect x="858.24" y="290.20" width="4.04" height="8.20" fill="#cfcfcf"/>
<rect x="862.28" y="290.20" width="4.04" height="8.20" fill="#000000"/>
<rect x="866.32" y="290.20" width="8.08" height="8.20" fill="#8a8a8a"/>
<rect x="874.40" y="290.20" width="12.12" height="8.20" fill="#000000"/>
<rect x="886.52" y="290.20" width="4.04" height="8.20" fill="#8a8a8a"/>
<rect x="894.60" y="290.20" width="4.04" height="8.20" fill="#000000"/>
<rect x="902.68" y="290.20" width="8.08" height="8.20" fill="#000000"/>
<rect x="914.80" y="290.20" width="4.04" height="8.20" fill="#8a8a8a"/>
<rect x="922.88" y="290.20" width="4.04" height="8.20" fill="#cfcfcf"/>
<rect x="930.96" y="290.20" width="4.04" height="8.20" fill="#8a8a8a"/>
<rect x="939.04" y="290.20" width="4.04" height="8.20" fill="#8a8a8a"/>
<rect x="943.08" y="290.20" width="8.08" height="8.20" fill="#cfcfcf"/>
<rect x="955.20" y="290.20" width="4.04" height="8.20" fill="#000000"/>
<rect x="963.28" y="290.20" width="8.08" height="8.20" fill="#000000"/>
<rect x="975.40" y="290.20" width="8.08" height="8.20" fill="#000000"/>
<rect x="983.48" y="290.20" width="4.04" height="8.20" fill="#8a8a8a"/>
<rect x="987.52" y="290.20" width="4.04" height="8.20" fill="#000000"/>
<rect x="995.60" y="290.20" width="4.04" height="8.20" fill="#cfcfcf"/>
<rect x="999.64" y="290.20" width="4.04" height="8.20" fill="#000000"/>
<rect x="1007.72" y="290.20" width="8.08" height="8.20" fill="#000000"/>
<rect x="1019.84" y="290.20" width="4.04" height="8.20" fill="#8a8a8a"/>
<rect x="1023.88" y="290.20" width="12.12" height="8.20" fill="#000000"/>
<rect x="632.00" y="298.35" width="4.04" height="8.20" fill="#cfcfcf"/>
<rect x="636.04" y="298.35" width="4.04" height="8.20" fill="#8a8a8a"/>
<rect x="640.08" y="298.35" width="4.04" height="8.20" fill="#000000"/>
<rect x="644.12" y="298.35" width="4.04" height="8.20" fill="#8a8a8a"/>
<rect x="648.16" y="298.35" width="4.04" height="8.20" fill="#000000"/>
<rect x="652.20" y="298.35" width="4.04" height="8.20" fill="#cfcfcf"/>
<rect x="656.24" y="298.35" width="4.04" height="8.20" fill="#8a8a8a"/>
<rect x="660.28" y="298.35" width="8.08" height="8.20" fill="#000000"/>
<rect x="668.36" y="298.35" width="4.04" height="8.20" fill="#cfcfcf"/>
<rect x="672.40" y="298.35" width="4.04" height="8.20" fill="#000000"/>
<rect x="676.44" y="298.35" width="12.12" height="8.20" fill="#8a8a8a"/>
<rect x="688.56" y="298.35" width="20.20" height="8.20" fill="#000000"/>
<rect x="708.76" y="298.35" width="4.04" height="8.20" fill="#cfcfcf"/>
<rect x="712.80" y="298.35" width="4.04" height="8.20" fill="#000000"/>
<rect x="716.84" y="298.35" width="4.04" height="8.20" fill="#8a8a8a"/>
<rect x="720.88" y="298.35" width="4.04" height="8.20" fill="#000000"/>
<rect x="724.92" y="298.35" width="4.04" height="8.20" fill="#8a8a8a"/>
<rect x="728.96" y="298.35" width="4.04" height="8.20" fill="#000000"/>
<rect x="733.00" y="298.35" width="4.04" height="8.20" fill="#cfcfcf"/>
<rect x="737.04" y="298.35" width="8.08" height="8.20" fill="#000000"/>
<rect x="745.12" y="298.35" width="4.04" height="8.20" fill="#8a8a8a"/>
<rect x="749.16" y="298.35" width="4.04" height="8.20" fill="#000000"/>
<rect x="753.20" y="298.35" width="4.04" height="8.20" fill="#8a8a8a"/>
<rect x="757.24" y="298.35" width="4.04" height="8.20" fill="#000000"/>
<rect x="761.28" y="298.35" width="4.04" height="8.20" fill="#cfcfcf"/>
<rect x="765.32" y="298.35" width="16.16" height="8.20" fill="#000000"/>
<rect x="781.48" y="298.35" width="4.04" height="8.20" fill="#8a8a8a"/>
<rect x="785.52" y="298.35" width="12.12" height="8.20" fill="#000000"/>
<rect x="797.64" y="298.35" width="4.04" height="8.20" fill="#cfcfcf"/>
<rect x="801.68" y="298.35" width="24.24" height="8.20" fill="#000000"/>
<rect x="825.92" y="298.35" width="8.08" height="8.20" fill="#8a8a8a"/>
<rect x="834.00" y="298.35" width="4.04" height="8.20" fill="#cfcfcf"/>
<rect x="838.04" y="298.35" width="4.04" height="8.20" fill="#8a8a8a"/>
<rect x="846.12" y="298.35" width="8.08" height="8.20" fill="#000000"/>
<rect x="854.20" y="298.35" width="4.04" height="8.20" fill="#8a8a8a"/>
<rect x="858.24" y="298.35" width="4.04" height="8.20" fill="#cfcfcf"/>
<rect x="862.28" y="298.35" width="4.04" height="8.20" fill="#000000"/>
<rect x="866.32" y="298.35" width="8.08" height="8.20" fill="#8a8a8a"/>
<rect x="874.40" y="298.35" width="12.12" height="8.20" fill="#000000"/>
<rect x="886.52" y="298.35" width="4.04" height="8.20" fill="#8a8a8a"/>
<rect x="894.60" y="298.35" width="4.04" height="8.20" fill="#000000"/>
<rect x="898.64" y="298.35" width="4.04" height="8.20" fill="#cfcfcf"/>
<rect x="902.68" y="298.35" width="8.08" height="8.20" fill="#000000"/>
<rect x="914.80" y="298.35" width="4.04" height="8.20" fill="#8a8a8a"/>
<rect x="922.88" y="298.35" width="4.04" height="8.20" fill="#cfcfcf"/>
<rect x="930.96" y="298.35" width="4.04" height="8.20" fill="#8a8a8a"/>
<rect x="939.04" y="298.35" width="4.04" height="8.20" fill="#8a8a8a"/>
<rect x="943.08" y="298.35" width="8.08" height="8.20" fill="#cfcfcf"/>
<rect x="955.20" y="298.35" width="4.04" height="8.20" fill="#000000"/>
<rect x="959.24" y="298.35" width="4.04" height="8.20" fill="#cfcfcf"/>
<rect x="963.28" y="298.35" width="8.08" height="8.20" fill="#000000"/>
<rect x="971.36" y="298.35" width="4.04" height="8.20" fill="#cfcfcf"/>
<rect x="975.40" y="298.35" width="8.08" height="8.20" fill="#000000"/>
<rect x="983.48" y="298.35" width="4.04" height="8.20" fill="#8a8a8a"/>
<rect x="987.52" y="298.35" width="4.04" height="8.20" fill="#000000"/>
<rect x="995.60" y="298.35" width="4.04" height="8.20" fill="#cfcfcf"/>
<rect x="999.64" y="298.35" width="4.04" height="8.20" fill="#000000"/>
<rect x="1003.68" y="298.35" width="4.04" height="8.20" fill="#cfcfcf"/>
<rect x="1007.72" y="298.35" width="8.08" height="8.20" fill="#000000"/>
<rect x="1019.84" y="298.35" width="4.04" height="8.20" fill="#8a8a8a"/>
<rect x="1023.88" y="298.35" width="12.12" height="8.20" fill="#000000"/>
<rect x="632.00" y="306.50" width="4.04" height="8.20" fill="#cfcfcf"/>
<rect x="636.04" y="306.50" width="4.04" height="8.20" fill="#8a8a8a"/>
<rect x="640.08" y="306.50" width="4.04" height="8.20" fill="#000000"/>
<rect x="644.12" y="306.50" width="4.04" height="8.20" fill="#8a8a8a"/>
<rect x="648.16" y="306.50" width="4.04" height="8.20" fill="#000000"/>
<rect x="652.20" y="306.50" width="4.04" height="8.20" fill="#cfcfcf"/>
<rect x="656.24" y="306.50" width="4.04" height="8.20" fill="#8a8a8a"/>
<rect x="660.28" y="306.50" width="8.08" height="8.20" fill="#000000"/>
<rect x="668.36" y="306.50" width="4.04" height="8.20" fill="#cfcfcf"/>
<rect x="672.40" y="306.50" width="4.04" height="8.20" fill="#000000"/>
<rect x="680.48" y="306.50" width="8.08" height="8.20" fill="#8a8a8a"/>
<rect x="688.56" y="306.50" width="20.20" height="8.20" fill="#000000"/>
<rect x="708.76" y="306.50" width="4.04" height="8.20" fill="#cfcfcf"/>
<rect x="712.80" y="306.50" width="4.04" height="8.20" fill="#000000"/>
<rect x="716.84" y="306.50" width="4.04" height="8.20" fill="#8a8a8a"/>
<rect x="720.88" y="306.50" width="4.04" height="8.20" fill="#000000"/>
<rect x="724.92" y="306.50" width="4.04" height="8.20" fill="#8a8a8a"/>
<rect x="728.96" y="306.50" width="4.04" height="8.20" fill="#000000"/>
<rect x="733.00" y="306.50" width="4.04" height="8.20" fill="#cfcfcf"/>
<rect x="737.04" y="306.50" width="8.08" height="8.20" fill="#000000"/>
<rect x="745.12" y="306.50" width="4.04" height="8.20" fill="#8a8a8a"/>
<rect x="749.16" y="306.50" width="4.04" height="8.20" fill="#000000"/>
<rect x="753.20" y="306.50" width="4.04" height="8.20" fill="#8a8a8a"/>
<rect x="757.24" y="306.50" width="4.04" height="8.20" fill="#000000"/>
<rect x="761.28" y="306.50" width="4.04" height="8.20" fill="#cfcfcf"/>
<rect x="765.32" y="306.50" width="16.16" height="8.20" fill="#000000"/>
<rect x="781.48" y="306.50" width="4.04" height="8.20" fill="#8a8a8a"/>
<rect x="785.52" y="306.50" width="12.12" height="8.20" fill="#000000"/>
<rect x="797.64" y="306.50" width="4.04" height="8.20" fill="#cfcfcf"/>
<rect x="801.68" y="306.50" width="24.24" height="8.20" fill="#000000"/>
<rect x="825.92" y="306.50" width="8.08" height="8.20" fill="#8a8a8a"/>
<rect x="834.00" y="306.50" width="4.04" height="8.20" fill="#cfcfcf"/>
<rect x="838.04" y="306.50" width="4.04" height="8.20" fill="#8a8a8a"/>
<rect x="846.12" y="306.50" width="8.08" height="8.20" fill="#000000"/>
<rect x="854.20" y="306.50" width="4.04" height="8.20" fill="#8a8a8a"/>
<rect x="858.24" y="306.50" width="4.04" height="8.20" fill="#cfcfcf"/>
<rect x="862.28" y="306.50" width="4.04" height="8.20" fill="#000000"/>
<rect x="866.32" y="306.50" width="8.08" height="8.20" fill="#8a8a8a"/>
<rect x="874.40" y="306.50" width="12.12" height="8.20" fill="#000000"/>
<rect x="886.52" y="306.50" width="4.04" height="8.20" fill="#8a8a8a"/>
<rect x="894.60" y="306.50" width="4.04" height="8.20" fill="#000000"/>
<rect x="902.68" y="306.50" width="8.08" height="8.20" fill="#000000"/>
<rect x="914.80" y="306.50" width="4.04" height="8.20" fill="#8a8a8a"/>
<rect x="922.88" y="306.50" width="4.04" height="8.20" fill="#cfcfcf"/>
<rect x="930.96" y="306.50" width="4.04" height="8.20" fill="#8a8a8a"/>
<rect x="939.04" y="306.50" width="4.04" height="8.20" fill="#8a8a8a"/>
<rect x="943.08" y="306.50" width="8.08" height="8.20" fill="#cfcfcf"/>
<rect x="955.20" y="306.50" width="4.04" height="8.20" fill="#000000"/>
<rect x="963.28" y="306.50" width="8.08" height="8.20" fill="#000000"/>
<rect x="975.40" y="306.50" width="8.08" height="8.20" fill="#000000"/>
<rect x="983.48" y="306.50" width="4.04" height="8.20" fill="#8a8a8a"/>
<rect x="987.52" y="306.50" width="4.04" height="8.20" fill="#000000"/>
<rect x="995.60" y="306.50" width="4.04" height="8.20" fill="#cfcfcf"/>
<rect x="999.64" y="306.50" width="4.04" height="8.20" fill="#000000"/>
<rect x="1007.72" y="306.50" width="8.08" height="8.20" fill="#000000"/>
<rect x="1019.84" y="306.50" width="4.04" height="8.20" fill="#8a8a8a"/>
<rect x="1023.88" y="306.50" width="12.12" height="8.20" fill="#000000"/>
<rect x="632.00" y="314.65" width="4.04" height="8.20" fill="#cfcfcf"/>
<rect x="636.04" y="314.65" width="4.04" height="8.20" fill="#8a8a8a"/>
<rect x="640.08" y="314.65" width="4.04" height="8.20" fill="#000000"/>
<rect x="648.16" y="314.65" width="4.04" height="8.20" fill="#000000"/>
<rect x="652.20" y="314.65" width="4.04" height="8.20" fill="#cfcfcf"/>
<rect x="656.24" y="314.65" width="4.04" height="8.20" fill="#8a8a8a"/>
<rect x="660.28" y="314.65" width="8.08" height="8.20" fill="#000000"/>
<rect x="668.36" y="314.65" width="4.04" height="8.20" fill="#cfcfcf"/>
<rect x="672.40" y="314.65" width="4.04" height="8.20" fill="#000000"/>
<rect x="676.44" y="314.65" width="4.04" height="8.20" fill="#8a8a8a"/>
<rect x="688.56" y="314.65" width="20.20" height="8.20" fill="#000000"/>
<rect x="708.76" y="314.65" width="4.04" height="8.20" fill="#cfcfcf"/>
<rect x="712.80" y="314.65" width="4.04" height="8.20" fill="#000000"/>
<rect x="716.84" y="314.65" width="4.04" height="8.20" fill="#8a8a8a"/>
<rect x="720.88" y="314.65" width="4.04" height="8.20" fill="#000000"/>
<rect x="724.92" y="314.65" width="4.04" height="8.20" fill="#8a8a8a"/>
<rect x="728.96" y="314.65" width="4.04" height="8.20" fill="#000000"/>
<rect x="733.00" y="314.65" width="4.04" height="8.20" fill="#cfcfcf"/>
<rect x="737.04" y="314.65" width="8.08" height="8.20" fill="#000000"/>
<rect x="749.16" y="314.65" width="4.04" height="8.20" fill="#000000"/>
<rect x="753.20" y="314.65" width="4.04" height="8.20" fill="#8a8a8a"/>
<rect x="757.24" y="314.65" width="4.04" height="8.20" fill="#000000"/>
<rect x="761.28" y="314.65" width="4.04" height="8.20" fill="#cfcfcf"/>
<rect x="765.32" y="314.65" width="16.16" height="8.20" fill="#000000"/>
<rect x="785.52" y="314.65" width="12.12" height="8.20" fill="#000000"/>
<rect x="797.64" y="314.65" width="4.04" height="8.20" fill="#cfcfcf"/>
<rect x="801.68" y="314.65" width="24.24" height="8.20" fill="#000000"/>
<rect x="825.92" y="314.65" width="8.08" height="8.20" fill="#8a8a8a"/>
<rect x="834.00" y="314.65" width="4.04" height="8.20" fill="#cfcfcf"/>
<rect x="838.04" y="314.65" width="4.04" height="8.20" fill="#8a8a8a"/>
<rect x="846.12" y="314.65" width="8.08" height="8.20" fill="#000000"/>
<rect x="854.20" y="314.65" width="4.04" height="8.20" fill="#8a8a8a"/>
<rect x="858.24" y="314.65" width="4.04" height="8.20" fill="#cfcfcf"/>
<rect x="862.28" y="314.65" width="4.04" height="8.20" fill="#000000"/>
<rect x="866.32" y="314.65" width="8.08" height="8.20" fill="#8a8a8a"/>
<rect x="874.40" y="314.65" width="12.12" height="8.20" fill="#000000"/>
<rect x="894.60" y="314.65" width="4.04" height="8.20" fill="#000000"/>
<rect x="902.68" y="314.65" width="8.08" height="8.20" fill="#000000"/>
<rect x="947.12" y="314.65" width="4.04" height="8.20" fill="#cfcfcf"/>
<rect x="955.20" y="314.65" width="4.04" height="8.20" fill="#000000"/>
<rect x="963.28" y="314.65" width="8.08" height="8.20" fill="#000000"/>
<rect x="971.36" y="314.65" width="4.04" height="8.20" fill="#cfcfcf"/>
<rect x="975.40" y="314.65" width="8.08" height="8.20" fill="#000000"/>
<rect x="983.48" y="314.65" width="4.04" height="8.20" fill="#8a8a8a"/>
<rect x="987.52" y="314.65" width="4.04" height="8.20" fill="#000000"/>
<rect x="995.60" y="314.65" width="4.04" height="8.20" fill="#cfcfcf"/>
<rect x="999.64" y="314.65" width="4.04" height="8.20" fill="#000000"/>
<rect x="1003.68" y="314.65" width="4.04" height="8.20" fill="#cfcfcf"/>
<rect x="1007.72" y="314.65" width="8.08" height="8.20" fill="#000000"/>
<rect x="1019.84" y="314.65" width="4.04" height="8.20" fill="#8a8a8a"/>
<rect x="1023.88" y="314.65" width="12.12" height="8.20" fill="#000000"/>
<rect x="632.00" y="322.80" width="4.04" height="8.20" fill="#cfcfcf"/>
<rect x="636.04" y="322.80" width="4.04" height="8.20" fill="#8a8a8a"/>
<rect x="640.08" y="322.80" width="4.04" height="8.20" fill="#000000"/>
<rect x="644.12" y="322.80" width="4.04" height="8.20" fill="#8a8a8a"/>
<rect x="648.16" y="322.80" width="4.04" height="8.20" fill="#000000"/>
<rect x="652.20" y="322.80" width="4.04" height="8.20" fill="#cfcfcf"/>
<rect x="656.24" y="322.80" width="4.04" height="8.20" fill="#8a8a8a"/>
<rect x="660.28" y="322.80" width="8.08" height="8.20" fill="#000000"/>
<rect x="668.36" y="322.80" width="4.04" height="8.20" fill="#cfcfcf"/>
<rect x="672.40" y="322.80" width="4.04" height="8.20" fill="#000000"/>
<rect x="676.44" y="322.80" width="12.12" height="8.20" fill="#8a8a8a"/>
<rect x="688.56" y="322.80" width="20.20" height="8.20" fill="#000000"/>
<rect x="708.76" y="322.80" width="4.04" height="8.20" fill="#cfcfcf"/>
<rect x="712.80" y="322.80" width="4.04" height="8.20" fill="#000000"/>
<rect x="716.84" y="322.80" width="4.04" height="8.20" fill="#8a8a8a"/>
<rect x="720.88" y="322.80" width="4.04" height="8.20" fill="#000000"/>
<rect x="724.92" y="322.80" width="4.04" height="8.20" fill="#8a8a8a"/>
<rect x="728.96" y="322.80" width="4.04" height="8.20" fill="#000000"/>
<rect x="733.00" y="322.80" width="4.04" height="8.20" fill="#cfcfcf"/>
<rect x="737.04" y="322.80" width="8.08" height="8.20" fill="#000000"/>
<rect x="745.12" y="322.80" width="4.04" height="8.20" fill="#8a8a8a"/>
<rect x="749.16" y="322.80" width="4.04" height="8.20" fill="#000000"/>
<rect x="753.20" y="322.80" width="4.04" height="8.20" fill="#8a8a8a"/>
<rect x="757.24" y="322.80" width="4.04" height="8.20" fill="#000000"/>
<rect x="761.28" y="322.80" width="4.04" height="8.20" fill="#cfcfcf"/>
<rect x="765.32" y="322.80" width="16.16" height="8.20" fill="#000000"/>
<rect x="781.48" y="322.80" width="4.04" height="8.20" fill="#8a8a8a"/>
<rect x="785.52" y="322.80" width="12.12" height="8.20" fill="#000000"/>
<rect x="797.64" y="322.80" width="4.04" height="8.20" fill="#cfcfcf"/>
<rect x="801.68" y="322.80" width="24.24" height="8.20" fill="#000000"/>
<rect x="825.92" y="322.80" width="8.08" height="8.20" fill="#8a8a8a"/>
<rect x="834.00" y="322.80" width="4.04" height="8.20" fill="#cfcfcf"/>
<rect x="838.04" y="322.80" width="4.04" height="8.20" fill="#8a8a8a"/>
<rect x="846.12" y="322.80" width="8.08" height="8.20" fill="#000000"/>
<rect x="854.20" y="322.80" width="4.04" height="8.20" fill="#8a8a8a"/>
<rect x="858.24" y="322.80" width="4.04" height="8.20" fill="#cfcfcf"/>
<rect x="862.28" y="322.80" width="4.04" height="8.20" fill="#000000"/>
<rect x="866.32" y="322.80" width="8.08" height="8.20" fill="#8a8a8a"/>
<rect x="874.40" y="322.80" width="12.12" height="8.20" fill="#000000"/>
<rect x="886.52" y="322.80" width="4.04" height="8.20" fill="#8a8a8a"/>
<rect x="894.60" y="322.80" width="4.04" height="8.20" fill="#000000"/>
<rect x="902.68" y="322.80" width="8.08" height="8.20" fill="#000000"/>
<rect x="914.80" y="322.80" width="4.04" height="8.20" fill="#8a8a8a"/>
<rect x="922.88" y="322.80" width="4.04" height="8.20" fill="#cfcfcf"/>
<rect x="930.96" y="322.80" width="4.04" height="8.20" fill="#8a8a8a"/>
<rect x="939.04" y="322.80" width="4.04" height="8.20" fill="#8a8a8a"/>
<rect x="943.08" y="322.80" width="8.08" height="8.20" fill="#cfcfcf"/>
<rect x="955.20" y="322.80" width="4.04" height="8.20" fill="#000000"/>
<rect x="963.28" y="322.80" width="8.08" height="8.20" fill="#000000"/>
<rect x="975.40" y="322.80" width="8.08" height="8.20" fill="#000000"/>
<rect x="983.48" y="322.80" width="4.04" height="8.20" fill="#8a8a8a"/>
<rect x="987.52" y="322.80" width="4.04" height="8.20" fill="#000000"/>
<rect x="995.60" y="322.80" width="4.04" height="8.20" fill="#cfcfcf"/>
<rect x="999.64" y="322.80" width="4.04" height="8.20" fill="#000000"/>
<rect x="1007.72" y="322.80" width="8.08" height="8.20" fill="#000000"/>
<rect x="1019.84" y="322.80" width="4.04" height="8.20" fill="#8a8a8a"/>
<rect x="1023.88" y="322.80" width="12.12" height="8.20" fill="#000000"/>
<text transform="scale(0.860,1)" x="675.3 680.0 684.7 689.3 694.0 698.6 703.3 707.9 712.6 717.2" y="296.20" fill="#888" stroke="#888" stroke-width="0.25">CbCYP98A14</text>
<text transform="scale(0.860,1)" x="675.3 680.0 684.7 689.3 694.0 698.6 703.3 707.9 712.6 717.2" y="304.35" fill="#888" stroke="#888" stroke-width="0.25">SmCYP98A75</text>
<text transform="scale(0.860,1)" x="675.3 680.0 684.7 689.3 694.0 698.6 703.3 707.9 712.6 717.2" y="312.50" fill="#888" stroke="#888" stroke-width="0.25">SmCYP98A76</text>
<text transform="scale(0.860,1)" x="675.3 680.0 684.7 689.3 694.0 698.6 703.3 707.9 712.6 717.2" y="320.65" fill="#888" stroke="#888" stroke-width="0.25">SmCYP98A77</text>
<text transform="scale(0.860,1)" x="675.3 680.0 684.7 689.3 694.0 698.6 703.3 707.9 712.6 717.2" y="328.80" fill="#888" stroke="#888" stroke-width="0.25">SmCYP98A14</text>
<text transform="scale(0.860,1)" x="675.3 680.0 684.7 689.3 694.0 698.6 703.3 707.9 712.6" y="336.95" fill="#888" stroke="#888" stroke-width="0.25">Consensus</text>
<text transform="scale(0.860,1)" x="746.6 756.0 770.1 774.8 784.2 803.0 807.7 812.4 817.1 821.8 831.2 840.6 850.0 859.4 864.1 873.5 882.9 892.3 897.0 901.7 906.3 915.7 920.4 925.1 934.5 939.2 943.9 948.6 953.3 958.0 986.2 990.9 1005.0 1019.1 1023.8 1028.5 1042.6 1052.0 1056.7 1113.0 1122.4 1127.1 1136.5 1141.2 1150.6 1164.7 1174.1 1178.8 1192.9 1197.6 1202.3" y="297.10" fill="#f0f0f0" stroke="#f0f0f0" stroke-width="0.15">RPWKPPPERFEDDKGDRLPFGGRRCPGMQLTSGLHHWPPEPGVTMPEATPR</text>
<text transform="scale(0.860,1)" x="741.9 751.3 788.9 793.6 798.3 835.9 845.3 868.8 878.2 911.0 962.7 967.4 976.8 995.6 1009.7 1014.4 1033.2 1066.1 1084.9 1094.3 1145.9 1188.2" y="297.10" fill="#1a1a1a" stroke="#1a1a1a" stroke-width="0.25">ELKNKHRGIFWHDKTTIERCYT</text>
<text transform="scale(0.860,1)" x="737.2 779.5 826.5 854.7 887.6 929.8 972.1 1000.3 1075.5 1099.0 1103.7 1160.0" y="297.10" fill="#555555" stroke="#555555" stroke-width="0.25">VWKIILMISLIH</text>
<text transform="scale(0.860,1)" x="760.7 765.4 981.5 1037.9 1047.3 1061.4 1070.8 1080.2 1089.6 1108.3 1117.7 1131.8 1155.3 1169.4 1183.5" y="297.10" fill="#888888" stroke="#888888" stroke-width="0.25">LKPERCAINECHWDN</text>
<text transform="scale(0.860,1)" x="746.6 756.0 770.1 774.8 784.2 803.0 807.7 812.4 817.1 821.8 831.2 840.6 850.0 859.4 864.1 873.5 882.9 892.3 897.0 901.7 906.3 915.7 920.4 925.1 934.5 939.2 943.9 948.6 953.3 958.0 986.2 990.9 1005.0 1019.1 1023.8 1028.5 1042.6 1052.0 1056.7 1113.0 1122.4 1127.1 1136.5 1141.2 1150.6 1164.7 1174.1 1178.8 1192.9 1197.6 1202.3" y="305.25" fill="#f0f0f0" stroke="#f0f0f0" stroke-width="0.15">RPWKPPPERFEDDKGDRLPFGGRRCPGMQLTSGLHHWPPEPGVTMPEATPR</text>
<text transform="scale(0.860,1)" x="741.9 751.3 765.4 788.9 793.6 798.3 835.9 845.3 868.8 878.2 911.0 962.7 967.4 976.8 995.6 1009.7 1014.4 1033.2 1066.1 1084.9 1094.3 1145.9 1188.2" y="305.25" fill="#1a1a1a" stroke="#1a1a1a" stroke-width="0.25">RYAYYNCNFCKYHMNYLDVEVKC</text>
<text transform="scale(0.860,1)" x="737.2 760.7 779.5 826.5 854.7 887.6 929.8 972.1 1000.3 1047.3 1075.5 1099.0 1103.7 1117.7 1131.8 1160.0 1169.4" y="305.25" fill="#555555" stroke="#555555" stroke-width="0.25">GKEHMHCAGCDFVGPLL</text>
<text transform="scale(0.860,1)" x="981.5 1037.9 1061.4 1070.8 1080.2 1089.6 1108.3 1155.3 1183.5" y="305.25" fill="#888888" stroke="#888888" stroke-width="0.25">QHSSQPDQQ</text>
<text transform="scale(0.860,1)" x="746.6 756.0 770.1 774.8 784.2 803.0 807.7 812.4 817.1 821.8 831.2 840.6 850.0 859.4 864.1 873.5 882.9 892.3 897.0 901.7 906.3 915.7 920.4 925.1 934.5 939.2 943.9 948.6 953.3 958.0 986.2 990.9 1005.0 1019.1 1023.8 1028.5 1042.6 1052.0 1056.7 1113.0 1122.4 1127.1 1136.5 1141.2 1150.6 1164.7 1174.1 1178.8 1192.9 1197.6 1202.3" y="313.40" fill="#f0f0f0" stroke="#f0f0f0" stroke-width="0.15">RPWKPPPERFEDDKGDRLPFGGRRCPGMQLTSGLHHWPPEPGVTMPEATPR</text>
<text transform="scale(0.860,1)" x="741.9 751.3 765.4 793.6 798.3 835.9 845.3 868.8 878.2 911.0 962.7 967.4 976.8 995.6 1009.7 1014.4 1033.2 1066.1 1084.9 1094.3 1145.9 1188.2" y="313.40" fill="#1a1a1a" stroke="#1a1a1a" stroke-width="0.25">WNQHPHAGQDWNGAVFPNNGSS</text>
<text transform="scale(0.860,1)" x="737.2 760.7 779.5 826.5 854.7 887.6 929.8 972.1 1000.3 1075.5 1099.0 1103.7 1160.0" y="313.40" fill="#555555" stroke="#555555" stroke-width="0.25">LQAPQEPRCGTGL</text>
<text transform="scale(0.860,1)" x="788.9 981.5 1037.9 1047.3 1061.4 1070.8 1080.2 1089.6 1108.3 1117.7 1131.8 1155.3 1169.4 1183.5" y="313.40" fill="#888888" stroke="#888888" stroke-width="0.25">NFDWYTFLDEPHFC</text>
<text transform="scale(0.860,1)" x="746.6 756.0 770.1 774.8 784.2 803.0 807.7 812.4 817.1 821.8 831.2 840.6 850.0 859.4 864.1 873.5 882.9 892.3 897.0 901.7 906.3 915.7 920.4 925.1 934.5 939.2 943.9 948.6 953.3 958.0 986.2 990.9 1005.0 1019.1 1023.8 1028.5 1042.6 1052.0 1056.7 1113.0 1122.4 1127.1 1136.5 1141.2 1150.6 1164.7 1174.1 1178.8 1192.9 1197.6 1202.3" y="321.55" fill="#f0f0f0" stroke="#f0f0f0" stroke-width="0.15">RPWKPPPERFEDDKGDRLPFGGRRCPGMQLTSGLHHWPPEPGVTMPEATPR</text>
<text transform="scale(0.860,1)" x="741.9 765.4 788.9 835.9 845.3 878.2 962.7 967.4 976.8 995.6 1009.7 1014.4 1145.9 1188.2" y="321.55" fill="#1a1a1a" stroke="#1a1a1a" stroke-width="0.25">CDGYHWTGNFHCRA</text>
<text transform="scale(0.860,1)" x="737.2 760.7 779.5 826.5 854.7 887.6 929.8 972.1 1000.3 1103.7 1131.8 1160.0 1169.4" y="321.55" fill="#555555" stroke="#555555" stroke-width="0.25">MPYPSHPPIINRG</text>
<text transform="scale(0.860,1)" x="751.3 793.6 798.3 868.8 911.0 981.5 1033.2 1037.9 1047.3 1061.4 1066.1 1070.8 1075.5 1080.2 1084.9 1089.6 1094.3 1099.0 1108.3 1117.7 1155.3 1183.5" y="321.55" fill="#888888" stroke="#888888" stroke-width="0.25">YIYGCEVCMEPYRVLQLWQPTA</text>
<text transform="scale(0.860,1)" x="746.6 756.0 770.1 774.8 784.2 803.0 807.7 812.4 817.1 821.8 831.2 840.6 850.0 859.4 864.1 873.5 882.9 892.3 897.0 901.7 906.3 915.7 920.4 925.1 934.5 939.2 943.9 948.6 953.3 958.0 986.2 990.9 1005.0 1019.1 1023.8 1028.5 1042.6 1052.0 1056.7 1113.0 1122.4 1127.1 1136.5 1141.2 1150.6 1164.7 1174.1 1178.8 1192.9 1197.6 1202.3" y="329.70" fill="#f0f0f0" stroke="#f0f0f0" stroke-width="0.15">RPWKPPPERFEDDKGDRLPFGGRRCPGMQLTSGLHHWPPEPGVTMPEATPR</text>
<text transform="scale(0.860,1)" x="741.9 751.3 765.4 788.9 793.6 798.3 835.9 845.3 868.8 878.2 911.0 962.7 967.4 976.8 995.6 1009.7 1014.4 1033.2 1066.1 1084.9 1094.3 1145.9 1188.2" y="329.70" fill="#1a1a1a" stroke="#1a1a1a" stroke-width="0.25">SRRRGSEDNQDTTCDTDCAHSYK</text>
<text transform="scale(0.860,1)" x="737.2 760.7 779.5 826.5 854.7 887.6 929.8 972.1 1000.3 1075.5 1099.0 1103.7 1160.0" y="329.70" fill="#555555" stroke="#555555" stroke-width="0.25">YIYPFNRCMYLGG</text>
<text transform="scale(0.860,1)" x="981.5 1037.9 1047.3 1061.4 1070.8 1080.2 1089.6 1108.3 1117.7 1131.8 1155.3 1169.4 1183.5" y="329.70" fill="#888888" stroke="#888888" stroke-width="0.25">FTPFDEFIDNKMY</text>
<text transform="scale(0.860,1)" x="746.6 756.0 770.1 774.8 784.2 803.0 807.7 812.4 817.1 821.8 831.2 840.6 850.0 859.4 864.1 873.5 882.9 892.3 897.0 901.7 906.3 915.7 920.4 925.1 934.5 939.2 943.9 948.6 953.3 958.0 986.2 990.9 1005.0 1019.1 1023.8 1028.5 1042.6 1052.0 1056.7 1113.0 1122.4 1127.1 1136.5 1141.2 1150.6 1164.7 1174.1 1178.8 1192.9 1197.6 1202.3" y="336.55" fill="#555" stroke="#555" stroke-width="0.20">rpwkppperfeddkgdrlpfggrrcpgmqltsglhhwppepgvtmpeatpr</text>
<text transform="scale(0.860,1)" x="1225.0 1229.7 1234.3" y="296.20" fill="#888" stroke="#888" stroke-width="0.20">493</text>
<text transform="scale(0.860,1)" x="1225.0 1229.7 1234.3" y="304.35" fill="#888" stroke="#888" stroke-width="0.20">496</text>
<text transform="scale(0.860,1)" x="1225.0 1229.7 1234.3" y="312.50" fill="#888" stroke="#888" stroke-width="0.20">499</text>
<text transform="scale(0.860,1)" x="1225.0 1229.7 1234.3" y="320.65" fill="#888" stroke="#888" stroke-width="0.20">488</text>
<text transform="scale(0.860,1)" x="1225.0 1229.7 1234.3" y="328.80" fill="#888" stroke="#888" stroke-width="0.20">493</text>
<rect x="632.00" y="346.90" width="4.04" height="8.20" fill="#000000"/>
<rect x="636.04" y="346.90" width="8.08" height="8.20" fill="#8a8a8a"/>
<rect x="648.16" y="346.90" width="4.04" height="8.20" fill="#8a8a8a"/>
<rect x="652.20" y="346.90" width="4.04" height="8.20" fill="#000000"/>
<rect x="656.24" y="346.90" width="12.12" height="8.20" fill="#8a8a8a"/>
<rect x="668.36" y="346.90" width="8.08" height="8.20" fill="#000000"/>
<rect x="676.44" y="346.90" width="4.04" height="8.20" fill="#cfcfcf"/>
<rect x="632.00" y="355.05" width="4.04" height="8.20" fill="#000000"/>
<rect x="636.04" y="355.05" width="8.08" height="8.20" fill="#8a8a8a"/>
<rect x="648.16" y="355.05" width="4.04" height="8.20" fill="#8a8a8a"/>
<rect x="652.20" y="355.05" width="4.04" height="8.20" fill="#000000"/>
<rect x="660.28" y="355.05" width="8.08" height="8.20" fill="#8a8a8a"/>
<rect x="668.36" y="355.05" width="8.08" height="8.20" fill="#000000"/>
<rect x="676.44" y="355.05" width="4.04" height="8.20" fill="#cfcfcf"/>
<rect x="632.00" y="363.20" width="4.04" height="8.20" fill="#000000"/>
<rect x="636.04" y="363.20" width="8.08" height="8.20" fill="#8a8a8a"/>
<rect x="648.16" y="363.20" width="4.04" height="8.20" fill="#8a8a8a"/>
<rect x="652.20" y="363.20" width="4.04" height="8.20" fill="#000000"/>
<rect x="656.24" y="363.20" width="12.12" height="8.20" fill="#8a8a8a"/>
<rect x="668.36" y="363.20" width="8.08" height="8.20" fill="#000000"/>
<rect x="676.44" y="363.20" width="4.04" height="8.20" fill="#cfcfcf"/>
<rect x="632.00" y="371.35" width="4.04" height="8.20" fill="#000000"/>
<rect x="636.04" y="371.35" width="8.08" height="8.20" fill="#8a8a8a"/>
<rect x="648.16" y="371.35" width="4.04" height="8.20" fill="#8a8a8a"/>
<rect x="652.20" y="371.35" width="4.04" height="8.20" fill="#000000"/>
<rect x="656.24" y="371.35" width="12.12" height="8.20" fill="#8a8a8a"/>
<rect x="668.36" y="371.35" width="8.08" height="8.20" fill="#000000"/>
<rect x="676.44" y="371.35" width="4.04" height="8.20" fill="#cfcfcf"/>
<rect x="632.00" y="379.50" width="4.04" height="8.20" fill="#000000"/>
<rect x="636.04" y="379.50" width="8.08" height="8.20" fill="#8a8a8a"/>
<rect x="648.16" y="379.50" width="4.04" height="8.20" fill="#8a8a8a"/>
<rect x="652.20" y="379.50" width="4.04" height="8.20" fill="#000000"/>
<rect x="656.24" y="379.50" width="12.12" height="8.20" fill="#8a8a8a"/>
<rect x="668.36" y="379.50" width="8.08" height="8.20" fill="#000000"/>
<rect x="676.44" y="379.50" width="4.04" height="8.20" fill="#cfcfcf"/>
<text transform="scale(0.860,1)" x="675.3 680.0 684.7 689.3 694.0 698.6 703.3 707.9 712.6 717.2" y="352.90" fill="#888" stroke="#888" stroke-width="0.25">CbCYP98A14</text>
<text transform="scale(0.860,1)" x="675.3 680.0 684.7 689.3 694.0 698.6 703.3 707.9 712.6 717.2" y="361.05" fill="#888" stroke="#888" stroke-width="0.25">SmCYP98A75</text>
<text transform="scale(0.860,1)" x="675.3 680.0 684.7 689.3 694.0 698.6 703.3 707.9 712.6 717.2" y="369.20" fill="#888" stroke="#888" stroke-width="0.25">SmCYP98A76</text>
<text transform="scale(0.860,1)" x="675.3 680.0 684.7 689.3 694.0 698.6 703.3 707.9 712.6 717.2" y="377.35" fill="#888" stroke="#888" stroke-width="0.25">SmCYP98A77</text>
<text transform="scale(0.860,1)" x="675.3 680.0 684.7 689.3 694.0 698.6 703.3 707.9 712.6 717.2" y="385.50" fill="#888" stroke="#888" stroke-width="0.25">SmCYP98A14</text>
<text transform="scale(0.860,1)" x="675.3 680.0 684.7 689.3 694.0 698.6 703.3 707.9 712.6" y="393.65" fill="#888" stroke="#888" stroke-width="0.25">Consensus</text>
<text transform="scale(0.860,1)" x="737.2 760.7 779.5 784.2" y="353.80" fill="#f0f0f0" stroke="#f0f0f0" stroke-width="0.15">LYAV</text>
<text transform="scale(0.860,1)" x="741.9 746.6 756.0 765.4 770.1 774.8" y="353.80" fill="#1a1a1a" stroke="#1a1a1a" stroke-width="0.25">RFTSHW</text>
<text transform="scale(0.860,1)" x="788.9" y="353.80" fill="#555555" stroke="#555555" stroke-width="0.25">K</text>
<text transform="scale(0.860,1)" x="751.3 793.6" y="353.80" fill="#888888" stroke="#888888" stroke-width="0.25">KY</text>
<text transform="scale(0.860,1)" x="737.2 760.7 779.5 784.2" y="361.95" fill="#f0f0f0" stroke="#f0f0f0" stroke-width="0.15">LYAV</text>
<text transform="scale(0.860,1)" x="741.9 746.6 756.0 770.1 774.8" y="361.95" fill="#1a1a1a" stroke="#1a1a1a" stroke-width="0.25">TINHG</text>
<text transform="scale(0.860,1)" x="788.9" y="361.95" fill="#555555" stroke="#555555" stroke-width="0.25">P</text>
<text transform="scale(0.860,1)" x="751.3 765.4 793.6" y="361.95" fill="#888888" stroke="#888888" stroke-width="0.25">MCG</text>
<text transform="scale(0.860,1)" x="737.2 760.7 779.5 784.2" y="370.10" fill="#f0f0f0" stroke="#f0f0f0" stroke-width="0.15">LYAV</text>
<text transform="scale(0.860,1)" x="741.9 746.6 756.0 765.4 770.1 774.8" y="370.10" fill="#1a1a1a" stroke="#1a1a1a" stroke-width="0.25">KMGKET</text>
<text transform="scale(0.860,1)" x="788.9" y="370.10" fill="#555555" stroke="#555555" stroke-width="0.25">C</text>
<text transform="scale(0.860,1)" x="751.3 793.6" y="370.10" fill="#888888" stroke="#888888" stroke-width="0.25">PN</text>
<text transform="scale(0.860,1)" x="737.2 760.7 779.5 784.2" y="378.25" fill="#f0f0f0" stroke="#f0f0f0" stroke-width="0.15">LYAV</text>
<text transform="scale(0.860,1)" x="741.9 746.6 756.0 765.4 770.1 774.8" y="378.25" fill="#1a1a1a" stroke="#1a1a1a" stroke-width="0.25">RVWEKV</text>
<text transform="scale(0.860,1)" x="788.9" y="378.25" fill="#555555" stroke="#555555" stroke-width="0.25">P</text>
<text transform="scale(0.860,1)" x="751.3 793.6" y="378.25" fill="#888888" stroke="#888888" stroke-width="0.25">TN</text>
<text transform="scale(0.860,1)" x="737.2 760.7 779.5 784.2" y="386.40" fill="#f0f0f0" stroke="#f0f0f0" stroke-width="0.15">LYAV</text>
<text transform="scale(0.860,1)" x="741.9 746.6 756.0 765.4 770.1 774.8" y="386.40" fill="#1a1a1a" stroke="#1a1a1a" stroke-width="0.25">KPWFNM</text>
<text transform="scale(0.860,1)" x="788.9" y="386.40" fill="#555555" stroke="#555555" stroke-width="0.25">D</text>
<text transform="scale(0.860,1)" x="751.3 793.6" y="386.40" fill="#888888" stroke="#888888" stroke-width="0.25">NR</text>
<text transform="scale(0.860,1)" x="737.2 760.7 779.5 784.2" y="393.25" fill="#555" stroke="#555" stroke-width="0.20">lyav</text>
<text transform="scale(0.860,1)" x="1225.0 1229.7 1234.3" y="352.90" fill="#888" stroke="#888" stroke-width="0.20">506</text>
<text transform="scale(0.860,1)" x="1225.0 1229.7 1234.3" y="361.05" fill="#888" stroke="#888" stroke-width="0.20">509</text>
<text transform="scale(0.860,1)" x="1225.0 1229.7 1234.3" y="369.20" fill="#888" stroke="#888" stroke-width="0.20">512</text>
<text transform="scale(0.860,1)" x="1225.0 1229.7 1234.3" y="377.35" fill="#888" stroke="#888" stroke-width="0.20">501</text>
<text transform="scale(0.860,1)" x="1225.0 1229.7 1234.3" y="385.50" fill="#888" stroke="#888" stroke-width="0.20">506</text>
</g>
<rect x="755.6" y="59.0" width="18.2" height="55.6" fill="none" stroke="#e8262a" stroke-width="1.3"/>
<text x="777.8" y="118.5" font-family="Liberation Serif" font-weight="bold" font-size="10" fill="#e8262a">1</text>
<rect x="642.2" y="227.3" width="34.0" height="53.8" fill="none" stroke="#e8262a" stroke-width="1.3"/>
<text x="678.5" y="287.0" font-family="Liberation Serif" font-weight="bold" font-size="10" fill="#e8262a">2</text>
<rect x="760.2" y="227.3" width="41.7" height="53.8" fill="none" stroke="#e8262a" stroke-width="1.3"/>
<text x="804.5" y="287.0" font-family="Liberation Serif" font-weight="bold" font-size="10" fill="#e8262a">3</text>
<rect x="691.4" y="284.7" width="18.0" height="54.6" fill="none" stroke="#e8262a" stroke-width="1.3"/>
<text x="709.8" y="349.0" font-family="Liberation Serif" font-weight="bold" font-size="10" fill="#e8262a">4</text>
<rect x="773.0" y="284.7" width="41.0" height="54.6" fill="none" stroke="#e8262a" stroke-width="1.3"/>
<text x="813.2" y="349.0" font-family="Liberation Serif" font-weight="bold" font-size="10" fill="#e8262a">5</text>
<g>
<rect x="754.3" y="501.3" width="11.2" height="31.3" fill="#d6d6d6"/>
<path d="M759.9 501.3V500.4M756.9 500.4H762.9" stroke="#333" stroke-width="1.1" fill="none"/>
<rect x="767.5" y="491.9" width="10.7" height="40.7" fill="#bdb07e"/>
<path d="M772.9 491.9V490.7M769.9 490.7H775.9" stroke="#333" stroke-width="1.1" fill="none"/>
<rect x="780.6" y="485.7" width="10.7" height="46.9" fill="#0cc00c"/>
<path d="M786.0 485.7V482.5M783.0 482.5H789.0" stroke="#333" stroke-width="1.1" fill="none"/>
<rect x="794.0" y="516.3" width="11.0" height="16.3" fill="#fb9c9c"/>
<path d="M799.5 516.3V513.8M796.5 513.8H802.5" stroke="#333" stroke-width="1.1" fill="none"/>
<rect x="822.0" y="501.3" width="11.2" height="31.3" fill="#d6d6d6"/>
<path d="M827.6 501.3V497.5M824.6 497.5H830.6" stroke="#333" stroke-width="1.1" fill="none"/>
<rect x="835.1" y="445.0" width="10.8" height="87.6" fill="#bdb07e"/>
<path d="M840.5 445.0V441.2M837.5 441.2H843.5" stroke="#333" stroke-width="1.1" fill="none"/>
<rect x="848.3" y="508.5" width="10.7" height="24.1" fill="#0cc00c"/>
<path d="M853.6 508.5V506.3M850.6 506.3H856.6" stroke="#333" stroke-width="1.1" fill="none"/>
<rect x="861.8" y="512.3" width="10.4" height="20.3" fill="#fb9c9c"/>
<path d="M867.0 512.3V511.0M864.0 511.0H870.0" stroke="#333" stroke-width="1.1" fill="none"/>
<rect x="889.7" y="501.3" width="10.3" height="31.3" fill="#d6d6d6"/>
<path d="M894.9 501.3V498.2M891.9 498.2H897.9" stroke="#333" stroke-width="1.1" fill="none"/>
<rect x="902.8" y="517.0" width="10.8" height="15.6" fill="#bdb07e"/>
<path d="M908.2 517.0V516.3M905.2 516.3H911.2" stroke="#333" stroke-width="1.1" fill="none"/>
<rect x="916.0" y="526.3" width="10.7" height="6.3" fill="#0cc00c"/>
<path d="M921.4 526.3V525.1M918.4 525.1H924.4" stroke="#333" stroke-width="1.1" fill="none"/>
<rect x="929.5" y="523.2" width="10.4" height="9.4" fill="#fb9c9c"/>
<path d="M934.7 523.2V522.3M931.7 522.3H937.7" stroke="#333" stroke-width="1.1" fill="none"/>
<rect x="957.4" y="501.3" width="10.3" height="31.3" fill="#d6d6d6"/>
<path d="M962.5 501.3V496.6M959.5 496.6H965.5" stroke="#333" stroke-width="1.1" fill="none"/>
<rect x="970.5" y="493.8" width="10.8" height="38.8" fill="#bdb07e"/>
<path d="M975.9 493.8V489.7M972.9 489.7H978.9" stroke="#333" stroke-width="1.1" fill="none"/>
<rect x="983.6" y="523.2" width="10.8" height="9.4" fill="#0cc00c"/>
<path d="M989.0 523.2V522.6M986.0 522.6H992.0" stroke="#333" stroke-width="1.1" fill="none"/>
<rect x="997.2" y="522.0" width="10.3" height="10.6" fill="#fb9c9c"/>
<path d="M1002.4 522.0V520.4M999.4 520.4H1005.4" stroke="#333" stroke-width="1.1" fill="none"/>
<path d="M779.6 532.6V535.6" stroke="#222" stroke-width="1.3"/>
<path d="M847.1 532.6V535.6" stroke="#222" stroke-width="1.3"/>
<path d="M914.8 532.6V535.6" stroke="#222" stroke-width="1.3"/>
<path d="M982.4 532.6V535.6" stroke="#222" stroke-width="1.3"/>
<path d="M746.3 407V532.6H1016.5" stroke="#3a3a3a" stroke-width="1.6" fill="none"/>
<path d="M743.3 532.6H746.3" stroke="#222" stroke-width="1.4"/>
<text x="740.6" y="535.8" font-family="Liberation Sans" font-weight="bold" font-size="9" fill="#111" text-anchor="end">0</text>
<path d="M743.3 501.3H746.3" stroke="#222" stroke-width="1.4"/>
<text x="740.6" y="504.5" font-family="Liberation Sans" font-weight="bold" font-size="9" fill="#111" text-anchor="end">1</text>
<path d="M743.3 470.0H746.3" stroke="#222" stroke-width="1.4"/>
<text x="740.6" y="473.2" font-family="Liberation Sans" font-weight="bold" font-size="9" fill="#111" text-anchor="end">2</text>
<path d="M743.3 438.7H746.3" stroke="#222" stroke-width="1.4"/>
<text x="740.6" y="441.9" font-family="Liberation Sans" font-weight="bold" font-size="9" fill="#111" text-anchor="end">3</text>
<path d="M743.3 407.4H746.3" stroke="#222" stroke-width="1.4"/>
<text x="740.6" y="410.6" font-family="Liberation Sans" font-weight="bold" font-size="9" fill="#111" text-anchor="end">4</text>
<text transform="translate(715.4,469.5) rotate(-90)" font-family="Liberation Sans" font-weight="bold" font-size="12" fill="#111" text-anchor="middle">Relative expression</text>
<text transform="translate(729.8,470.2) rotate(-90)" font-family="Liberation Sans" font-weight="bold" font-size="12" fill="#111" text-anchor="middle">level</text>
<text transform="translate(782.6,540.0) rotate(-45)" font-family="Liberation Sans" font-weight="bold" font-size="10" fill="#111" text-anchor="end">SmCYP98A75</text>
<text transform="translate(850.4,540.0) rotate(-45)" font-family="Liberation Sans" font-weight="bold" font-size="10" fill="#111" text-anchor="end">SmCYP98A76</text>
<text transform="translate(918.2,540.0) rotate(-45)" font-family="Liberation Sans" font-weight="bold" font-size="10" fill="#111" text-anchor="end">SmCYP98A77</text>
<text transform="translate(986.0,540.0) rotate(-45)" font-family="Liberation Sans" font-weight="bold" font-size="10" fill="#111" text-anchor="end">SmCYP98A14</text>
<rect x="949.8" y="410.3" width="13.5" height="6.6" fill="#d6d6d6"/>
<text x="970.5" y="416.6" font-family="Liberation Sans" font-size="10" fill="#222">Roots</text>
<rect x="949.8" y="424.6" width="13.5" height="6.6" fill="#bdb07e"/>
<text x="970.5" y="431.4" font-family="Liberation Sans" font-size="10" fill="#222">Stems</text>
<rect x="949.8" y="438.9" width="13.5" height="6.6" fill="#0cc00c"/>
<text x="970.5" y="445.3" font-family="Liberation Sans" font-size="10" fill="#222">Leaves</text>
<rect x="949.8" y="453.1" width="13.5" height="6.6" fill="#fb9c9c"/>
<text x="970.5" y="459.2" font-family="Liberation Sans" font-size="10" fill="#222">Flowers</text>
</g></svg>
</body></html>
